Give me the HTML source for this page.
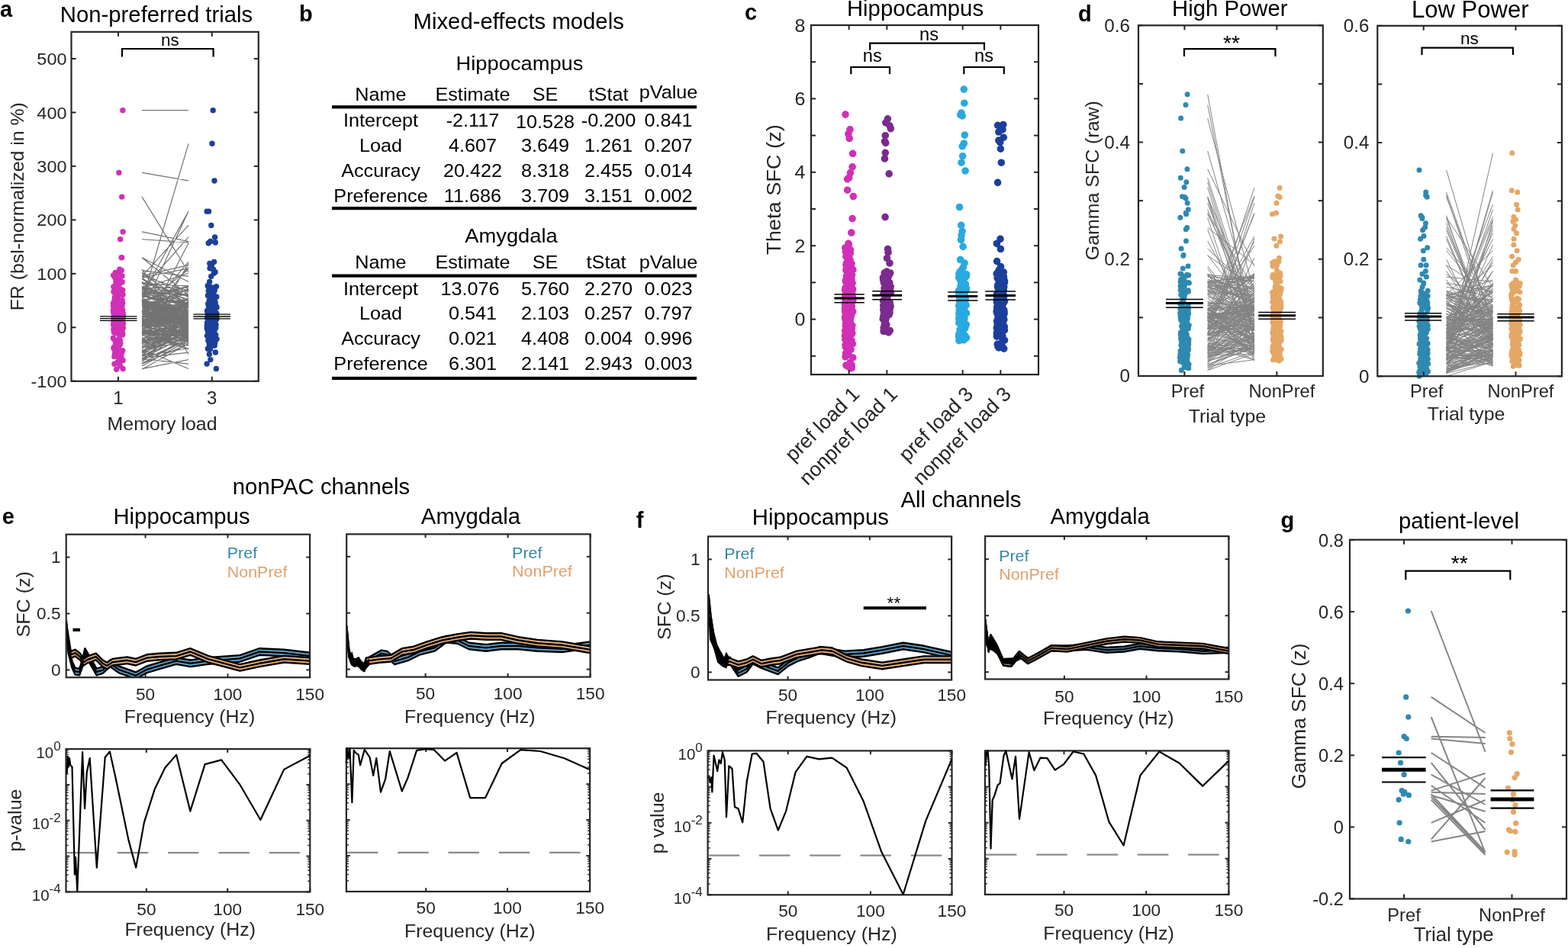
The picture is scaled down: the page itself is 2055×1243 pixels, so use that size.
<!DOCTYPE html>
<html><head><meta charset="utf-8"><title>Figure</title>
<style>html,body{margin:0;padding:0;background:#fff;width:2055px;height:1243px;overflow:hidden}svg{display:block}text{font-family:"Liberation Sans", Arial, Helvetica, sans-serif}</style>
</head><body>
<svg width="2055" height="1243" viewBox="0 0 2055 1243">
<rect width="2055" height="1243" fill="#fff"/>
<path d="M186,405.74L247,409.84M186,412.52L247,419.91M186,414.47L247,407.42M186,386.19L247,408.38M186,420.66L247,413.12M186,412.61L247,422.55M186,439.24L247,457.59M186,380.53L247,413.5M186,408.02L247,433.91M186,434.17L247,433.48M186,427.89L247,411.06M186,396.7L247,433.83M186,431.56L247,441.19M186,405.51L247,413.52M186,470.31L247,477.09M186,393.62L247,409.48M186,384.22L247,419.93M186,411.85L247,418.06M186,436.4L247,427.46M186,369.14L247,418.04M186,416.21L247,398.79M186,417.02L247,449.33M186,456.38L247,435.72M186,400.33L247,404.16M186,389.22L247,434.54M186,406.66L247,447M186,467.38L247,409.08M186,407.29L247,402.62M186,409.11L247,429.01M186,467.29L247,441.21M186,477.15L247,451.24M186,387.09L247,399.5M186,450.72L247,418.58M186,415.09L247,428.11M186,401.14L247,430.85M186,476.55L247,444.34M186,378.38L247,358.21M186,431.9L247,414.91M186,402.34L247,400.36M186,415.98L247,421.45M186,444.54L247,417.13M186,397L247,444.34M186,381.77L247,427.1M186,372.21L247,374.82M186,424.27L247,417.59M186,438.74L247,440.34M186,397.51L247,407.39M186,437.2L247,431M186,376.33L247,425.34M186,391.97L247,413.34M186,420.2L247,391.08M186,420.98L247,430.07M186,463.51L247,434.17M186,427.19L247,395.63M186,436.54L247,438.1M186,429.78L247,436.89M186,410.66L247,402.49M186,371.4L247,422.8M186,401.6L247,398.81M186,407.06L247,416.68M186,432.01L247,415.86M186,412.95L247,420.24M186,421.82L247,418.69M186,424.2L247,418.22M186,357.18L247,401.49M186,421.66L247,400.33M186,405.45L247,406.03M186,365.4L247,394.75M186,394.2L247,374.53M186,415.87L247,421.34M186,397.74L247,439.16M186,396.89L247,393.89M186,454.87L247,427.51M186,376.91L247,392.02M186,448.8L247,415.69M186,424.91L247,398.2M186,470.2L247,439.08M186,421.15L247,406.48M186,439.87L247,453.06M186,387.63L247,399.59M186,392.02L247,420.72M186,397.16L247,412.16M186,417.01L247,377.8M186,418.46L247,426.54M186,398.47L247,415.93M186,477.23L247,441.01M186,419.3L247,438.61M186,437.76L247,411.4M186,370.5L247,387.49M186,450.69L247,430.9M186,420.83L247,444.62M186,426.18L247,446.67M186,379.2L247,381.86M186,446.45L247,402.95M186,452.57L247,432.36M186,401.8L247,426.61M186,437.43L247,439.66M186,437.93L247,448.42M186,448.36L247,434.75M186,472.47L247,423M186,455.7L247,449.8M186,377.75L247,377.22M186,422.79L247,423.35M186,425.26L247,410.19M186,398.91L247,393.92M186,382.73L247,403.68M186,425.42L247,421.73M186,424.16L247,411.56M186,386.4L247,376.44M186,377.56L247,401.78M186,383.72L247,401.19M186,467.35L247,433.51M186,358.29L247,399.13M186,365.93L247,401.35M186,462.84L247,437.53M186,462.07L247,428.82M186,411.17L247,416.65M186,400.71L247,410.06M186,444.53L247,452.97M186,393.37L247,415M186,469.43L247,462.06M186,450.21L247,423.69M186,443.13L247,443.16M186,424.48L247,414.9M186,422.24L247,411.68M186,419.17L247,402.11M186,434.28L247,457.23M186,474.53L247,427.23M186,395.35L247,432.03M186,414.88L247,407.99M186,434.83L247,442.02M186,382.47L247,381.89M186,405.29L247,402.67M186,414.63L247,421.76M186,407.12L247,426.54M186,402.89L247,420.31M186,378.89L247,404.5M186,415.14L247,416.17M186,418.41L247,412.81M186,400.02L247,409.56M186,396.71L247,409.28M186,400.63L247,392.19M186,414.8L247,399.94M186,424.2L247,411.22M186,472.53L247,416.5M186,357.43L247,389.74M186,361.76L247,381.23M186,401.54L247,444.51M186,394.95L247,375.6M186,395.18L247,410.46M186,461.32L247,412.25M186,428.8L247,397.67M186,472.23L247,445.09M186,375.07L247,402.32M186,422.68L247,395.25M186,417.14L247,439.57M186,450.86L247,396.06M186,419.62L247,401.58M186,426.87L247,409.26M186,430.47L247,410.67M186,430.08L247,421.81M186,411.11L247,383.07M186,420.48L247,419.04M186,437.92L247,421.91M186,446.94L247,433.32M186,428.84L247,403.01M186,437.23L247,407.67M186,431.84L247,409.57M186,420.33L247,410.68M186,397.85L247,433M186,456.39L247,430.66M186,450.28L247,441.84M186,407.5L247,414.07M186,432.27L247,444.55M186,383.24L247,387.74M186,410.26L247,401.28M186,467.39L247,456.5M186,459.62L247,441.71M186,407.7L247,419.1M186,465.74L247,423.2M186,406.03L247,379.39M186,407.74L247,425.44M186,411.25L247,411.29M186,425.64L247,428.17M186,479.92L247,446.33M186,402.07L247,380.26M186,428.25L247,420.55M186,381.88L247,386.4M186,462.2L247,420.26M186,402.29L247,415.01M186,428.41L247,418.23M186,369.79L247,389.3M186,435.42L247,433.32M186,433.43L247,426.37M186,439L247,425.2M186,421.01L247,444.66M186,395.19L247,397.53M186,388.56L247,397.91M186,420.08L247,409.81M186,375.99L247,398.14M186,144.64L247,144.64M186,226.38L247,236.94M186,258.08L247,356.73M186,303.88L247,316.56M186,313.75L247,317.97M186,337.7L247,369.41M186,337.7L247,387.02M186,353.2L247,443.39M186,354.61L247,362.36M186,395.48L247,188.33M186,387.02L247,277.11M186,408.16L247,277.11M186,362.36L247,295.43M186,379.98L247,310.93M186,436.35L247,318.68M186,415.21L247,343.34M186,450.44L247,345.45M186,360.95L247,464.53M186,363.77L247,351.79M186,361.66L247,347.57M186,425.78L247,350.38M186,401.12L247,353.2M186,484.26L247,450.44M186,483.55L247,471.58M186,457.48L247,483.55" stroke="#737373" stroke-width="1.2" fill="none"/>
<path d="M147.26,405.74a3.7,3.7 0 1,0 7.4,0a3.7,3.7 0 1,0 -7.4,0M157.66,412.52a3.7,3.7 0 1,0 7.4,0a3.7,3.7 0 1,0 -7.4,0M151.19,414.47a3.7,3.7 0 1,0 7.4,0a3.7,3.7 0 1,0 -7.4,0M157.33,386.19a3.7,3.7 0 1,0 7.4,0a3.7,3.7 0 1,0 -7.4,0M156.79,420.66a3.7,3.7 0 1,0 7.4,0a3.7,3.7 0 1,0 -7.4,0M146.88,412.61a3.7,3.7 0 1,0 7.4,0a3.7,3.7 0 1,0 -7.4,0M155.11,439.24a3.7,3.7 0 1,0 7.4,0a3.7,3.7 0 1,0 -7.4,0M156.98,380.53a3.7,3.7 0 1,0 7.4,0a3.7,3.7 0 1,0 -7.4,0M145.56,408.02a3.7,3.7 0 1,0 7.4,0a3.7,3.7 0 1,0 -7.4,0M149.33,434.17a3.7,3.7 0 1,0 7.4,0a3.7,3.7 0 1,0 -7.4,0M154.68,427.89a3.7,3.7 0 1,0 7.4,0a3.7,3.7 0 1,0 -7.4,0M146.8,396.7a3.7,3.7 0 1,0 7.4,0a3.7,3.7 0 1,0 -7.4,0M156.53,431.56a3.7,3.7 0 1,0 7.4,0a3.7,3.7 0 1,0 -7.4,0M148.33,405.51a3.7,3.7 0 1,0 7.4,0a3.7,3.7 0 1,0 -7.4,0M155.47,470.31a3.7,3.7 0 1,0 7.4,0a3.7,3.7 0 1,0 -7.4,0M146.6,393.62a3.7,3.7 0 1,0 7.4,0a3.7,3.7 0 1,0 -7.4,0M151.33,384.22a3.7,3.7 0 1,0 7.4,0a3.7,3.7 0 1,0 -7.4,0M156.84,411.85a3.7,3.7 0 1,0 7.4,0a3.7,3.7 0 1,0 -7.4,0M147.45,436.4a3.7,3.7 0 1,0 7.4,0a3.7,3.7 0 1,0 -7.4,0M148.17,369.14a3.7,3.7 0 1,0 7.4,0a3.7,3.7 0 1,0 -7.4,0M151.38,416.21a3.7,3.7 0 1,0 7.4,0a3.7,3.7 0 1,0 -7.4,0M148.91,417.02a3.7,3.7 0 1,0 7.4,0a3.7,3.7 0 1,0 -7.4,0M145.19,456.38a3.7,3.7 0 1,0 7.4,0a3.7,3.7 0 1,0 -7.4,0M147.1,400.33a3.7,3.7 0 1,0 7.4,0a3.7,3.7 0 1,0 -7.4,0M146.83,389.22a3.7,3.7 0 1,0 7.4,0a3.7,3.7 0 1,0 -7.4,0M157.06,406.66a3.7,3.7 0 1,0 7.4,0a3.7,3.7 0 1,0 -7.4,0M153.67,467.38a3.7,3.7 0 1,0 7.4,0a3.7,3.7 0 1,0 -7.4,0M156.52,407.29a3.7,3.7 0 1,0 7.4,0a3.7,3.7 0 1,0 -7.4,0M146.93,409.11a3.7,3.7 0 1,0 7.4,0a3.7,3.7 0 1,0 -7.4,0M155.06,467.29a3.7,3.7 0 1,0 7.4,0a3.7,3.7 0 1,0 -7.4,0M146.22,477.15a3.7,3.7 0 1,0 7.4,0a3.7,3.7 0 1,0 -7.4,0M151.71,387.09a3.7,3.7 0 1,0 7.4,0a3.7,3.7 0 1,0 -7.4,0M153.1,450.72a3.7,3.7 0 1,0 7.4,0a3.7,3.7 0 1,0 -7.4,0M149.45,415.09a3.7,3.7 0 1,0 7.4,0a3.7,3.7 0 1,0 -7.4,0M156.22,401.14a3.7,3.7 0 1,0 7.4,0a3.7,3.7 0 1,0 -7.4,0M152.03,476.55a3.7,3.7 0 1,0 7.4,0a3.7,3.7 0 1,0 -7.4,0M152.36,378.38a3.7,3.7 0 1,0 7.4,0a3.7,3.7 0 1,0 -7.4,0M156.35,431.9a3.7,3.7 0 1,0 7.4,0a3.7,3.7 0 1,0 -7.4,0M146.08,402.34a3.7,3.7 0 1,0 7.4,0a3.7,3.7 0 1,0 -7.4,0M157.81,415.98a3.7,3.7 0 1,0 7.4,0a3.7,3.7 0 1,0 -7.4,0M153.01,444.54a3.7,3.7 0 1,0 7.4,0a3.7,3.7 0 1,0 -7.4,0M149.9,397a3.7,3.7 0 1,0 7.4,0a3.7,3.7 0 1,0 -7.4,0M155.23,381.77a3.7,3.7 0 1,0 7.4,0a3.7,3.7 0 1,0 -7.4,0M148.19,372.21a3.7,3.7 0 1,0 7.4,0a3.7,3.7 0 1,0 -7.4,0M157.77,424.27a3.7,3.7 0 1,0 7.4,0a3.7,3.7 0 1,0 -7.4,0M152.32,438.74a3.7,3.7 0 1,0 7.4,0a3.7,3.7 0 1,0 -7.4,0M149.46,397.51a3.7,3.7 0 1,0 7.4,0a3.7,3.7 0 1,0 -7.4,0M154.79,437.2a3.7,3.7 0 1,0 7.4,0a3.7,3.7 0 1,0 -7.4,0M150.54,376.33a3.7,3.7 0 1,0 7.4,0a3.7,3.7 0 1,0 -7.4,0M147.03,391.97a3.7,3.7 0 1,0 7.4,0a3.7,3.7 0 1,0 -7.4,0M154.52,420.2a3.7,3.7 0 1,0 7.4,0a3.7,3.7 0 1,0 -7.4,0M145.34,420.98a3.7,3.7 0 1,0 7.4,0a3.7,3.7 0 1,0 -7.4,0M155.52,463.51a3.7,3.7 0 1,0 7.4,0a3.7,3.7 0 1,0 -7.4,0M148.05,427.19a3.7,3.7 0 1,0 7.4,0a3.7,3.7 0 1,0 -7.4,0M153.14,436.54a3.7,3.7 0 1,0 7.4,0a3.7,3.7 0 1,0 -7.4,0M157.69,429.78a3.7,3.7 0 1,0 7.4,0a3.7,3.7 0 1,0 -7.4,0M152.43,410.66a3.7,3.7 0 1,0 7.4,0a3.7,3.7 0 1,0 -7.4,0M153.46,371.4a3.7,3.7 0 1,0 7.4,0a3.7,3.7 0 1,0 -7.4,0M148.83,401.6a3.7,3.7 0 1,0 7.4,0a3.7,3.7 0 1,0 -7.4,0M144.72,407.06a3.7,3.7 0 1,0 7.4,0a3.7,3.7 0 1,0 -7.4,0M145.15,432.01a3.7,3.7 0 1,0 7.4,0a3.7,3.7 0 1,0 -7.4,0M146.67,412.95a3.7,3.7 0 1,0 7.4,0a3.7,3.7 0 1,0 -7.4,0M152.83,421.82a3.7,3.7 0 1,0 7.4,0a3.7,3.7 0 1,0 -7.4,0M150.41,424.2a3.7,3.7 0 1,0 7.4,0a3.7,3.7 0 1,0 -7.4,0M151.47,357.18a3.7,3.7 0 1,0 7.4,0a3.7,3.7 0 1,0 -7.4,0M156.52,421.66a3.7,3.7 0 1,0 7.4,0a3.7,3.7 0 1,0 -7.4,0M146.44,405.45a3.7,3.7 0 1,0 7.4,0a3.7,3.7 0 1,0 -7.4,0M147.7,365.4a3.7,3.7 0 1,0 7.4,0a3.7,3.7 0 1,0 -7.4,0M153.32,394.2a3.7,3.7 0 1,0 7.4,0a3.7,3.7 0 1,0 -7.4,0M144.99,415.87a3.7,3.7 0 1,0 7.4,0a3.7,3.7 0 1,0 -7.4,0M144.73,397.74a3.7,3.7 0 1,0 7.4,0a3.7,3.7 0 1,0 -7.4,0M149.39,396.89a3.7,3.7 0 1,0 7.4,0a3.7,3.7 0 1,0 -7.4,0M146.1,454.87a3.7,3.7 0 1,0 7.4,0a3.7,3.7 0 1,0 -7.4,0M149.41,376.91a3.7,3.7 0 1,0 7.4,0a3.7,3.7 0 1,0 -7.4,0M147.66,448.8a3.7,3.7 0 1,0 7.4,0a3.7,3.7 0 1,0 -7.4,0M152.4,424.91a3.7,3.7 0 1,0 7.4,0a3.7,3.7 0 1,0 -7.4,0M152.48,470.2a3.7,3.7 0 1,0 7.4,0a3.7,3.7 0 1,0 -7.4,0M147.4,421.15a3.7,3.7 0 1,0 7.4,0a3.7,3.7 0 1,0 -7.4,0M152.94,439.87a3.7,3.7 0 1,0 7.4,0a3.7,3.7 0 1,0 -7.4,0M150.97,387.63a3.7,3.7 0 1,0 7.4,0a3.7,3.7 0 1,0 -7.4,0M146.48,392.02a3.7,3.7 0 1,0 7.4,0a3.7,3.7 0 1,0 -7.4,0M157.06,397.16a3.7,3.7 0 1,0 7.4,0a3.7,3.7 0 1,0 -7.4,0M147.92,417.01a3.7,3.7 0 1,0 7.4,0a3.7,3.7 0 1,0 -7.4,0M146.67,418.46a3.7,3.7 0 1,0 7.4,0a3.7,3.7 0 1,0 -7.4,0M145.96,398.47a3.7,3.7 0 1,0 7.4,0a3.7,3.7 0 1,0 -7.4,0M153.12,477.23a3.7,3.7 0 1,0 7.4,0a3.7,3.7 0 1,0 -7.4,0M156.2,419.3a3.7,3.7 0 1,0 7.4,0a3.7,3.7 0 1,0 -7.4,0M155.02,437.76a3.7,3.7 0 1,0 7.4,0a3.7,3.7 0 1,0 -7.4,0M150.01,370.5a3.7,3.7 0 1,0 7.4,0a3.7,3.7 0 1,0 -7.4,0M148.19,450.69a3.7,3.7 0 1,0 7.4,0a3.7,3.7 0 1,0 -7.4,0M144.85,420.83a3.7,3.7 0 1,0 7.4,0a3.7,3.7 0 1,0 -7.4,0M153.21,426.18a3.7,3.7 0 1,0 7.4,0a3.7,3.7 0 1,0 -7.4,0M152.12,379.2a3.7,3.7 0 1,0 7.4,0a3.7,3.7 0 1,0 -7.4,0M149.32,446.45a3.7,3.7 0 1,0 7.4,0a3.7,3.7 0 1,0 -7.4,0M153.22,452.57a3.7,3.7 0 1,0 7.4,0a3.7,3.7 0 1,0 -7.4,0M150.56,401.8a3.7,3.7 0 1,0 7.4,0a3.7,3.7 0 1,0 -7.4,0M157.07,437.43a3.7,3.7 0 1,0 7.4,0a3.7,3.7 0 1,0 -7.4,0M154.38,437.93a3.7,3.7 0 1,0 7.4,0a3.7,3.7 0 1,0 -7.4,0M147.98,448.36a3.7,3.7 0 1,0 7.4,0a3.7,3.7 0 1,0 -7.4,0M156.63,472.47a3.7,3.7 0 1,0 7.4,0a3.7,3.7 0 1,0 -7.4,0M145.28,455.7a3.7,3.7 0 1,0 7.4,0a3.7,3.7 0 1,0 -7.4,0M151.72,377.75a3.7,3.7 0 1,0 7.4,0a3.7,3.7 0 1,0 -7.4,0M150.06,422.79a3.7,3.7 0 1,0 7.4,0a3.7,3.7 0 1,0 -7.4,0M147.84,425.26a3.7,3.7 0 1,0 7.4,0a3.7,3.7 0 1,0 -7.4,0M145.47,398.91a3.7,3.7 0 1,0 7.4,0a3.7,3.7 0 1,0 -7.4,0M154.98,382.73a3.7,3.7 0 1,0 7.4,0a3.7,3.7 0 1,0 -7.4,0M144.86,425.42a3.7,3.7 0 1,0 7.4,0a3.7,3.7 0 1,0 -7.4,0M151.97,424.16a3.7,3.7 0 1,0 7.4,0a3.7,3.7 0 1,0 -7.4,0M157.12,386.4a3.7,3.7 0 1,0 7.4,0a3.7,3.7 0 1,0 -7.4,0M146.58,377.56a3.7,3.7 0 1,0 7.4,0a3.7,3.7 0 1,0 -7.4,0M147.33,383.72a3.7,3.7 0 1,0 7.4,0a3.7,3.7 0 1,0 -7.4,0M152.73,467.35a3.7,3.7 0 1,0 7.4,0a3.7,3.7 0 1,0 -7.4,0M151.39,358.29a3.7,3.7 0 1,0 7.4,0a3.7,3.7 0 1,0 -7.4,0M153.17,365.93a3.7,3.7 0 1,0 7.4,0a3.7,3.7 0 1,0 -7.4,0M155.44,462.84a3.7,3.7 0 1,0 7.4,0a3.7,3.7 0 1,0 -7.4,0M147.01,462.07a3.7,3.7 0 1,0 7.4,0a3.7,3.7 0 1,0 -7.4,0M148.78,411.17a3.7,3.7 0 1,0 7.4,0a3.7,3.7 0 1,0 -7.4,0M148.66,400.71a3.7,3.7 0 1,0 7.4,0a3.7,3.7 0 1,0 -7.4,0M145.34,444.53a3.7,3.7 0 1,0 7.4,0a3.7,3.7 0 1,0 -7.4,0M156.44,393.37a3.7,3.7 0 1,0 7.4,0a3.7,3.7 0 1,0 -7.4,0M155.04,469.43a3.7,3.7 0 1,0 7.4,0a3.7,3.7 0 1,0 -7.4,0M154.14,450.21a3.7,3.7 0 1,0 7.4,0a3.7,3.7 0 1,0 -7.4,0M144.78,443.13a3.7,3.7 0 1,0 7.4,0a3.7,3.7 0 1,0 -7.4,0M155.85,424.48a3.7,3.7 0 1,0 7.4,0a3.7,3.7 0 1,0 -7.4,0M154.54,422.24a3.7,3.7 0 1,0 7.4,0a3.7,3.7 0 1,0 -7.4,0M150.84,419.17a3.7,3.7 0 1,0 7.4,0a3.7,3.7 0 1,0 -7.4,0M154.49,434.28a3.7,3.7 0 1,0 7.4,0a3.7,3.7 0 1,0 -7.4,0M150.67,474.53a3.7,3.7 0 1,0 7.4,0a3.7,3.7 0 1,0 -7.4,0M147.68,395.35a3.7,3.7 0 1,0 7.4,0a3.7,3.7 0 1,0 -7.4,0M146.09,414.88a3.7,3.7 0 1,0 7.4,0a3.7,3.7 0 1,0 -7.4,0M147.77,434.83a3.7,3.7 0 1,0 7.4,0a3.7,3.7 0 1,0 -7.4,0M145.21,382.47a3.7,3.7 0 1,0 7.4,0a3.7,3.7 0 1,0 -7.4,0M149.13,405.29a3.7,3.7 0 1,0 7.4,0a3.7,3.7 0 1,0 -7.4,0M154.6,414.63a3.7,3.7 0 1,0 7.4,0a3.7,3.7 0 1,0 -7.4,0M153.88,407.12a3.7,3.7 0 1,0 7.4,0a3.7,3.7 0 1,0 -7.4,0M155.86,402.89a3.7,3.7 0 1,0 7.4,0a3.7,3.7 0 1,0 -7.4,0M154.09,378.89a3.7,3.7 0 1,0 7.4,0a3.7,3.7 0 1,0 -7.4,0M148.21,415.14a3.7,3.7 0 1,0 7.4,0a3.7,3.7 0 1,0 -7.4,0M152.01,418.41a3.7,3.7 0 1,0 7.4,0a3.7,3.7 0 1,0 -7.4,0M150.46,400.02a3.7,3.7 0 1,0 7.4,0a3.7,3.7 0 1,0 -7.4,0M155.11,396.71a3.7,3.7 0 1,0 7.4,0a3.7,3.7 0 1,0 -7.4,0M151.61,400.63a3.7,3.7 0 1,0 7.4,0a3.7,3.7 0 1,0 -7.4,0M148.2,414.8a3.7,3.7 0 1,0 7.4,0a3.7,3.7 0 1,0 -7.4,0M153.17,424.2a3.7,3.7 0 1,0 7.4,0a3.7,3.7 0 1,0 -7.4,0M157.44,472.53a3.7,3.7 0 1,0 7.4,0a3.7,3.7 0 1,0 -7.4,0M147.56,357.43a3.7,3.7 0 1,0 7.4,0a3.7,3.7 0 1,0 -7.4,0M156.32,361.76a3.7,3.7 0 1,0 7.4,0a3.7,3.7 0 1,0 -7.4,0M144.9,401.54a3.7,3.7 0 1,0 7.4,0a3.7,3.7 0 1,0 -7.4,0M148.14,394.95a3.7,3.7 0 1,0 7.4,0a3.7,3.7 0 1,0 -7.4,0M147.82,395.18a3.7,3.7 0 1,0 7.4,0a3.7,3.7 0 1,0 -7.4,0M154.52,461.32a3.7,3.7 0 1,0 7.4,0a3.7,3.7 0 1,0 -7.4,0M157.17,428.8a3.7,3.7 0 1,0 7.4,0a3.7,3.7 0 1,0 -7.4,0M154.55,472.23a3.7,3.7 0 1,0 7.4,0a3.7,3.7 0 1,0 -7.4,0M149.01,375.07a3.7,3.7 0 1,0 7.4,0a3.7,3.7 0 1,0 -7.4,0M156.32,422.68a3.7,3.7 0 1,0 7.4,0a3.7,3.7 0 1,0 -7.4,0M149.04,417.14a3.7,3.7 0 1,0 7.4,0a3.7,3.7 0 1,0 -7.4,0M147.86,450.86a3.7,3.7 0 1,0 7.4,0a3.7,3.7 0 1,0 -7.4,0M156.68,419.62a3.7,3.7 0 1,0 7.4,0a3.7,3.7 0 1,0 -7.4,0M153.03,426.87a3.7,3.7 0 1,0 7.4,0a3.7,3.7 0 1,0 -7.4,0M153.85,430.47a3.7,3.7 0 1,0 7.4,0a3.7,3.7 0 1,0 -7.4,0M153.48,430.08a3.7,3.7 0 1,0 7.4,0a3.7,3.7 0 1,0 -7.4,0M157.62,411.11a3.7,3.7 0 1,0 7.4,0a3.7,3.7 0 1,0 -7.4,0M150.9,420.48a3.7,3.7 0 1,0 7.4,0a3.7,3.7 0 1,0 -7.4,0M155.78,437.92a3.7,3.7 0 1,0 7.4,0a3.7,3.7 0 1,0 -7.4,0M153.91,446.94a3.7,3.7 0 1,0 7.4,0a3.7,3.7 0 1,0 -7.4,0M156.02,428.84a3.7,3.7 0 1,0 7.4,0a3.7,3.7 0 1,0 -7.4,0M150.47,437.23a3.7,3.7 0 1,0 7.4,0a3.7,3.7 0 1,0 -7.4,0M154.27,431.84a3.7,3.7 0 1,0 7.4,0a3.7,3.7 0 1,0 -7.4,0M152.23,420.33a3.7,3.7 0 1,0 7.4,0a3.7,3.7 0 1,0 -7.4,0M148.76,397.85a3.7,3.7 0 1,0 7.4,0a3.7,3.7 0 1,0 -7.4,0M147.5,456.39a3.7,3.7 0 1,0 7.4,0a3.7,3.7 0 1,0 -7.4,0M152.92,450.28a3.7,3.7 0 1,0 7.4,0a3.7,3.7 0 1,0 -7.4,0M145.73,407.5a3.7,3.7 0 1,0 7.4,0a3.7,3.7 0 1,0 -7.4,0M156.72,432.27a3.7,3.7 0 1,0 7.4,0a3.7,3.7 0 1,0 -7.4,0M146.61,383.24a3.7,3.7 0 1,0 7.4,0a3.7,3.7 0 1,0 -7.4,0M145.06,410.26a3.7,3.7 0 1,0 7.4,0a3.7,3.7 0 1,0 -7.4,0M146.11,467.39a3.7,3.7 0 1,0 7.4,0a3.7,3.7 0 1,0 -7.4,0M156.96,459.62a3.7,3.7 0 1,0 7.4,0a3.7,3.7 0 1,0 -7.4,0M149.25,407.7a3.7,3.7 0 1,0 7.4,0a3.7,3.7 0 1,0 -7.4,0M146.57,465.74a3.7,3.7 0 1,0 7.4,0a3.7,3.7 0 1,0 -7.4,0M145.08,406.03a3.7,3.7 0 1,0 7.4,0a3.7,3.7 0 1,0 -7.4,0M145.25,407.74a3.7,3.7 0 1,0 7.4,0a3.7,3.7 0 1,0 -7.4,0M153.84,411.25a3.7,3.7 0 1,0 7.4,0a3.7,3.7 0 1,0 -7.4,0M153.07,425.64a3.7,3.7 0 1,0 7.4,0a3.7,3.7 0 1,0 -7.4,0M153.9,479.92a3.7,3.7 0 1,0 7.4,0a3.7,3.7 0 1,0 -7.4,0M154.43,402.07a3.7,3.7 0 1,0 7.4,0a3.7,3.7 0 1,0 -7.4,0M145.57,428.25a3.7,3.7 0 1,0 7.4,0a3.7,3.7 0 1,0 -7.4,0M152.49,381.88a3.7,3.7 0 1,0 7.4,0a3.7,3.7 0 1,0 -7.4,0M149.5,462.2a3.7,3.7 0 1,0 7.4,0a3.7,3.7 0 1,0 -7.4,0M155.49,402.29a3.7,3.7 0 1,0 7.4,0a3.7,3.7 0 1,0 -7.4,0M155.52,428.41a3.7,3.7 0 1,0 7.4,0a3.7,3.7 0 1,0 -7.4,0M156.46,369.79a3.7,3.7 0 1,0 7.4,0a3.7,3.7 0 1,0 -7.4,0M145.57,435.42a3.7,3.7 0 1,0 7.4,0a3.7,3.7 0 1,0 -7.4,0M156.15,433.43a3.7,3.7 0 1,0 7.4,0a3.7,3.7 0 1,0 -7.4,0M156.77,439a3.7,3.7 0 1,0 7.4,0a3.7,3.7 0 1,0 -7.4,0M157.17,421.01a3.7,3.7 0 1,0 7.4,0a3.7,3.7 0 1,0 -7.4,0M146.11,395.19a3.7,3.7 0 1,0 7.4,0a3.7,3.7 0 1,0 -7.4,0M147.42,388.56a3.7,3.7 0 1,0 7.4,0a3.7,3.7 0 1,0 -7.4,0M146.18,420.08a3.7,3.7 0 1,0 7.4,0a3.7,3.7 0 1,0 -7.4,0M145.15,375.99a3.7,3.7 0 1,0 7.4,0a3.7,3.7 0 1,0 -7.4,0M157.2,144.64a3.7,3.7 0 1,0 7.4,0a3.7,3.7 0 1,0 -7.4,0M152.2,226.38a3.7,3.7 0 1,0 7.4,0a3.7,3.7 0 1,0 -7.4,0M156,258.08a3.7,3.7 0 1,0 7.4,0a3.7,3.7 0 1,0 -7.4,0M157.4,303.88a3.7,3.7 0 1,0 7.4,0a3.7,3.7 0 1,0 -7.4,0M154,313.75a3.7,3.7 0 1,0 7.4,0a3.7,3.7 0 1,0 -7.4,0M155.89,337.7a3.7,3.7 0 1,0 7.4,0a3.7,3.7 0 1,0 -7.4,0M155.42,337.7a3.7,3.7 0 1,0 7.4,0a3.7,3.7 0 1,0 -7.4,0M153.07,353.2a3.7,3.7 0 1,0 7.4,0a3.7,3.7 0 1,0 -7.4,0M155.59,354.61a3.7,3.7 0 1,0 7.4,0a3.7,3.7 0 1,0 -7.4,0M153.04,395.48a3.7,3.7 0 1,0 7.4,0a3.7,3.7 0 1,0 -7.4,0M148.49,387.02a3.7,3.7 0 1,0 7.4,0a3.7,3.7 0 1,0 -7.4,0M146.02,408.16a3.7,3.7 0 1,0 7.4,0a3.7,3.7 0 1,0 -7.4,0M145.99,362.36a3.7,3.7 0 1,0 7.4,0a3.7,3.7 0 1,0 -7.4,0M154.7,379.98a3.7,3.7 0 1,0 7.4,0a3.7,3.7 0 1,0 -7.4,0M147.41,436.35a3.7,3.7 0 1,0 7.4,0a3.7,3.7 0 1,0 -7.4,0M148.91,415.21a3.7,3.7 0 1,0 7.4,0a3.7,3.7 0 1,0 -7.4,0M150.29,450.44a3.7,3.7 0 1,0 7.4,0a3.7,3.7 0 1,0 -7.4,0M144.98,360.95a3.7,3.7 0 1,0 7.4,0a3.7,3.7 0 1,0 -7.4,0M148.09,363.77a3.7,3.7 0 1,0 7.4,0a3.7,3.7 0 1,0 -7.4,0M148.43,361.66a3.7,3.7 0 1,0 7.4,0a3.7,3.7 0 1,0 -7.4,0M154.15,425.78a3.7,3.7 0 1,0 7.4,0a3.7,3.7 0 1,0 -7.4,0M149.56,401.12a3.7,3.7 0 1,0 7.4,0a3.7,3.7 0 1,0 -7.4,0M148.93,484.26a3.7,3.7 0 1,0 7.4,0a3.7,3.7 0 1,0 -7.4,0M157.42,483.55a3.7,3.7 0 1,0 7.4,0a3.7,3.7 0 1,0 -7.4,0M151.35,457.48a3.7,3.7 0 1,0 7.4,0a3.7,3.7 0 1,0 -7.4,0" fill="#D12FB7"/>
<path d="M278.64,409.84a3.7,3.7 0 1,0 7.4,0a3.7,3.7 0 1,0 -7.4,0M275.56,419.91a3.7,3.7 0 1,0 7.4,0a3.7,3.7 0 1,0 -7.4,0M267.81,407.42a3.7,3.7 0 1,0 7.4,0a3.7,3.7 0 1,0 -7.4,0M272.85,408.38a3.7,3.7 0 1,0 7.4,0a3.7,3.7 0 1,0 -7.4,0M273.16,413.12a3.7,3.7 0 1,0 7.4,0a3.7,3.7 0 1,0 -7.4,0M277.6,422.55a3.7,3.7 0 1,0 7.4,0a3.7,3.7 0 1,0 -7.4,0M271.98,457.59a3.7,3.7 0 1,0 7.4,0a3.7,3.7 0 1,0 -7.4,0M276.7,413.5a3.7,3.7 0 1,0 7.4,0a3.7,3.7 0 1,0 -7.4,0M274.5,433.91a3.7,3.7 0 1,0 7.4,0a3.7,3.7 0 1,0 -7.4,0M270.26,433.48a3.7,3.7 0 1,0 7.4,0a3.7,3.7 0 1,0 -7.4,0M278.78,411.06a3.7,3.7 0 1,0 7.4,0a3.7,3.7 0 1,0 -7.4,0M268.6,433.83a3.7,3.7 0 1,0 7.4,0a3.7,3.7 0 1,0 -7.4,0M278.22,441.19a3.7,3.7 0 1,0 7.4,0a3.7,3.7 0 1,0 -7.4,0M269.65,413.52a3.7,3.7 0 1,0 7.4,0a3.7,3.7 0 1,0 -7.4,0M267.42,477.09a3.7,3.7 0 1,0 7.4,0a3.7,3.7 0 1,0 -7.4,0M270.07,409.48a3.7,3.7 0 1,0 7.4,0a3.7,3.7 0 1,0 -7.4,0M277.46,419.93a3.7,3.7 0 1,0 7.4,0a3.7,3.7 0 1,0 -7.4,0M280.31,418.06a3.7,3.7 0 1,0 7.4,0a3.7,3.7 0 1,0 -7.4,0M267.46,427.46a3.7,3.7 0 1,0 7.4,0a3.7,3.7 0 1,0 -7.4,0M273.88,418.04a3.7,3.7 0 1,0 7.4,0a3.7,3.7 0 1,0 -7.4,0M273.89,398.79a3.7,3.7 0 1,0 7.4,0a3.7,3.7 0 1,0 -7.4,0M277.92,449.33a3.7,3.7 0 1,0 7.4,0a3.7,3.7 0 1,0 -7.4,0M269.84,435.72a3.7,3.7 0 1,0 7.4,0a3.7,3.7 0 1,0 -7.4,0M273.93,404.16a3.7,3.7 0 1,0 7.4,0a3.7,3.7 0 1,0 -7.4,0M271.98,434.54a3.7,3.7 0 1,0 7.4,0a3.7,3.7 0 1,0 -7.4,0M278.38,447a3.7,3.7 0 1,0 7.4,0a3.7,3.7 0 1,0 -7.4,0M270.84,409.08a3.7,3.7 0 1,0 7.4,0a3.7,3.7 0 1,0 -7.4,0M279.86,402.62a3.7,3.7 0 1,0 7.4,0a3.7,3.7 0 1,0 -7.4,0M271.15,429.01a3.7,3.7 0 1,0 7.4,0a3.7,3.7 0 1,0 -7.4,0M270.23,441.21a3.7,3.7 0 1,0 7.4,0a3.7,3.7 0 1,0 -7.4,0M276.63,451.24a3.7,3.7 0 1,0 7.4,0a3.7,3.7 0 1,0 -7.4,0M273.98,399.5a3.7,3.7 0 1,0 7.4,0a3.7,3.7 0 1,0 -7.4,0M268.85,418.58a3.7,3.7 0 1,0 7.4,0a3.7,3.7 0 1,0 -7.4,0M275.8,428.11a3.7,3.7 0 1,0 7.4,0a3.7,3.7 0 1,0 -7.4,0M268.47,430.85a3.7,3.7 0 1,0 7.4,0a3.7,3.7 0 1,0 -7.4,0M277.8,444.34a3.7,3.7 0 1,0 7.4,0a3.7,3.7 0 1,0 -7.4,0M276.6,358.21a3.7,3.7 0 1,0 7.4,0a3.7,3.7 0 1,0 -7.4,0M277.79,414.91a3.7,3.7 0 1,0 7.4,0a3.7,3.7 0 1,0 -7.4,0M275.69,400.36a3.7,3.7 0 1,0 7.4,0a3.7,3.7 0 1,0 -7.4,0M272.09,421.45a3.7,3.7 0 1,0 7.4,0a3.7,3.7 0 1,0 -7.4,0M272.7,417.13a3.7,3.7 0 1,0 7.4,0a3.7,3.7 0 1,0 -7.4,0M272.61,444.34a3.7,3.7 0 1,0 7.4,0a3.7,3.7 0 1,0 -7.4,0M279.15,427.1a3.7,3.7 0 1,0 7.4,0a3.7,3.7 0 1,0 -7.4,0M268.54,374.82a3.7,3.7 0 1,0 7.4,0a3.7,3.7 0 1,0 -7.4,0M279.13,417.59a3.7,3.7 0 1,0 7.4,0a3.7,3.7 0 1,0 -7.4,0M267.73,440.34a3.7,3.7 0 1,0 7.4,0a3.7,3.7 0 1,0 -7.4,0M270.12,407.39a3.7,3.7 0 1,0 7.4,0a3.7,3.7 0 1,0 -7.4,0M270.87,431a3.7,3.7 0 1,0 7.4,0a3.7,3.7 0 1,0 -7.4,0M279.3,425.34a3.7,3.7 0 1,0 7.4,0a3.7,3.7 0 1,0 -7.4,0M274.02,413.34a3.7,3.7 0 1,0 7.4,0a3.7,3.7 0 1,0 -7.4,0M272.41,391.08a3.7,3.7 0 1,0 7.4,0a3.7,3.7 0 1,0 -7.4,0M279.07,430.07a3.7,3.7 0 1,0 7.4,0a3.7,3.7 0 1,0 -7.4,0M270.48,434.17a3.7,3.7 0 1,0 7.4,0a3.7,3.7 0 1,0 -7.4,0M273.48,395.63a3.7,3.7 0 1,0 7.4,0a3.7,3.7 0 1,0 -7.4,0M274.42,438.1a3.7,3.7 0 1,0 7.4,0a3.7,3.7 0 1,0 -7.4,0M277.36,436.89a3.7,3.7 0 1,0 7.4,0a3.7,3.7 0 1,0 -7.4,0M277.34,402.49a3.7,3.7 0 1,0 7.4,0a3.7,3.7 0 1,0 -7.4,0M275.93,422.8a3.7,3.7 0 1,0 7.4,0a3.7,3.7 0 1,0 -7.4,0M272,398.81a3.7,3.7 0 1,0 7.4,0a3.7,3.7 0 1,0 -7.4,0M271.71,416.68a3.7,3.7 0 1,0 7.4,0a3.7,3.7 0 1,0 -7.4,0M269.45,415.86a3.7,3.7 0 1,0 7.4,0a3.7,3.7 0 1,0 -7.4,0M278.53,420.24a3.7,3.7 0 1,0 7.4,0a3.7,3.7 0 1,0 -7.4,0M276.14,418.69a3.7,3.7 0 1,0 7.4,0a3.7,3.7 0 1,0 -7.4,0M277.19,418.22a3.7,3.7 0 1,0 7.4,0a3.7,3.7 0 1,0 -7.4,0M269.64,401.49a3.7,3.7 0 1,0 7.4,0a3.7,3.7 0 1,0 -7.4,0M273.19,400.33a3.7,3.7 0 1,0 7.4,0a3.7,3.7 0 1,0 -7.4,0M277.61,406.03a3.7,3.7 0 1,0 7.4,0a3.7,3.7 0 1,0 -7.4,0M275.05,394.75a3.7,3.7 0 1,0 7.4,0a3.7,3.7 0 1,0 -7.4,0M269.06,374.53a3.7,3.7 0 1,0 7.4,0a3.7,3.7 0 1,0 -7.4,0M273.5,421.34a3.7,3.7 0 1,0 7.4,0a3.7,3.7 0 1,0 -7.4,0M279.08,439.16a3.7,3.7 0 1,0 7.4,0a3.7,3.7 0 1,0 -7.4,0M270.54,393.89a3.7,3.7 0 1,0 7.4,0a3.7,3.7 0 1,0 -7.4,0M269.93,427.51a3.7,3.7 0 1,0 7.4,0a3.7,3.7 0 1,0 -7.4,0M271.38,392.02a3.7,3.7 0 1,0 7.4,0a3.7,3.7 0 1,0 -7.4,0M276.68,415.69a3.7,3.7 0 1,0 7.4,0a3.7,3.7 0 1,0 -7.4,0M278.54,398.2a3.7,3.7 0 1,0 7.4,0a3.7,3.7 0 1,0 -7.4,0M269.44,439.08a3.7,3.7 0 1,0 7.4,0a3.7,3.7 0 1,0 -7.4,0M269.46,406.48a3.7,3.7 0 1,0 7.4,0a3.7,3.7 0 1,0 -7.4,0M270.67,453.06a3.7,3.7 0 1,0 7.4,0a3.7,3.7 0 1,0 -7.4,0M271.71,399.59a3.7,3.7 0 1,0 7.4,0a3.7,3.7 0 1,0 -7.4,0M274.29,420.72a3.7,3.7 0 1,0 7.4,0a3.7,3.7 0 1,0 -7.4,0M269.52,412.16a3.7,3.7 0 1,0 7.4,0a3.7,3.7 0 1,0 -7.4,0M271.73,377.8a3.7,3.7 0 1,0 7.4,0a3.7,3.7 0 1,0 -7.4,0M269.9,426.54a3.7,3.7 0 1,0 7.4,0a3.7,3.7 0 1,0 -7.4,0M280.27,415.93a3.7,3.7 0 1,0 7.4,0a3.7,3.7 0 1,0 -7.4,0M277.02,441.01a3.7,3.7 0 1,0 7.4,0a3.7,3.7 0 1,0 -7.4,0M268.74,438.61a3.7,3.7 0 1,0 7.4,0a3.7,3.7 0 1,0 -7.4,0M280.1,411.4a3.7,3.7 0 1,0 7.4,0a3.7,3.7 0 1,0 -7.4,0M268.74,387.49a3.7,3.7 0 1,0 7.4,0a3.7,3.7 0 1,0 -7.4,0M272.47,430.9a3.7,3.7 0 1,0 7.4,0a3.7,3.7 0 1,0 -7.4,0M280.39,444.62a3.7,3.7 0 1,0 7.4,0a3.7,3.7 0 1,0 -7.4,0M277.89,446.67a3.7,3.7 0 1,0 7.4,0a3.7,3.7 0 1,0 -7.4,0M277.08,381.86a3.7,3.7 0 1,0 7.4,0a3.7,3.7 0 1,0 -7.4,0M273.14,402.95a3.7,3.7 0 1,0 7.4,0a3.7,3.7 0 1,0 -7.4,0M269.99,432.36a3.7,3.7 0 1,0 7.4,0a3.7,3.7 0 1,0 -7.4,0M275.82,426.61a3.7,3.7 0 1,0 7.4,0a3.7,3.7 0 1,0 -7.4,0M268.81,439.66a3.7,3.7 0 1,0 7.4,0a3.7,3.7 0 1,0 -7.4,0M270.13,448.42a3.7,3.7 0 1,0 7.4,0a3.7,3.7 0 1,0 -7.4,0M272.53,434.75a3.7,3.7 0 1,0 7.4,0a3.7,3.7 0 1,0 -7.4,0M267.85,423a3.7,3.7 0 1,0 7.4,0a3.7,3.7 0 1,0 -7.4,0M272.67,449.8a3.7,3.7 0 1,0 7.4,0a3.7,3.7 0 1,0 -7.4,0M277.84,377.22a3.7,3.7 0 1,0 7.4,0a3.7,3.7 0 1,0 -7.4,0M276.55,423.35a3.7,3.7 0 1,0 7.4,0a3.7,3.7 0 1,0 -7.4,0M274.01,410.19a3.7,3.7 0 1,0 7.4,0a3.7,3.7 0 1,0 -7.4,0M275.75,393.92a3.7,3.7 0 1,0 7.4,0a3.7,3.7 0 1,0 -7.4,0M273.52,403.68a3.7,3.7 0 1,0 7.4,0a3.7,3.7 0 1,0 -7.4,0M269.27,421.73a3.7,3.7 0 1,0 7.4,0a3.7,3.7 0 1,0 -7.4,0M275.37,411.56a3.7,3.7 0 1,0 7.4,0a3.7,3.7 0 1,0 -7.4,0M272.74,376.44a3.7,3.7 0 1,0 7.4,0a3.7,3.7 0 1,0 -7.4,0M277.18,401.78a3.7,3.7 0 1,0 7.4,0a3.7,3.7 0 1,0 -7.4,0M279.39,401.19a3.7,3.7 0 1,0 7.4,0a3.7,3.7 0 1,0 -7.4,0M273.08,433.51a3.7,3.7 0 1,0 7.4,0a3.7,3.7 0 1,0 -7.4,0M274.98,399.13a3.7,3.7 0 1,0 7.4,0a3.7,3.7 0 1,0 -7.4,0M277.29,401.35a3.7,3.7 0 1,0 7.4,0a3.7,3.7 0 1,0 -7.4,0M272.96,437.53a3.7,3.7 0 1,0 7.4,0a3.7,3.7 0 1,0 -7.4,0M270.42,428.82a3.7,3.7 0 1,0 7.4,0a3.7,3.7 0 1,0 -7.4,0M276.93,416.65a3.7,3.7 0 1,0 7.4,0a3.7,3.7 0 1,0 -7.4,0M279.02,410.06a3.7,3.7 0 1,0 7.4,0a3.7,3.7 0 1,0 -7.4,0M277.62,452.97a3.7,3.7 0 1,0 7.4,0a3.7,3.7 0 1,0 -7.4,0M276.64,415a3.7,3.7 0 1,0 7.4,0a3.7,3.7 0 1,0 -7.4,0M278.65,462.06a3.7,3.7 0 1,0 7.4,0a3.7,3.7 0 1,0 -7.4,0M276.37,423.69a3.7,3.7 0 1,0 7.4,0a3.7,3.7 0 1,0 -7.4,0M275.87,443.16a3.7,3.7 0 1,0 7.4,0a3.7,3.7 0 1,0 -7.4,0M273.39,414.9a3.7,3.7 0 1,0 7.4,0a3.7,3.7 0 1,0 -7.4,0M271.53,411.68a3.7,3.7 0 1,0 7.4,0a3.7,3.7 0 1,0 -7.4,0M275.69,402.11a3.7,3.7 0 1,0 7.4,0a3.7,3.7 0 1,0 -7.4,0M268.69,457.23a3.7,3.7 0 1,0 7.4,0a3.7,3.7 0 1,0 -7.4,0M272.94,427.23a3.7,3.7 0 1,0 7.4,0a3.7,3.7 0 1,0 -7.4,0M277.73,432.03a3.7,3.7 0 1,0 7.4,0a3.7,3.7 0 1,0 -7.4,0M276.81,407.99a3.7,3.7 0 1,0 7.4,0a3.7,3.7 0 1,0 -7.4,0M275.71,442.02a3.7,3.7 0 1,0 7.4,0a3.7,3.7 0 1,0 -7.4,0M270.7,381.89a3.7,3.7 0 1,0 7.4,0a3.7,3.7 0 1,0 -7.4,0M272.99,402.67a3.7,3.7 0 1,0 7.4,0a3.7,3.7 0 1,0 -7.4,0M273.41,421.76a3.7,3.7 0 1,0 7.4,0a3.7,3.7 0 1,0 -7.4,0M275.6,426.54a3.7,3.7 0 1,0 7.4,0a3.7,3.7 0 1,0 -7.4,0M272.8,420.31a3.7,3.7 0 1,0 7.4,0a3.7,3.7 0 1,0 -7.4,0M276.31,404.5a3.7,3.7 0 1,0 7.4,0a3.7,3.7 0 1,0 -7.4,0M279.68,416.17a3.7,3.7 0 1,0 7.4,0a3.7,3.7 0 1,0 -7.4,0M269.82,412.81a3.7,3.7 0 1,0 7.4,0a3.7,3.7 0 1,0 -7.4,0M276.04,409.56a3.7,3.7 0 1,0 7.4,0a3.7,3.7 0 1,0 -7.4,0M277.67,409.28a3.7,3.7 0 1,0 7.4,0a3.7,3.7 0 1,0 -7.4,0M272.53,392.19a3.7,3.7 0 1,0 7.4,0a3.7,3.7 0 1,0 -7.4,0M273.87,399.94a3.7,3.7 0 1,0 7.4,0a3.7,3.7 0 1,0 -7.4,0M280.26,411.22a3.7,3.7 0 1,0 7.4,0a3.7,3.7 0 1,0 -7.4,0M267.9,416.5a3.7,3.7 0 1,0 7.4,0a3.7,3.7 0 1,0 -7.4,0M274.57,389.74a3.7,3.7 0 1,0 7.4,0a3.7,3.7 0 1,0 -7.4,0M269.52,381.23a3.7,3.7 0 1,0 7.4,0a3.7,3.7 0 1,0 -7.4,0M277.72,444.51a3.7,3.7 0 1,0 7.4,0a3.7,3.7 0 1,0 -7.4,0M279.82,375.6a3.7,3.7 0 1,0 7.4,0a3.7,3.7 0 1,0 -7.4,0M274.25,410.46a3.7,3.7 0 1,0 7.4,0a3.7,3.7 0 1,0 -7.4,0M268.73,412.25a3.7,3.7 0 1,0 7.4,0a3.7,3.7 0 1,0 -7.4,0M274.98,397.67a3.7,3.7 0 1,0 7.4,0a3.7,3.7 0 1,0 -7.4,0M274.54,445.09a3.7,3.7 0 1,0 7.4,0a3.7,3.7 0 1,0 -7.4,0M276.87,402.32a3.7,3.7 0 1,0 7.4,0a3.7,3.7 0 1,0 -7.4,0M274.16,395.25a3.7,3.7 0 1,0 7.4,0a3.7,3.7 0 1,0 -7.4,0M275.84,439.57a3.7,3.7 0 1,0 7.4,0a3.7,3.7 0 1,0 -7.4,0M278.34,396.06a3.7,3.7 0 1,0 7.4,0a3.7,3.7 0 1,0 -7.4,0M274.29,401.58a3.7,3.7 0 1,0 7.4,0a3.7,3.7 0 1,0 -7.4,0M272.82,409.26a3.7,3.7 0 1,0 7.4,0a3.7,3.7 0 1,0 -7.4,0M279.91,410.67a3.7,3.7 0 1,0 7.4,0a3.7,3.7 0 1,0 -7.4,0M270.17,421.81a3.7,3.7 0 1,0 7.4,0a3.7,3.7 0 1,0 -7.4,0M276.43,383.07a3.7,3.7 0 1,0 7.4,0a3.7,3.7 0 1,0 -7.4,0M272.58,419.04a3.7,3.7 0 1,0 7.4,0a3.7,3.7 0 1,0 -7.4,0M277.47,421.91a3.7,3.7 0 1,0 7.4,0a3.7,3.7 0 1,0 -7.4,0M269.02,433.32a3.7,3.7 0 1,0 7.4,0a3.7,3.7 0 1,0 -7.4,0M280.39,403.01a3.7,3.7 0 1,0 7.4,0a3.7,3.7 0 1,0 -7.4,0M272.09,407.67a3.7,3.7 0 1,0 7.4,0a3.7,3.7 0 1,0 -7.4,0M268.15,409.57a3.7,3.7 0 1,0 7.4,0a3.7,3.7 0 1,0 -7.4,0M271.02,410.68a3.7,3.7 0 1,0 7.4,0a3.7,3.7 0 1,0 -7.4,0M272.68,433a3.7,3.7 0 1,0 7.4,0a3.7,3.7 0 1,0 -7.4,0M267.58,430.66a3.7,3.7 0 1,0 7.4,0a3.7,3.7 0 1,0 -7.4,0M272.93,441.84a3.7,3.7 0 1,0 7.4,0a3.7,3.7 0 1,0 -7.4,0M272.95,414.07a3.7,3.7 0 1,0 7.4,0a3.7,3.7 0 1,0 -7.4,0M276.62,444.55a3.7,3.7 0 1,0 7.4,0a3.7,3.7 0 1,0 -7.4,0M272.05,387.74a3.7,3.7 0 1,0 7.4,0a3.7,3.7 0 1,0 -7.4,0M270.9,401.28a3.7,3.7 0 1,0 7.4,0a3.7,3.7 0 1,0 -7.4,0M270.36,456.5a3.7,3.7 0 1,0 7.4,0a3.7,3.7 0 1,0 -7.4,0M277.19,441.71a3.7,3.7 0 1,0 7.4,0a3.7,3.7 0 1,0 -7.4,0M279.81,419.1a3.7,3.7 0 1,0 7.4,0a3.7,3.7 0 1,0 -7.4,0M274.36,423.2a3.7,3.7 0 1,0 7.4,0a3.7,3.7 0 1,0 -7.4,0M270.29,379.39a3.7,3.7 0 1,0 7.4,0a3.7,3.7 0 1,0 -7.4,0M277.98,425.44a3.7,3.7 0 1,0 7.4,0a3.7,3.7 0 1,0 -7.4,0M272.57,411.29a3.7,3.7 0 1,0 7.4,0a3.7,3.7 0 1,0 -7.4,0M270.2,428.17a3.7,3.7 0 1,0 7.4,0a3.7,3.7 0 1,0 -7.4,0M269.11,446.33a3.7,3.7 0 1,0 7.4,0a3.7,3.7 0 1,0 -7.4,0M277.65,380.26a3.7,3.7 0 1,0 7.4,0a3.7,3.7 0 1,0 -7.4,0M278.09,420.55a3.7,3.7 0 1,0 7.4,0a3.7,3.7 0 1,0 -7.4,0M275.77,386.4a3.7,3.7 0 1,0 7.4,0a3.7,3.7 0 1,0 -7.4,0M273.59,420.26a3.7,3.7 0 1,0 7.4,0a3.7,3.7 0 1,0 -7.4,0M274.82,415.01a3.7,3.7 0 1,0 7.4,0a3.7,3.7 0 1,0 -7.4,0M270.38,418.23a3.7,3.7 0 1,0 7.4,0a3.7,3.7 0 1,0 -7.4,0M280.12,389.3a3.7,3.7 0 1,0 7.4,0a3.7,3.7 0 1,0 -7.4,0M272.06,433.32a3.7,3.7 0 1,0 7.4,0a3.7,3.7 0 1,0 -7.4,0M275.83,426.37a3.7,3.7 0 1,0 7.4,0a3.7,3.7 0 1,0 -7.4,0M278.21,425.2a3.7,3.7 0 1,0 7.4,0a3.7,3.7 0 1,0 -7.4,0M278.17,444.66a3.7,3.7 0 1,0 7.4,0a3.7,3.7 0 1,0 -7.4,0M273.58,397.53a3.7,3.7 0 1,0 7.4,0a3.7,3.7 0 1,0 -7.4,0M271.29,397.91a3.7,3.7 0 1,0 7.4,0a3.7,3.7 0 1,0 -7.4,0M274.64,409.81a3.7,3.7 0 1,0 7.4,0a3.7,3.7 0 1,0 -7.4,0M269.05,398.14a3.7,3.7 0 1,0 7.4,0a3.7,3.7 0 1,0 -7.4,0M275.5,144.64a3.7,3.7 0 1,0 7.4,0a3.7,3.7 0 1,0 -7.4,0M277.3,236.94a3.7,3.7 0 1,0 7.4,0a3.7,3.7 0 1,0 -7.4,0M278.41,356.73a3.7,3.7 0 1,0 7.4,0a3.7,3.7 0 1,0 -7.4,0M272.08,316.56a3.7,3.7 0 1,0 7.4,0a3.7,3.7 0 1,0 -7.4,0M278.63,317.97a3.7,3.7 0 1,0 7.4,0a3.7,3.7 0 1,0 -7.4,0M270.93,369.41a3.7,3.7 0 1,0 7.4,0a3.7,3.7 0 1,0 -7.4,0M272.37,387.02a3.7,3.7 0 1,0 7.4,0a3.7,3.7 0 1,0 -7.4,0M270.75,443.39a3.7,3.7 0 1,0 7.4,0a3.7,3.7 0 1,0 -7.4,0M273.02,362.36a3.7,3.7 0 1,0 7.4,0a3.7,3.7 0 1,0 -7.4,0M274.3,188.33a3.7,3.7 0 1,0 7.4,0a3.7,3.7 0 1,0 -7.4,0M269.85,277.11a3.7,3.7 0 1,0 7.4,0a3.7,3.7 0 1,0 -7.4,0M267.44,277.11a3.7,3.7 0 1,0 7.4,0a3.7,3.7 0 1,0 -7.4,0M273.1,295.43a3.7,3.7 0 1,0 7.4,0a3.7,3.7 0 1,0 -7.4,0M277.9,310.93a3.7,3.7 0 1,0 7.4,0a3.7,3.7 0 1,0 -7.4,0M269.5,318.68a3.7,3.7 0 1,0 7.4,0a3.7,3.7 0 1,0 -7.4,0M276.93,343.34a3.7,3.7 0 1,0 7.4,0a3.7,3.7 0 1,0 -7.4,0M271.11,345.45a3.7,3.7 0 1,0 7.4,0a3.7,3.7 0 1,0 -7.4,0M270.63,464.53a3.7,3.7 0 1,0 7.4,0a3.7,3.7 0 1,0 -7.4,0M271.38,351.79a3.7,3.7 0 1,0 7.4,0a3.7,3.7 0 1,0 -7.4,0M273.73,347.57a3.7,3.7 0 1,0 7.4,0a3.7,3.7 0 1,0 -7.4,0M273.06,350.38a3.7,3.7 0 1,0 7.4,0a3.7,3.7 0 1,0 -7.4,0M275.81,353.2a3.7,3.7 0 1,0 7.4,0a3.7,3.7 0 1,0 -7.4,0M276.1,450.44a3.7,3.7 0 1,0 7.4,0a3.7,3.7 0 1,0 -7.4,0M272.18,471.58a3.7,3.7 0 1,0 7.4,0a3.7,3.7 0 1,0 -7.4,0M279.66,483.55a3.7,3.7 0 1,0 7.4,0a3.7,3.7 0 1,0 -7.4,0" fill="#1B3F9B"/>
<line x1="131" y1="414.8" x2="179.4" y2="414.8" stroke="#000" stroke-width="1.3"/>
<line x1="131" y1="417.6" x2="179.4" y2="417.6" stroke="#000" stroke-width="1.3"/>
<line x1="131" y1="420.4" x2="179.4" y2="420.4" stroke="#000" stroke-width="1.3"/>
<line x1="253.4" y1="412.2" x2="301.9" y2="412.2" stroke="#000" stroke-width="1.3"/>
<line x1="253.4" y1="415" x2="301.9" y2="415" stroke="#000" stroke-width="1.3"/>
<line x1="253.4" y1="417.8" x2="301.9" y2="417.8" stroke="#000" stroke-width="1.3"/>
<rect x="93.5" y="41.8" width="245.3" height="458" fill="none" stroke="#262626" stroke-width="2.2"/>
<line x1="93.5" y1="499.76" x2="99.5" y2="499.76" stroke="#262626" stroke-width="2"/>
<line x1="332.8" y1="499.76" x2="338.8" y2="499.76" stroke="#262626" stroke-width="2"/>
<line x1="93.5" y1="429.3" x2="99.5" y2="429.3" stroke="#262626" stroke-width="2"/>
<line x1="332.8" y1="429.3" x2="338.8" y2="429.3" stroke="#262626" stroke-width="2"/>
<line x1="93.5" y1="358.84" x2="99.5" y2="358.84" stroke="#262626" stroke-width="2"/>
<line x1="332.8" y1="358.84" x2="338.8" y2="358.84" stroke="#262626" stroke-width="2"/>
<line x1="93.5" y1="288.38" x2="99.5" y2="288.38" stroke="#262626" stroke-width="2"/>
<line x1="332.8" y1="288.38" x2="338.8" y2="288.38" stroke="#262626" stroke-width="2"/>
<line x1="93.5" y1="217.92" x2="99.5" y2="217.92" stroke="#262626" stroke-width="2"/>
<line x1="332.8" y1="217.92" x2="338.8" y2="217.92" stroke="#262626" stroke-width="2"/>
<line x1="93.5" y1="147.46" x2="99.5" y2="147.46" stroke="#262626" stroke-width="2"/>
<line x1="332.8" y1="147.46" x2="338.8" y2="147.46" stroke="#262626" stroke-width="2"/>
<line x1="93.5" y1="77" x2="99.5" y2="77" stroke="#262626" stroke-width="2"/>
<line x1="332.8" y1="77" x2="338.8" y2="77" stroke="#262626" stroke-width="2"/>
<line x1="155" y1="499.8" x2="155" y2="493.8" stroke="#262626" stroke-width="2"/>
<line x1="155" y1="41.8" x2="155" y2="47.8" stroke="#262626" stroke-width="2"/>
<line x1="277.7" y1="499.8" x2="277.7" y2="493.8" stroke="#262626" stroke-width="2"/>
<line x1="277.7" y1="41.8" x2="277.7" y2="47.8" stroke="#262626" stroke-width="2"/>
<text transform="translate(87.5,507.86) scale(1.03,1)" font-size="22.8" text-anchor="end" fill="#262626">-100</text>
<text transform="translate(87.5,437.4) scale(1.03,1)" font-size="22.8" text-anchor="end" fill="#262626">0</text>
<text transform="translate(87.5,366.94) scale(1.03,1)" font-size="22.8" text-anchor="end" fill="#262626">100</text>
<text transform="translate(87.5,296.48) scale(1.03,1)" font-size="22.8" text-anchor="end" fill="#262626">200</text>
<text transform="translate(87.5,226.02) scale(1.03,1)" font-size="22.8" text-anchor="end" fill="#262626">300</text>
<text transform="translate(87.5,155.56) scale(1.03,1)" font-size="22.8" text-anchor="end" fill="#262626">400</text>
<text transform="translate(87.5,85.1) scale(1.03,1)" font-size="22.8" text-anchor="end" fill="#262626">500</text>
<text transform="translate(155,529.8) scale(1.03,1)" font-size="23.3" text-anchor="middle" fill="#262626">1</text>
<text transform="translate(277.7,529.8) scale(1.03,1)" font-size="23.3" text-anchor="middle" fill="#262626">3</text>
<text transform="translate(212.6,563.5) scale(1.03,1)" font-size="24.2" text-anchor="middle" fill="#262626">Memory load</text>
<text transform="translate(31,270.8) rotate(-90) scale(1.03,1)" font-size="24.1" text-anchor="middle" fill="#262626">FR (bsl-normalized in %)</text>
<text x="205" y="29.2" font-size="29.3" text-anchor="middle" fill="#000">Non-preferred trials</text>
<text x="0" y="21.5" font-size="29" text-anchor="start" fill="#000" font-weight="bold">a</text>
<path d="M160,74.4V64H279.6V74.4" fill="none" stroke="#000" stroke-width="2.2"/>
<text transform="translate(222.9,60.2) scale(1.03,1)" font-size="21.8" text-anchor="middle" fill="#000">ns</text>
<text x="392" y="28" font-size="29" text-anchor="start" fill="#000" font-weight="bold">b</text>
<text x="679.7" y="38" font-size="29.3" text-anchor="middle" fill="#000">Mixed-effects models</text>
<text transform="translate(681,91.5) scale(1.03,1)" font-size="26.5" text-anchor="middle" fill="#000">Hippocampus</text>
<text transform="translate(499,132.2) scale(1.03,1)" font-size="24.5" text-anchor="middle" fill="#000">Name</text>
<text transform="translate(619.5,132.2) scale(1.03,1)" font-size="24.5" text-anchor="middle" fill="#000">Estimate</text>
<text transform="translate(714.5,132.2) scale(1.03,1)" font-size="24.5" text-anchor="middle" fill="#000">SE</text>
<text transform="translate(797.5,132.2) scale(1.03,1)" font-size="24.5" text-anchor="middle" fill="#000">tStat</text>
<text transform="translate(876,129.2) scale(1.03,1)" font-size="24.5" text-anchor="middle" fill="#000">pValue</text>
<rect x="435" y="138.2" width="478" height="4.2" fill="#000"/>
<text transform="translate(499,165.6) scale(1.03,1)" font-size="24.5" text-anchor="middle" fill="#000">Intercept</text>
<text transform="translate(619.5,165.6) scale(1.03,1)" font-size="24.5" text-anchor="middle" fill="#000">-2.117</text>
<text transform="translate(714.5,168.3) scale(1.03,1)" font-size="24.5" text-anchor="middle" fill="#000">10.528</text>
<text transform="translate(797.5,165.6) scale(1.03,1)" font-size="24.5" text-anchor="middle" fill="#000">-0.200</text>
<text transform="translate(876,165.6) scale(1.03,1)" font-size="24.5" text-anchor="middle" fill="#000">0.841</text>
<text transform="translate(499,199) scale(1.03,1)" font-size="24.5" text-anchor="middle" fill="#000">Load</text>
<text transform="translate(619.5,199) scale(1.03,1)" font-size="24.5" text-anchor="middle" fill="#000">4.607</text>
<text transform="translate(714.5,199) scale(1.03,1)" font-size="24.5" text-anchor="middle" fill="#000">3.649</text>
<text transform="translate(797.5,199) scale(1.03,1)" font-size="24.5" text-anchor="middle" fill="#000">1.261</text>
<text transform="translate(876,199) scale(1.03,1)" font-size="24.5" text-anchor="middle" fill="#000">0.207</text>
<text transform="translate(499,231.7) scale(1.03,1)" font-size="24.5" text-anchor="middle" fill="#000">Accuracy</text>
<text transform="translate(619.5,231.7) scale(1.03,1)" font-size="24.5" text-anchor="middle" fill="#000">20.422</text>
<text transform="translate(714.5,231.7) scale(1.03,1)" font-size="24.5" text-anchor="middle" fill="#000">8.318</text>
<text transform="translate(797.5,231.7) scale(1.03,1)" font-size="24.5" text-anchor="middle" fill="#000">2.455</text>
<text transform="translate(876,231.7) scale(1.03,1)" font-size="24.5" text-anchor="middle" fill="#000">0.014</text>
<text transform="translate(499,264.6) scale(1.03,1)" font-size="24.5" text-anchor="middle" fill="#000">Preference</text>
<text transform="translate(619.5,264.6) scale(1.03,1)" font-size="24.5" text-anchor="middle" fill="#000">11.686</text>
<text transform="translate(714.5,264.6) scale(1.03,1)" font-size="24.5" text-anchor="middle" fill="#000">3.709</text>
<text transform="translate(797.5,264.6) scale(1.03,1)" font-size="24.5" text-anchor="middle" fill="#000">3.151</text>
<text transform="translate(876,264.6) scale(1.03,1)" font-size="24.5" text-anchor="middle" fill="#000">0.002</text>
<rect x="435" y="271" width="478" height="4.2" fill="#000"/>
<text transform="translate(670,318.2) scale(1.03,1)" font-size="26.5" text-anchor="middle" fill="#000">Amygdala</text>
<text transform="translate(499,352.1) scale(1.03,1)" font-size="24.5" text-anchor="middle" fill="#000">Name</text>
<text transform="translate(619.5,352.1) scale(1.03,1)" font-size="24.5" text-anchor="middle" fill="#000">Estimate</text>
<text transform="translate(714.5,352.1) scale(1.03,1)" font-size="24.5" text-anchor="middle" fill="#000">SE</text>
<text transform="translate(794.5,352.1) scale(1.03,1)" font-size="24.5" text-anchor="middle" fill="#000">tStat</text>
<text transform="translate(876,352.1) scale(1.03,1)" font-size="24.5" text-anchor="middle" fill="#000">pValue</text>
<rect x="435" y="359.5" width="478" height="4.2" fill="#000"/>
<text transform="translate(499,386.6) scale(1.03,1)" font-size="24.5" text-anchor="middle" fill="#000">Intercept</text>
<text transform="translate(616,386.6) scale(1.03,1)" font-size="24.5" text-anchor="middle" fill="#000">13.076</text>
<text transform="translate(714.5,386.6) scale(1.03,1)" font-size="24.5" text-anchor="middle" fill="#000">5.760</text>
<text transform="translate(797.5,386.6) scale(1.03,1)" font-size="24.5" text-anchor="middle" fill="#000">2.270</text>
<text transform="translate(876,386.6) scale(1.03,1)" font-size="24.5" text-anchor="middle" fill="#000">0.023</text>
<text transform="translate(499,419) scale(1.03,1)" font-size="24.5" text-anchor="middle" fill="#000">Load</text>
<text transform="translate(619.5,419) scale(1.03,1)" font-size="24.5" text-anchor="middle" fill="#000">0.541</text>
<text transform="translate(714.5,419) scale(1.03,1)" font-size="24.5" text-anchor="middle" fill="#000">2.103</text>
<text transform="translate(797.5,419) scale(1.03,1)" font-size="24.5" text-anchor="middle" fill="#000">0.257</text>
<text transform="translate(876,419) scale(1.03,1)" font-size="24.5" text-anchor="middle" fill="#000">0.797</text>
<text transform="translate(499,451.7) scale(1.03,1)" font-size="24.5" text-anchor="middle" fill="#000">Accuracy</text>
<text transform="translate(619.5,451.7) scale(1.03,1)" font-size="24.5" text-anchor="middle" fill="#000">0.021</text>
<text transform="translate(714.5,451.7) scale(1.03,1)" font-size="24.5" text-anchor="middle" fill="#000">4.408</text>
<text transform="translate(797.5,451.7) scale(1.03,1)" font-size="24.5" text-anchor="middle" fill="#000">0.004</text>
<text transform="translate(876,451.7) scale(1.03,1)" font-size="24.5" text-anchor="middle" fill="#000">0.996</text>
<text transform="translate(499,485) scale(1.03,1)" font-size="24.5" text-anchor="middle" fill="#000">Preference</text>
<text transform="translate(619.5,485) scale(1.03,1)" font-size="24.5" text-anchor="middle" fill="#000">6.301</text>
<text transform="translate(714.5,485) scale(1.03,1)" font-size="24.5" text-anchor="middle" fill="#000">2.141</text>
<text transform="translate(797.5,485) scale(1.03,1)" font-size="24.5" text-anchor="middle" fill="#000">2.943</text>
<text transform="translate(876,485) scale(1.03,1)" font-size="24.5" text-anchor="middle" fill="#000">0.003</text>
<rect x="435" y="493.9" width="478" height="4.2" fill="#000"/>
<path d="M1103.2,150.1a4.8,4.8 0 1,0 9.6,0a4.8,4.8 0 1,0 -9.6,0M1109.2,169.9a4.8,4.8 0 1,0 9.6,0a4.8,4.8 0 1,0 -9.6,0M1107.1,175.6a4.8,4.8 0 1,0 9.6,0a4.8,4.8 0 1,0 -9.6,0M1108.4,181.5a4.8,4.8 0 1,0 9.6,0a4.8,4.8 0 1,0 -9.6,0M1112.8,201.3a4.8,4.8 0 1,0 9.6,0a4.8,4.8 0 1,0 -9.6,0M1112.3,218.8a4.8,4.8 0 1,0 9.6,0a4.8,4.8 0 1,0 -9.6,0M1109.7,226.6a4.8,4.8 0 1,0 9.6,0a4.8,4.8 0 1,0 -9.6,0M1107.9,233a4.8,4.8 0 1,0 9.6,0a4.8,4.8 0 1,0 -9.6,0M1105.8,234.8a4.8,4.8 0 1,0 9.6,0a4.8,4.8 0 1,0 -9.6,0M1105.8,249.2a4.8,4.8 0 1,0 9.6,0a4.8,4.8 0 1,0 -9.6,0M1113.5,257.5a4.8,4.8 0 1,0 9.6,0a4.8,4.8 0 1,0 -9.6,0M1112.3,286.6a4.8,4.8 0 1,0 9.6,0a4.8,4.8 0 1,0 -9.6,0M1111,305.1a4.8,4.8 0 1,0 9.6,0a4.8,4.8 0 1,0 -9.6,0M1107.1,319.3a4.8,4.8 0 1,0 9.6,0a4.8,4.8 0 1,0 -9.6,0M1111.35,478.73a4.8,4.8 0 1,0 9.6,0a4.8,4.8 0 1,0 -9.6,0M1104.06,354.33a4.8,4.8 0 1,0 9.6,0a4.8,4.8 0 1,0 -9.6,0M1102.73,380.15a4.8,4.8 0 1,0 9.6,0a4.8,4.8 0 1,0 -9.6,0M1105.22,353.74a4.8,4.8 0 1,0 9.6,0a4.8,4.8 0 1,0 -9.6,0M1104.08,419.9a4.8,4.8 0 1,0 9.6,0a4.8,4.8 0 1,0 -9.6,0M1104.19,398.65a4.8,4.8 0 1,0 9.6,0a4.8,4.8 0 1,0 -9.6,0M1104.35,353.03a4.8,4.8 0 1,0 9.6,0a4.8,4.8 0 1,0 -9.6,0M1110.85,384.39a4.8,4.8 0 1,0 9.6,0a4.8,4.8 0 1,0 -9.6,0M1112.05,437.03a4.8,4.8 0 1,0 9.6,0a4.8,4.8 0 1,0 -9.6,0M1104.66,344.96a4.8,4.8 0 1,0 9.6,0a4.8,4.8 0 1,0 -9.6,0M1107.22,462.53a4.8,4.8 0 1,0 9.6,0a4.8,4.8 0 1,0 -9.6,0M1105.37,393.51a4.8,4.8 0 1,0 9.6,0a4.8,4.8 0 1,0 -9.6,0M1104.05,415.58a4.8,4.8 0 1,0 9.6,0a4.8,4.8 0 1,0 -9.6,0M1104.1,366.29a4.8,4.8 0 1,0 9.6,0a4.8,4.8 0 1,0 -9.6,0M1107.85,389.58a4.8,4.8 0 1,0 9.6,0a4.8,4.8 0 1,0 -9.6,0M1111.48,401.43a4.8,4.8 0 1,0 9.6,0a4.8,4.8 0 1,0 -9.6,0M1108.53,407.3a4.8,4.8 0 1,0 9.6,0a4.8,4.8 0 1,0 -9.6,0M1107.01,385.26a4.8,4.8 0 1,0 9.6,0a4.8,4.8 0 1,0 -9.6,0M1109.32,475.59a4.8,4.8 0 1,0 9.6,0a4.8,4.8 0 1,0 -9.6,0M1102.87,433.66a4.8,4.8 0 1,0 9.6,0a4.8,4.8 0 1,0 -9.6,0M1106.07,438.54a4.8,4.8 0 1,0 9.6,0a4.8,4.8 0 1,0 -9.6,0M1107.71,401.12a4.8,4.8 0 1,0 9.6,0a4.8,4.8 0 1,0 -9.6,0M1110.18,482.69a4.8,4.8 0 1,0 9.6,0a4.8,4.8 0 1,0 -9.6,0M1106.16,480.45a4.8,4.8 0 1,0 9.6,0a4.8,4.8 0 1,0 -9.6,0M1107.6,425.84a4.8,4.8 0 1,0 9.6,0a4.8,4.8 0 1,0 -9.6,0M1107.18,400.93a4.8,4.8 0 1,0 9.6,0a4.8,4.8 0 1,0 -9.6,0M1108.44,428.8a4.8,4.8 0 1,0 9.6,0a4.8,4.8 0 1,0 -9.6,0M1111.34,438.37a4.8,4.8 0 1,0 9.6,0a4.8,4.8 0 1,0 -9.6,0M1107.94,432.92a4.8,4.8 0 1,0 9.6,0a4.8,4.8 0 1,0 -9.6,0M1110.96,376.49a4.8,4.8 0 1,0 9.6,0a4.8,4.8 0 1,0 -9.6,0M1105.93,404.82a4.8,4.8 0 1,0 9.6,0a4.8,4.8 0 1,0 -9.6,0M1110.88,448.07a4.8,4.8 0 1,0 9.6,0a4.8,4.8 0 1,0 -9.6,0M1110.23,430.66a4.8,4.8 0 1,0 9.6,0a4.8,4.8 0 1,0 -9.6,0M1103.1,395.17a4.8,4.8 0 1,0 9.6,0a4.8,4.8 0 1,0 -9.6,0M1112.34,380.69a4.8,4.8 0 1,0 9.6,0a4.8,4.8 0 1,0 -9.6,0M1109.54,403.22a4.8,4.8 0 1,0 9.6,0a4.8,4.8 0 1,0 -9.6,0M1109.05,332.81a4.8,4.8 0 1,0 9.6,0a4.8,4.8 0 1,0 -9.6,0M1108.89,443.16a4.8,4.8 0 1,0 9.6,0a4.8,4.8 0 1,0 -9.6,0M1104.82,444.06a4.8,4.8 0 1,0 9.6,0a4.8,4.8 0 1,0 -9.6,0M1103.64,463.32a4.8,4.8 0 1,0 9.6,0a4.8,4.8 0 1,0 -9.6,0M1102.96,388.1a4.8,4.8 0 1,0 9.6,0a4.8,4.8 0 1,0 -9.6,0M1109.52,332.08a4.8,4.8 0 1,0 9.6,0a4.8,4.8 0 1,0 -9.6,0M1108.53,376.15a4.8,4.8 0 1,0 9.6,0a4.8,4.8 0 1,0 -9.6,0M1105.77,461.17a4.8,4.8 0 1,0 9.6,0a4.8,4.8 0 1,0 -9.6,0M1109.37,420.14a4.8,4.8 0 1,0 9.6,0a4.8,4.8 0 1,0 -9.6,0M1108.59,479.14a4.8,4.8 0 1,0 9.6,0a4.8,4.8 0 1,0 -9.6,0M1103.83,369.27a4.8,4.8 0 1,0 9.6,0a4.8,4.8 0 1,0 -9.6,0M1112.31,390.05a4.8,4.8 0 1,0 9.6,0a4.8,4.8 0 1,0 -9.6,0M1108.84,368.51a4.8,4.8 0 1,0 9.6,0a4.8,4.8 0 1,0 -9.6,0M1107.61,320.67a4.8,4.8 0 1,0 9.6,0a4.8,4.8 0 1,0 -9.6,0M1103.65,400.97a4.8,4.8 0 1,0 9.6,0a4.8,4.8 0 1,0 -9.6,0M1102.73,399.27a4.8,4.8 0 1,0 9.6,0a4.8,4.8 0 1,0 -9.6,0M1109.82,383.98a4.8,4.8 0 1,0 9.6,0a4.8,4.8 0 1,0 -9.6,0M1111.79,388.96a4.8,4.8 0 1,0 9.6,0a4.8,4.8 0 1,0 -9.6,0M1102.76,407.4a4.8,4.8 0 1,0 9.6,0a4.8,4.8 0 1,0 -9.6,0M1104.56,401.29a4.8,4.8 0 1,0 9.6,0a4.8,4.8 0 1,0 -9.6,0M1110.77,345.41a4.8,4.8 0 1,0 9.6,0a4.8,4.8 0 1,0 -9.6,0M1103.46,368.16a4.8,4.8 0 1,0 9.6,0a4.8,4.8 0 1,0 -9.6,0M1110.09,450.23a4.8,4.8 0 1,0 9.6,0a4.8,4.8 0 1,0 -9.6,0M1112.79,378.93a4.8,4.8 0 1,0 9.6,0a4.8,4.8 0 1,0 -9.6,0M1102.69,415.55a4.8,4.8 0 1,0 9.6,0a4.8,4.8 0 1,0 -9.6,0M1103.41,443.09a4.8,4.8 0 1,0 9.6,0a4.8,4.8 0 1,0 -9.6,0M1110.3,458.24a4.8,4.8 0 1,0 9.6,0a4.8,4.8 0 1,0 -9.6,0M1103.2,377.35a4.8,4.8 0 1,0 9.6,0a4.8,4.8 0 1,0 -9.6,0M1108.66,436.13a4.8,4.8 0 1,0 9.6,0a4.8,4.8 0 1,0 -9.6,0M1111.02,413.11a4.8,4.8 0 1,0 9.6,0a4.8,4.8 0 1,0 -9.6,0M1109.41,422.27a4.8,4.8 0 1,0 9.6,0a4.8,4.8 0 1,0 -9.6,0M1110.9,435.19a4.8,4.8 0 1,0 9.6,0a4.8,4.8 0 1,0 -9.6,0M1108.58,354.23a4.8,4.8 0 1,0 9.6,0a4.8,4.8 0 1,0 -9.6,0M1103.21,386.55a4.8,4.8 0 1,0 9.6,0a4.8,4.8 0 1,0 -9.6,0M1111.34,368.15a4.8,4.8 0 1,0 9.6,0a4.8,4.8 0 1,0 -9.6,0M1111.38,482.49a4.8,4.8 0 1,0 9.6,0a4.8,4.8 0 1,0 -9.6,0M1105.84,465.56a4.8,4.8 0 1,0 9.6,0a4.8,4.8 0 1,0 -9.6,0M1109.83,377.32a4.8,4.8 0 1,0 9.6,0a4.8,4.8 0 1,0 -9.6,0M1112.07,426.86a4.8,4.8 0 1,0 9.6,0a4.8,4.8 0 1,0 -9.6,0M1102.59,440.01a4.8,4.8 0 1,0 9.6,0a4.8,4.8 0 1,0 -9.6,0M1111.22,446.61a4.8,4.8 0 1,0 9.6,0a4.8,4.8 0 1,0 -9.6,0M1111.4,481.25a4.8,4.8 0 1,0 9.6,0a4.8,4.8 0 1,0 -9.6,0M1108.63,340.1a4.8,4.8 0 1,0 9.6,0a4.8,4.8 0 1,0 -9.6,0M1111.59,381.65a4.8,4.8 0 1,0 9.6,0a4.8,4.8 0 1,0 -9.6,0M1112.26,371.34a4.8,4.8 0 1,0 9.6,0a4.8,4.8 0 1,0 -9.6,0M1111.02,364.63a4.8,4.8 0 1,0 9.6,0a4.8,4.8 0 1,0 -9.6,0M1110.52,380.75a4.8,4.8 0 1,0 9.6,0a4.8,4.8 0 1,0 -9.6,0M1109,448.44a4.8,4.8 0 1,0 9.6,0a4.8,4.8 0 1,0 -9.6,0M1105.27,428.15a4.8,4.8 0 1,0 9.6,0a4.8,4.8 0 1,0 -9.6,0M1107.44,353.03a4.8,4.8 0 1,0 9.6,0a4.8,4.8 0 1,0 -9.6,0M1111.12,398.82a4.8,4.8 0 1,0 9.6,0a4.8,4.8 0 1,0 -9.6,0M1108.71,448.64a4.8,4.8 0 1,0 9.6,0a4.8,4.8 0 1,0 -9.6,0M1108.1,337.04a4.8,4.8 0 1,0 9.6,0a4.8,4.8 0 1,0 -9.6,0M1104.61,423.96a4.8,4.8 0 1,0 9.6,0a4.8,4.8 0 1,0 -9.6,0M1110,416.6a4.8,4.8 0 1,0 9.6,0a4.8,4.8 0 1,0 -9.6,0M1108.05,437.86a4.8,4.8 0 1,0 9.6,0a4.8,4.8 0 1,0 -9.6,0M1103.04,418.59a4.8,4.8 0 1,0 9.6,0a4.8,4.8 0 1,0 -9.6,0M1103.69,424.49a4.8,4.8 0 1,0 9.6,0a4.8,4.8 0 1,0 -9.6,0M1108.9,399.24a4.8,4.8 0 1,0 9.6,0a4.8,4.8 0 1,0 -9.6,0M1108.08,424.63a4.8,4.8 0 1,0 9.6,0a4.8,4.8 0 1,0 -9.6,0M1108.58,405.28a4.8,4.8 0 1,0 9.6,0a4.8,4.8 0 1,0 -9.6,0M1110.83,381.06a4.8,4.8 0 1,0 9.6,0a4.8,4.8 0 1,0 -9.6,0M1111.25,345.87a4.8,4.8 0 1,0 9.6,0a4.8,4.8 0 1,0 -9.6,0M1102.97,445.03a4.8,4.8 0 1,0 9.6,0a4.8,4.8 0 1,0 -9.6,0M1104.49,424.5a4.8,4.8 0 1,0 9.6,0a4.8,4.8 0 1,0 -9.6,0M1111.8,360.33a4.8,4.8 0 1,0 9.6,0a4.8,4.8 0 1,0 -9.6,0M1112.61,389.6a4.8,4.8 0 1,0 9.6,0a4.8,4.8 0 1,0 -9.6,0M1108.91,477.51a4.8,4.8 0 1,0 9.6,0a4.8,4.8 0 1,0 -9.6,0M1105.3,337.43a4.8,4.8 0 1,0 9.6,0a4.8,4.8 0 1,0 -9.6,0M1109.36,341.56a4.8,4.8 0 1,0 9.6,0a4.8,4.8 0 1,0 -9.6,0M1106.74,373.89a4.8,4.8 0 1,0 9.6,0a4.8,4.8 0 1,0 -9.6,0M1113.08,353.68a4.8,4.8 0 1,0 9.6,0a4.8,4.8 0 1,0 -9.6,0M1102.98,324.93a4.8,4.8 0 1,0 9.6,0a4.8,4.8 0 1,0 -9.6,0M1112.16,450.81a4.8,4.8 0 1,0 9.6,0a4.8,4.8 0 1,0 -9.6,0M1110.91,480.44a4.8,4.8 0 1,0 9.6,0a4.8,4.8 0 1,0 -9.6,0M1109.42,341.58a4.8,4.8 0 1,0 9.6,0a4.8,4.8 0 1,0 -9.6,0M1104.1,478.95a4.8,4.8 0 1,0 9.6,0a4.8,4.8 0 1,0 -9.6,0M1109.75,327.75a4.8,4.8 0 1,0 9.6,0a4.8,4.8 0 1,0 -9.6,0M1103.69,455.25a4.8,4.8 0 1,0 9.6,0a4.8,4.8 0 1,0 -9.6,0M1105.29,437.24a4.8,4.8 0 1,0 9.6,0a4.8,4.8 0 1,0 -9.6,0M1105.1,425.96a4.8,4.8 0 1,0 9.6,0a4.8,4.8 0 1,0 -9.6,0M1109.75,401.57a4.8,4.8 0 1,0 9.6,0a4.8,4.8 0 1,0 -9.6,0M1102.95,409.01a4.8,4.8 0 1,0 9.6,0a4.8,4.8 0 1,0 -9.6,0M1112.47,450.75a4.8,4.8 0 1,0 9.6,0a4.8,4.8 0 1,0 -9.6,0M1104.05,336.42a4.8,4.8 0 1,0 9.6,0a4.8,4.8 0 1,0 -9.6,0M1103.6,427.45a4.8,4.8 0 1,0 9.6,0a4.8,4.8 0 1,0 -9.6,0M1109.23,344.37a4.8,4.8 0 1,0 9.6,0a4.8,4.8 0 1,0 -9.6,0M1107.63,440.11a4.8,4.8 0 1,0 9.6,0a4.8,4.8 0 1,0 -9.6,0M1104.08,347.28a4.8,4.8 0 1,0 9.6,0a4.8,4.8 0 1,0 -9.6,0M1108.44,350.56a4.8,4.8 0 1,0 9.6,0a4.8,4.8 0 1,0 -9.6,0M1111.8,384.19a4.8,4.8 0 1,0 9.6,0a4.8,4.8 0 1,0 -9.6,0M1105.44,422.02a4.8,4.8 0 1,0 9.6,0a4.8,4.8 0 1,0 -9.6,0M1104.35,431.25a4.8,4.8 0 1,0 9.6,0a4.8,4.8 0 1,0 -9.6,0M1105.94,393.07a4.8,4.8 0 1,0 9.6,0a4.8,4.8 0 1,0 -9.6,0M1112.94,468.95a4.8,4.8 0 1,0 9.6,0a4.8,4.8 0 1,0 -9.6,0M1104.81,361.7a4.8,4.8 0 1,0 9.6,0a4.8,4.8 0 1,0 -9.6,0M1105.6,437.05a4.8,4.8 0 1,0 9.6,0a4.8,4.8 0 1,0 -9.6,0M1113.07,393.84a4.8,4.8 0 1,0 9.6,0a4.8,4.8 0 1,0 -9.6,0M1103.6,330.2a4.8,4.8 0 1,0 9.6,0a4.8,4.8 0 1,0 -9.6,0M1112.07,371.31a4.8,4.8 0 1,0 9.6,0a4.8,4.8 0 1,0 -9.6,0M1112.94,408.58a4.8,4.8 0 1,0 9.6,0a4.8,4.8 0 1,0 -9.6,0M1111.12,433.95a4.8,4.8 0 1,0 9.6,0a4.8,4.8 0 1,0 -9.6,0M1111.39,402.71a4.8,4.8 0 1,0 9.6,0a4.8,4.8 0 1,0 -9.6,0M1104.54,402.41a4.8,4.8 0 1,0 9.6,0a4.8,4.8 0 1,0 -9.6,0M1108.63,382.55a4.8,4.8 0 1,0 9.6,0a4.8,4.8 0 1,0 -9.6,0M1104.48,417.47a4.8,4.8 0 1,0 9.6,0a4.8,4.8 0 1,0 -9.6,0M1104.66,366.72a4.8,4.8 0 1,0 9.6,0a4.8,4.8 0 1,0 -9.6,0M1107.82,361.91a4.8,4.8 0 1,0 9.6,0a4.8,4.8 0 1,0 -9.6,0M1104.75,378.29a4.8,4.8 0 1,0 9.6,0a4.8,4.8 0 1,0 -9.6,0M1108.75,421.47a4.8,4.8 0 1,0 9.6,0a4.8,4.8 0 1,0 -9.6,0M1103.27,467.88a4.8,4.8 0 1,0 9.6,0a4.8,4.8 0 1,0 -9.6,0M1103.16,452.59a4.8,4.8 0 1,0 9.6,0a4.8,4.8 0 1,0 -9.6,0M1111.49,431.13a4.8,4.8 0 1,0 9.6,0a4.8,4.8 0 1,0 -9.6,0M1102.73,404.13a4.8,4.8 0 1,0 9.6,0a4.8,4.8 0 1,0 -9.6,0" fill="#D12FB7"/>
<path d="M1158.6,155.8a4.8,4.8 0 1,0 9.6,0a4.8,4.8 0 1,0 -9.6,0M1156,160.9a4.8,4.8 0 1,0 9.6,0a4.8,4.8 0 1,0 -9.6,0M1161.2,164.8a4.8,4.8 0 1,0 9.6,0a4.8,4.8 0 1,0 -9.6,0M1162.5,168.6a4.8,4.8 0 1,0 9.6,0a4.8,4.8 0 1,0 -9.6,0M1155.5,177.7a4.8,4.8 0 1,0 9.6,0a4.8,4.8 0 1,0 -9.6,0M1154.7,185.4a4.8,4.8 0 1,0 9.6,0a4.8,4.8 0 1,0 -9.6,0M1156,187.4a4.8,4.8 0 1,0 9.6,0a4.8,4.8 0 1,0 -9.6,0M1155.5,200.3a4.8,4.8 0 1,0 9.6,0a4.8,4.8 0 1,0 -9.6,0M1154.7,208a4.8,4.8 0 1,0 9.6,0a4.8,4.8 0 1,0 -9.6,0M1160.4,227.9a4.8,4.8 0 1,0 9.6,0a4.8,4.8 0 1,0 -9.6,0M1155.3,284.6a4.8,4.8 0 1,0 9.6,0a4.8,4.8 0 1,0 -9.6,0M1158.7,326.5a4.8,4.8 0 1,0 9.6,0a4.8,4.8 0 1,0 -9.6,0M1159.2,331a4.8,4.8 0 1,0 9.6,0a4.8,4.8 0 1,0 -9.6,0M1157.7,338.5a4.8,4.8 0 1,0 9.6,0a4.8,4.8 0 1,0 -9.6,0M1161.2,345a4.8,4.8 0 1,0 9.6,0a4.8,4.8 0 1,0 -9.6,0M1161.48,397.63a4.8,4.8 0 1,0 9.6,0a4.8,4.8 0 1,0 -9.6,0M1154.21,377.98a4.8,4.8 0 1,0 9.6,0a4.8,4.8 0 1,0 -9.6,0M1153.97,406.66a4.8,4.8 0 1,0 9.6,0a4.8,4.8 0 1,0 -9.6,0M1157.75,398.64a4.8,4.8 0 1,0 9.6,0a4.8,4.8 0 1,0 -9.6,0M1157.71,398.08a4.8,4.8 0 1,0 9.6,0a4.8,4.8 0 1,0 -9.6,0M1161.41,405.72a4.8,4.8 0 1,0 9.6,0a4.8,4.8 0 1,0 -9.6,0M1159.78,435.87a4.8,4.8 0 1,0 9.6,0a4.8,4.8 0 1,0 -9.6,0M1161.49,396.85a4.8,4.8 0 1,0 9.6,0a4.8,4.8 0 1,0 -9.6,0M1157.68,396.13a4.8,4.8 0 1,0 9.6,0a4.8,4.8 0 1,0 -9.6,0M1157.94,404.62a4.8,4.8 0 1,0 9.6,0a4.8,4.8 0 1,0 -9.6,0M1154.17,381.8a4.8,4.8 0 1,0 9.6,0a4.8,4.8 0 1,0 -9.6,0M1154.89,400.05a4.8,4.8 0 1,0 9.6,0a4.8,4.8 0 1,0 -9.6,0M1153.26,434.44a4.8,4.8 0 1,0 9.6,0a4.8,4.8 0 1,0 -9.6,0M1158.59,395.52a4.8,4.8 0 1,0 9.6,0a4.8,4.8 0 1,0 -9.6,0M1157.78,393.05a4.8,4.8 0 1,0 9.6,0a4.8,4.8 0 1,0 -9.6,0M1159.84,361.96a4.8,4.8 0 1,0 9.6,0a4.8,4.8 0 1,0 -9.6,0M1153.54,370.55a4.8,4.8 0 1,0 9.6,0a4.8,4.8 0 1,0 -9.6,0M1153.53,414.48a4.8,4.8 0 1,0 9.6,0a4.8,4.8 0 1,0 -9.6,0M1153.69,396.99a4.8,4.8 0 1,0 9.6,0a4.8,4.8 0 1,0 -9.6,0M1158.31,389.04a4.8,4.8 0 1,0 9.6,0a4.8,4.8 0 1,0 -9.6,0M1153.98,406.29a4.8,4.8 0 1,0 9.6,0a4.8,4.8 0 1,0 -9.6,0M1156.36,359.64a4.8,4.8 0 1,0 9.6,0a4.8,4.8 0 1,0 -9.6,0M1156.43,382.76a4.8,4.8 0 1,0 9.6,0a4.8,4.8 0 1,0 -9.6,0M1155.83,372.88a4.8,4.8 0 1,0 9.6,0a4.8,4.8 0 1,0 -9.6,0M1155.79,419.3a4.8,4.8 0 1,0 9.6,0a4.8,4.8 0 1,0 -9.6,0M1161.92,358a4.8,4.8 0 1,0 9.6,0a4.8,4.8 0 1,0 -9.6,0M1152.81,367.05a4.8,4.8 0 1,0 9.6,0a4.8,4.8 0 1,0 -9.6,0M1162.39,401.52a4.8,4.8 0 1,0 9.6,0a4.8,4.8 0 1,0 -9.6,0M1156.71,416.37a4.8,4.8 0 1,0 9.6,0a4.8,4.8 0 1,0 -9.6,0M1152.97,414.48a4.8,4.8 0 1,0 9.6,0a4.8,4.8 0 1,0 -9.6,0M1157.59,376.83a4.8,4.8 0 1,0 9.6,0a4.8,4.8 0 1,0 -9.6,0M1160.47,360.18a4.8,4.8 0 1,0 9.6,0a4.8,4.8 0 1,0 -9.6,0M1160.82,384.73a4.8,4.8 0 1,0 9.6,0a4.8,4.8 0 1,0 -9.6,0M1152.6,364a4.8,4.8 0 1,0 9.6,0a4.8,4.8 0 1,0 -9.6,0M1157.99,404.44a4.8,4.8 0 1,0 9.6,0a4.8,4.8 0 1,0 -9.6,0M1154.9,385.71a4.8,4.8 0 1,0 9.6,0a4.8,4.8 0 1,0 -9.6,0M1156.84,412.52a4.8,4.8 0 1,0 9.6,0a4.8,4.8 0 1,0 -9.6,0M1155.48,413.22a4.8,4.8 0 1,0 9.6,0a4.8,4.8 0 1,0 -9.6,0M1162.37,375.72a4.8,4.8 0 1,0 9.6,0a4.8,4.8 0 1,0 -9.6,0M1155.09,376.92a4.8,4.8 0 1,0 9.6,0a4.8,4.8 0 1,0 -9.6,0M1153.55,408.93a4.8,4.8 0 1,0 9.6,0a4.8,4.8 0 1,0 -9.6,0M1155.35,399.5a4.8,4.8 0 1,0 9.6,0a4.8,4.8 0 1,0 -9.6,0M1153.17,400.77a4.8,4.8 0 1,0 9.6,0a4.8,4.8 0 1,0 -9.6,0M1161.14,381.18a4.8,4.8 0 1,0 9.6,0a4.8,4.8 0 1,0 -9.6,0M1154.37,425.35a4.8,4.8 0 1,0 9.6,0a4.8,4.8 0 1,0 -9.6,0M1157.13,410.33a4.8,4.8 0 1,0 9.6,0a4.8,4.8 0 1,0 -9.6,0M1155.53,415.44a4.8,4.8 0 1,0 9.6,0a4.8,4.8 0 1,0 -9.6,0M1154.59,412.79a4.8,4.8 0 1,0 9.6,0a4.8,4.8 0 1,0 -9.6,0M1152.37,418.29a4.8,4.8 0 1,0 9.6,0a4.8,4.8 0 1,0 -9.6,0M1161.38,377.62a4.8,4.8 0 1,0 9.6,0a4.8,4.8 0 1,0 -9.6,0M1155.26,420.55a4.8,4.8 0 1,0 9.6,0a4.8,4.8 0 1,0 -9.6,0M1160.42,412.56a4.8,4.8 0 1,0 9.6,0a4.8,4.8 0 1,0 -9.6,0M1152.95,405.7a4.8,4.8 0 1,0 9.6,0a4.8,4.8 0 1,0 -9.6,0M1152.9,400.65a4.8,4.8 0 1,0 9.6,0a4.8,4.8 0 1,0 -9.6,0M1153.4,429.79a4.8,4.8 0 1,0 9.6,0a4.8,4.8 0 1,0 -9.6,0M1162.41,383.87a4.8,4.8 0 1,0 9.6,0a4.8,4.8 0 1,0 -9.6,0M1155.98,385.81a4.8,4.8 0 1,0 9.6,0a4.8,4.8 0 1,0 -9.6,0M1158.77,380.68a4.8,4.8 0 1,0 9.6,0a4.8,4.8 0 1,0 -9.6,0M1157.73,369.23a4.8,4.8 0 1,0 9.6,0a4.8,4.8 0 1,0 -9.6,0M1157.28,398.46a4.8,4.8 0 1,0 9.6,0a4.8,4.8 0 1,0 -9.6,0M1161.94,378.52a4.8,4.8 0 1,0 9.6,0a4.8,4.8 0 1,0 -9.6,0M1161.47,433.51a4.8,4.8 0 1,0 9.6,0a4.8,4.8 0 1,0 -9.6,0M1157.52,394.08a4.8,4.8 0 1,0 9.6,0a4.8,4.8 0 1,0 -9.6,0M1156.67,389.77a4.8,4.8 0 1,0 9.6,0a4.8,4.8 0 1,0 -9.6,0M1158.68,364.98a4.8,4.8 0 1,0 9.6,0a4.8,4.8 0 1,0 -9.6,0M1157.03,425.57a4.8,4.8 0 1,0 9.6,0a4.8,4.8 0 1,0 -9.6,0M1156.38,399.95a4.8,4.8 0 1,0 9.6,0a4.8,4.8 0 1,0 -9.6,0M1156.32,414.71a4.8,4.8 0 1,0 9.6,0a4.8,4.8 0 1,0 -9.6,0M1157.54,387.16a4.8,4.8 0 1,0 9.6,0a4.8,4.8 0 1,0 -9.6,0M1158.34,400.95a4.8,4.8 0 1,0 9.6,0a4.8,4.8 0 1,0 -9.6,0M1153.17,385.46a4.8,4.8 0 1,0 9.6,0a4.8,4.8 0 1,0 -9.6,0M1161.18,410.22a4.8,4.8 0 1,0 9.6,0a4.8,4.8 0 1,0 -9.6,0M1154.41,357.89a4.8,4.8 0 1,0 9.6,0a4.8,4.8 0 1,0 -9.6,0M1152.74,394.22a4.8,4.8 0 1,0 9.6,0a4.8,4.8 0 1,0 -9.6,0M1157.51,398.6a4.8,4.8 0 1,0 9.6,0a4.8,4.8 0 1,0 -9.6,0M1157.95,373.16a4.8,4.8 0 1,0 9.6,0a4.8,4.8 0 1,0 -9.6,0M1157.72,394.27a4.8,4.8 0 1,0 9.6,0a4.8,4.8 0 1,0 -9.6,0M1158.54,412.6a4.8,4.8 0 1,0 9.6,0a4.8,4.8 0 1,0 -9.6,0M1162.29,383.85a4.8,4.8 0 1,0 9.6,0a4.8,4.8 0 1,0 -9.6,0M1156.21,406.69a4.8,4.8 0 1,0 9.6,0a4.8,4.8 0 1,0 -9.6,0M1158.19,398.47a4.8,4.8 0 1,0 9.6,0a4.8,4.8 0 1,0 -9.6,0M1157.4,356.1a4.8,4.8 0 1,0 9.6,0a4.8,4.8 0 1,0 -9.6,0M1158.86,435.31a4.8,4.8 0 1,0 9.6,0a4.8,4.8 0 1,0 -9.6,0M1157.86,408.62a4.8,4.8 0 1,0 9.6,0a4.8,4.8 0 1,0 -9.6,0M1155.61,422.84a4.8,4.8 0 1,0 9.6,0a4.8,4.8 0 1,0 -9.6,0M1157.67,368.83a4.8,4.8 0 1,0 9.6,0a4.8,4.8 0 1,0 -9.6,0M1160.94,370.75a4.8,4.8 0 1,0 9.6,0a4.8,4.8 0 1,0 -9.6,0M1156.7,363.71a4.8,4.8 0 1,0 9.6,0a4.8,4.8 0 1,0 -9.6,0M1155.31,417.33a4.8,4.8 0 1,0 9.6,0a4.8,4.8 0 1,0 -9.6,0M1154.17,410.91a4.8,4.8 0 1,0 9.6,0a4.8,4.8 0 1,0 -9.6,0" fill="#7B2A8E"/>
<path d="M1258.5,117.1a4.8,4.8 0 1,0 9.6,0a4.8,4.8 0 1,0 -9.6,0M1259,135.2a4.8,4.8 0 1,0 9.6,0a4.8,4.8 0 1,0 -9.6,0M1255.2,148a4.8,4.8 0 1,0 9.6,0a4.8,4.8 0 1,0 -9.6,0M1256.4,151.9a4.8,4.8 0 1,0 9.6,0a4.8,4.8 0 1,0 -9.6,0M1253.9,150.6a4.8,4.8 0 1,0 9.6,0a4.8,4.8 0 1,0 -9.6,0M1259.5,177.1a4.8,4.8 0 1,0 9.6,0a4.8,4.8 0 1,0 -9.6,0M1258.5,188a4.8,4.8 0 1,0 9.6,0a4.8,4.8 0 1,0 -9.6,0M1256.4,191.8a4.8,4.8 0 1,0 9.6,0a4.8,4.8 0 1,0 -9.6,0M1256.9,204.7a4.8,4.8 0 1,0 9.6,0a4.8,4.8 0 1,0 -9.6,0M1255.2,213.2a4.8,4.8 0 1,0 9.6,0a4.8,4.8 0 1,0 -9.6,0M1260.3,224a4.8,4.8 0 1,0 9.6,0a4.8,4.8 0 1,0 -9.6,0M1252.7,271.5a4.8,4.8 0 1,0 9.6,0a4.8,4.8 0 1,0 -9.6,0M1254.9,295.3a4.8,4.8 0 1,0 9.6,0a4.8,4.8 0 1,0 -9.6,0M1256.3,303.3a4.8,4.8 0 1,0 9.6,0a4.8,4.8 0 1,0 -9.6,0M1255.3,308.4a4.8,4.8 0 1,0 9.6,0a4.8,4.8 0 1,0 -9.6,0M1254.7,314.4a4.8,4.8 0 1,0 9.6,0a4.8,4.8 0 1,0 -9.6,0M1257.3,323.4a4.8,4.8 0 1,0 9.6,0a4.8,4.8 0 1,0 -9.6,0M1253.9,340.5a4.8,4.8 0 1,0 9.6,0a4.8,4.8 0 1,0 -9.6,0M1259.2,345a4.8,4.8 0 1,0 9.6,0a4.8,4.8 0 1,0 -9.6,0M1257.97,397.44a4.8,4.8 0 1,0 9.6,0a4.8,4.8 0 1,0 -9.6,0M1252.03,359.22a4.8,4.8 0 1,0 9.6,0a4.8,4.8 0 1,0 -9.6,0M1259.93,398.39a4.8,4.8 0 1,0 9.6,0a4.8,4.8 0 1,0 -9.6,0M1254.81,397.76a4.8,4.8 0 1,0 9.6,0a4.8,4.8 0 1,0 -9.6,0M1258.66,388.18a4.8,4.8 0 1,0 9.6,0a4.8,4.8 0 1,0 -9.6,0M1256.86,399.1a4.8,4.8 0 1,0 9.6,0a4.8,4.8 0 1,0 -9.6,0M1257.21,400.75a4.8,4.8 0 1,0 9.6,0a4.8,4.8 0 1,0 -9.6,0M1255.94,389.37a4.8,4.8 0 1,0 9.6,0a4.8,4.8 0 1,0 -9.6,0M1253.24,358.86a4.8,4.8 0 1,0 9.6,0a4.8,4.8 0 1,0 -9.6,0M1252.64,436.73a4.8,4.8 0 1,0 9.6,0a4.8,4.8 0 1,0 -9.6,0M1258.08,445.76a4.8,4.8 0 1,0 9.6,0a4.8,4.8 0 1,0 -9.6,0M1251.71,441.23a4.8,4.8 0 1,0 9.6,0a4.8,4.8 0 1,0 -9.6,0M1259.16,414.84a4.8,4.8 0 1,0 9.6,0a4.8,4.8 0 1,0 -9.6,0M1253.38,403.86a4.8,4.8 0 1,0 9.6,0a4.8,4.8 0 1,0 -9.6,0M1257.75,350.38a4.8,4.8 0 1,0 9.6,0a4.8,4.8 0 1,0 -9.6,0M1256.35,363.35a4.8,4.8 0 1,0 9.6,0a4.8,4.8 0 1,0 -9.6,0M1261.75,378.13a4.8,4.8 0 1,0 9.6,0a4.8,4.8 0 1,0 -9.6,0M1252.05,411.53a4.8,4.8 0 1,0 9.6,0a4.8,4.8 0 1,0 -9.6,0M1254.92,361.01a4.8,4.8 0 1,0 9.6,0a4.8,4.8 0 1,0 -9.6,0M1254.8,364.93a4.8,4.8 0 1,0 9.6,0a4.8,4.8 0 1,0 -9.6,0M1261.76,410.67a4.8,4.8 0 1,0 9.6,0a4.8,4.8 0 1,0 -9.6,0M1255.71,378.11a4.8,4.8 0 1,0 9.6,0a4.8,4.8 0 1,0 -9.6,0M1253.93,403.06a4.8,4.8 0 1,0 9.6,0a4.8,4.8 0 1,0 -9.6,0M1259.98,375.29a4.8,4.8 0 1,0 9.6,0a4.8,4.8 0 1,0 -9.6,0M1253.42,418.44a4.8,4.8 0 1,0 9.6,0a4.8,4.8 0 1,0 -9.6,0M1254.66,369.45a4.8,4.8 0 1,0 9.6,0a4.8,4.8 0 1,0 -9.6,0M1255.85,422.49a4.8,4.8 0 1,0 9.6,0a4.8,4.8 0 1,0 -9.6,0M1252.89,402.42a4.8,4.8 0 1,0 9.6,0a4.8,4.8 0 1,0 -9.6,0M1254.18,411.97a4.8,4.8 0 1,0 9.6,0a4.8,4.8 0 1,0 -9.6,0M1251.95,401a4.8,4.8 0 1,0 9.6,0a4.8,4.8 0 1,0 -9.6,0M1255.2,377.84a4.8,4.8 0 1,0 9.6,0a4.8,4.8 0 1,0 -9.6,0M1254.44,400.11a4.8,4.8 0 1,0 9.6,0a4.8,4.8 0 1,0 -9.6,0M1256.28,434.58a4.8,4.8 0 1,0 9.6,0a4.8,4.8 0 1,0 -9.6,0M1253.27,366.04a4.8,4.8 0 1,0 9.6,0a4.8,4.8 0 1,0 -9.6,0M1259.24,408.15a4.8,4.8 0 1,0 9.6,0a4.8,4.8 0 1,0 -9.6,0M1261.66,379.42a4.8,4.8 0 1,0 9.6,0a4.8,4.8 0 1,0 -9.6,0M1253.99,401.59a4.8,4.8 0 1,0 9.6,0a4.8,4.8 0 1,0 -9.6,0M1254.34,368.68a4.8,4.8 0 1,0 9.6,0a4.8,4.8 0 1,0 -9.6,0M1255.48,388.05a4.8,4.8 0 1,0 9.6,0a4.8,4.8 0 1,0 -9.6,0M1258.03,366.48a4.8,4.8 0 1,0 9.6,0a4.8,4.8 0 1,0 -9.6,0M1257.02,387.47a4.8,4.8 0 1,0 9.6,0a4.8,4.8 0 1,0 -9.6,0M1254.45,406.66a4.8,4.8 0 1,0 9.6,0a4.8,4.8 0 1,0 -9.6,0M1258.55,408.57a4.8,4.8 0 1,0 9.6,0a4.8,4.8 0 1,0 -9.6,0M1252.49,406.73a4.8,4.8 0 1,0 9.6,0a4.8,4.8 0 1,0 -9.6,0M1260.6,372.45a4.8,4.8 0 1,0 9.6,0a4.8,4.8 0 1,0 -9.6,0M1257.54,403.55a4.8,4.8 0 1,0 9.6,0a4.8,4.8 0 1,0 -9.6,0M1256.88,407.78a4.8,4.8 0 1,0 9.6,0a4.8,4.8 0 1,0 -9.6,0M1253.98,375.95a4.8,4.8 0 1,0 9.6,0a4.8,4.8 0 1,0 -9.6,0M1259.18,387.7a4.8,4.8 0 1,0 9.6,0a4.8,4.8 0 1,0 -9.6,0M1259.79,444.57a4.8,4.8 0 1,0 9.6,0a4.8,4.8 0 1,0 -9.6,0M1252.98,360.34a4.8,4.8 0 1,0 9.6,0a4.8,4.8 0 1,0 -9.6,0M1251.89,363.8a4.8,4.8 0 1,0 9.6,0a4.8,4.8 0 1,0 -9.6,0M1255.95,409.65a4.8,4.8 0 1,0 9.6,0a4.8,4.8 0 1,0 -9.6,0M1258.99,418.03a4.8,4.8 0 1,0 9.6,0a4.8,4.8 0 1,0 -9.6,0M1258.25,382.81a4.8,4.8 0 1,0 9.6,0a4.8,4.8 0 1,0 -9.6,0M1252.8,417.19a4.8,4.8 0 1,0 9.6,0a4.8,4.8 0 1,0 -9.6,0M1259.13,373.22a4.8,4.8 0 1,0 9.6,0a4.8,4.8 0 1,0 -9.6,0M1253.68,381.64a4.8,4.8 0 1,0 9.6,0a4.8,4.8 0 1,0 -9.6,0M1255.62,392.99a4.8,4.8 0 1,0 9.6,0a4.8,4.8 0 1,0 -9.6,0M1253.48,411.03a4.8,4.8 0 1,0 9.6,0a4.8,4.8 0 1,0 -9.6,0M1259.18,389.81a4.8,4.8 0 1,0 9.6,0a4.8,4.8 0 1,0 -9.6,0M1256.19,361.84a4.8,4.8 0 1,0 9.6,0a4.8,4.8 0 1,0 -9.6,0M1260.42,397.59a4.8,4.8 0 1,0 9.6,0a4.8,4.8 0 1,0 -9.6,0M1252.04,418.54a4.8,4.8 0 1,0 9.6,0a4.8,4.8 0 1,0 -9.6,0M1252.08,386.04a4.8,4.8 0 1,0 9.6,0a4.8,4.8 0 1,0 -9.6,0M1252.76,395.96a4.8,4.8 0 1,0 9.6,0a4.8,4.8 0 1,0 -9.6,0M1261.27,426.25a4.8,4.8 0 1,0 9.6,0a4.8,4.8 0 1,0 -9.6,0M1255.75,361.91a4.8,4.8 0 1,0 9.6,0a4.8,4.8 0 1,0 -9.6,0M1260.36,375.87a4.8,4.8 0 1,0 9.6,0a4.8,4.8 0 1,0 -9.6,0M1261.44,362.57a4.8,4.8 0 1,0 9.6,0a4.8,4.8 0 1,0 -9.6,0M1258.24,400.48a4.8,4.8 0 1,0 9.6,0a4.8,4.8 0 1,0 -9.6,0M1252.16,446.69a4.8,4.8 0 1,0 9.6,0a4.8,4.8 0 1,0 -9.6,0M1261.42,425.5a4.8,4.8 0 1,0 9.6,0a4.8,4.8 0 1,0 -9.6,0M1259.66,383.09a4.8,4.8 0 1,0 9.6,0a4.8,4.8 0 1,0 -9.6,0M1254.35,410.95a4.8,4.8 0 1,0 9.6,0a4.8,4.8 0 1,0 -9.6,0M1261.86,442.8a4.8,4.8 0 1,0 9.6,0a4.8,4.8 0 1,0 -9.6,0M1252.21,416.24a4.8,4.8 0 1,0 9.6,0a4.8,4.8 0 1,0 -9.6,0M1255.94,402.39a4.8,4.8 0 1,0 9.6,0a4.8,4.8 0 1,0 -9.6,0M1259.07,402.24a4.8,4.8 0 1,0 9.6,0a4.8,4.8 0 1,0 -9.6,0M1254.1,383.57a4.8,4.8 0 1,0 9.6,0a4.8,4.8 0 1,0 -9.6,0M1261.5,425.54a4.8,4.8 0 1,0 9.6,0a4.8,4.8 0 1,0 -9.6,0M1254.75,399.69a4.8,4.8 0 1,0 9.6,0a4.8,4.8 0 1,0 -9.6,0M1257.55,433.16a4.8,4.8 0 1,0 9.6,0a4.8,4.8 0 1,0 -9.6,0M1259.64,383.56a4.8,4.8 0 1,0 9.6,0a4.8,4.8 0 1,0 -9.6,0M1258.65,427.55a4.8,4.8 0 1,0 9.6,0a4.8,4.8 0 1,0 -9.6,0M1260.39,440.77a4.8,4.8 0 1,0 9.6,0a4.8,4.8 0 1,0 -9.6,0M1254.65,386a4.8,4.8 0 1,0 9.6,0a4.8,4.8 0 1,0 -9.6,0M1254.56,394.38a4.8,4.8 0 1,0 9.6,0a4.8,4.8 0 1,0 -9.6,0M1259.02,387.91a4.8,4.8 0 1,0 9.6,0a4.8,4.8 0 1,0 -9.6,0M1256.55,379.1a4.8,4.8 0 1,0 9.6,0a4.8,4.8 0 1,0 -9.6,0M1253.36,381.61a4.8,4.8 0 1,0 9.6,0a4.8,4.8 0 1,0 -9.6,0M1259.18,439.02a4.8,4.8 0 1,0 9.6,0a4.8,4.8 0 1,0 -9.6,0M1252.73,390.47a4.8,4.8 0 1,0 9.6,0a4.8,4.8 0 1,0 -9.6,0M1256.18,391.31a4.8,4.8 0 1,0 9.6,0a4.8,4.8 0 1,0 -9.6,0M1261.33,400.21a4.8,4.8 0 1,0 9.6,0a4.8,4.8 0 1,0 -9.6,0M1258.23,397.83a4.8,4.8 0 1,0 9.6,0a4.8,4.8 0 1,0 -9.6,0M1254.24,381.46a4.8,4.8 0 1,0 9.6,0a4.8,4.8 0 1,0 -9.6,0M1259.79,392.87a4.8,4.8 0 1,0 9.6,0a4.8,4.8 0 1,0 -9.6,0M1253.55,417.53a4.8,4.8 0 1,0 9.6,0a4.8,4.8 0 1,0 -9.6,0M1260.54,392.11a4.8,4.8 0 1,0 9.6,0a4.8,4.8 0 1,0 -9.6,0M1259.9,430.47a4.8,4.8 0 1,0 9.6,0a4.8,4.8 0 1,0 -9.6,0M1255.04,372.38a4.8,4.8 0 1,0 9.6,0a4.8,4.8 0 1,0 -9.6,0M1255.49,386.29a4.8,4.8 0 1,0 9.6,0a4.8,4.8 0 1,0 -9.6,0M1255.49,417.64a4.8,4.8 0 1,0 9.6,0a4.8,4.8 0 1,0 -9.6,0M1252.02,423.29a4.8,4.8 0 1,0 9.6,0a4.8,4.8 0 1,0 -9.6,0M1259.06,430.9a4.8,4.8 0 1,0 9.6,0a4.8,4.8 0 1,0 -9.6,0M1256.82,351.87a4.8,4.8 0 1,0 9.6,0a4.8,4.8 0 1,0 -9.6,0M1253.25,432.3a4.8,4.8 0 1,0 9.6,0a4.8,4.8 0 1,0 -9.6,0M1258.87,406.37a4.8,4.8 0 1,0 9.6,0a4.8,4.8 0 1,0 -9.6,0M1256.28,402.2a4.8,4.8 0 1,0 9.6,0a4.8,4.8 0 1,0 -9.6,0M1252,438.44a4.8,4.8 0 1,0 9.6,0a4.8,4.8 0 1,0 -9.6,0M1251.61,381.48a4.8,4.8 0 1,0 9.6,0a4.8,4.8 0 1,0 -9.6,0M1259.92,360.94a4.8,4.8 0 1,0 9.6,0a4.8,4.8 0 1,0 -9.6,0M1254.58,357.34a4.8,4.8 0 1,0 9.6,0a4.8,4.8 0 1,0 -9.6,0M1255.17,424.52a4.8,4.8 0 1,0 9.6,0a4.8,4.8 0 1,0 -9.6,0M1258.64,399.45a4.8,4.8 0 1,0 9.6,0a4.8,4.8 0 1,0 -9.6,0M1253.32,356.02a4.8,4.8 0 1,0 9.6,0a4.8,4.8 0 1,0 -9.6,0M1255.27,428.88a4.8,4.8 0 1,0 9.6,0a4.8,4.8 0 1,0 -9.6,0M1252.48,384.98a4.8,4.8 0 1,0 9.6,0a4.8,4.8 0 1,0 -9.6,0M1261.91,359.92a4.8,4.8 0 1,0 9.6,0a4.8,4.8 0 1,0 -9.6,0" fill="#29A9E1"/>
<path d="M1302.8,164.3a4.8,4.8 0 1,0 9.6,0a4.8,4.8 0 1,0 -9.6,0M1310,163.5a4.8,4.8 0 1,0 9.6,0a4.8,4.8 0 1,0 -9.6,0M1306.6,167.4a4.8,4.8 0 1,0 9.6,0a4.8,4.8 0 1,0 -9.6,0M1309.2,169.9a4.8,4.8 0 1,0 9.6,0a4.8,4.8 0 1,0 -9.6,0M1304.1,173a4.8,4.8 0 1,0 9.6,0a4.8,4.8 0 1,0 -9.6,0M1310.5,180.2a4.8,4.8 0 1,0 9.6,0a4.8,4.8 0 1,0 -9.6,0M1304.1,184.1a4.8,4.8 0 1,0 9.6,0a4.8,4.8 0 1,0 -9.6,0M1305.9,186.7a4.8,4.8 0 1,0 9.6,0a4.8,4.8 0 1,0 -9.6,0M1306.6,195.2a4.8,4.8 0 1,0 9.6,0a4.8,4.8 0 1,0 -9.6,0M1307.5,213.2a4.8,4.8 0 1,0 9.6,0a4.8,4.8 0 1,0 -9.6,0M1302.8,239.4a4.8,4.8 0 1,0 9.6,0a4.8,4.8 0 1,0 -9.6,0M1306.2,313.4a4.8,4.8 0 1,0 9.6,0a4.8,4.8 0 1,0 -9.6,0M1301.6,319.4a4.8,4.8 0 1,0 9.6,0a4.8,4.8 0 1,0 -9.6,0M1306.6,326.5a4.8,4.8 0 1,0 9.6,0a4.8,4.8 0 1,0 -9.6,0M1301.8,342.6a4.8,4.8 0 1,0 9.6,0a4.8,4.8 0 1,0 -9.6,0M1306.8,349.6a4.8,4.8 0 1,0 9.6,0a4.8,4.8 0 1,0 -9.6,0M1309.85,393.29a4.8,4.8 0 1,0 9.6,0a4.8,4.8 0 1,0 -9.6,0M1308.42,381.96a4.8,4.8 0 1,0 9.6,0a4.8,4.8 0 1,0 -9.6,0M1311.35,409.37a4.8,4.8 0 1,0 9.6,0a4.8,4.8 0 1,0 -9.6,0M1308.11,366.32a4.8,4.8 0 1,0 9.6,0a4.8,4.8 0 1,0 -9.6,0M1301.55,429.86a4.8,4.8 0 1,0 9.6,0a4.8,4.8 0 1,0 -9.6,0M1308.25,409.9a4.8,4.8 0 1,0 9.6,0a4.8,4.8 0 1,0 -9.6,0M1307.41,395.69a4.8,4.8 0 1,0 9.6,0a4.8,4.8 0 1,0 -9.6,0M1305.45,432.91a4.8,4.8 0 1,0 9.6,0a4.8,4.8 0 1,0 -9.6,0M1303.16,405.72a4.8,4.8 0 1,0 9.6,0a4.8,4.8 0 1,0 -9.6,0M1302.44,400.79a4.8,4.8 0 1,0 9.6,0a4.8,4.8 0 1,0 -9.6,0M1302.26,431.61a4.8,4.8 0 1,0 9.6,0a4.8,4.8 0 1,0 -9.6,0M1307.12,399.62a4.8,4.8 0 1,0 9.6,0a4.8,4.8 0 1,0 -9.6,0M1307.32,368.59a4.8,4.8 0 1,0 9.6,0a4.8,4.8 0 1,0 -9.6,0M1302.1,434.52a4.8,4.8 0 1,0 9.6,0a4.8,4.8 0 1,0 -9.6,0M1302.03,402.24a4.8,4.8 0 1,0 9.6,0a4.8,4.8 0 1,0 -9.6,0M1308.82,377.39a4.8,4.8 0 1,0 9.6,0a4.8,4.8 0 1,0 -9.6,0M1311.75,446.14a4.8,4.8 0 1,0 9.6,0a4.8,4.8 0 1,0 -9.6,0M1302.33,424.68a4.8,4.8 0 1,0 9.6,0a4.8,4.8 0 1,0 -9.6,0M1303.07,417.13a4.8,4.8 0 1,0 9.6,0a4.8,4.8 0 1,0 -9.6,0M1309.46,399.23a4.8,4.8 0 1,0 9.6,0a4.8,4.8 0 1,0 -9.6,0M1303.76,397.83a4.8,4.8 0 1,0 9.6,0a4.8,4.8 0 1,0 -9.6,0M1301.41,408.32a4.8,4.8 0 1,0 9.6,0a4.8,4.8 0 1,0 -9.6,0M1308.75,394.18a4.8,4.8 0 1,0 9.6,0a4.8,4.8 0 1,0 -9.6,0M1310.67,377.53a4.8,4.8 0 1,0 9.6,0a4.8,4.8 0 1,0 -9.6,0M1310.98,375.64a4.8,4.8 0 1,0 9.6,0a4.8,4.8 0 1,0 -9.6,0M1309.15,440.55a4.8,4.8 0 1,0 9.6,0a4.8,4.8 0 1,0 -9.6,0M1309.34,423.87a4.8,4.8 0 1,0 9.6,0a4.8,4.8 0 1,0 -9.6,0M1305.2,393.11a4.8,4.8 0 1,0 9.6,0a4.8,4.8 0 1,0 -9.6,0M1311.3,411.38a4.8,4.8 0 1,0 9.6,0a4.8,4.8 0 1,0 -9.6,0M1302.31,364.59a4.8,4.8 0 1,0 9.6,0a4.8,4.8 0 1,0 -9.6,0M1309.76,389.58a4.8,4.8 0 1,0 9.6,0a4.8,4.8 0 1,0 -9.6,0M1303.95,363.86a4.8,4.8 0 1,0 9.6,0a4.8,4.8 0 1,0 -9.6,0M1305.99,417.29a4.8,4.8 0 1,0 9.6,0a4.8,4.8 0 1,0 -9.6,0M1302.45,397.32a4.8,4.8 0 1,0 9.6,0a4.8,4.8 0 1,0 -9.6,0M1303.21,362.71a4.8,4.8 0 1,0 9.6,0a4.8,4.8 0 1,0 -9.6,0M1304.32,368.87a4.8,4.8 0 1,0 9.6,0a4.8,4.8 0 1,0 -9.6,0M1310.53,410.16a4.8,4.8 0 1,0 9.6,0a4.8,4.8 0 1,0 -9.6,0M1308.56,389.25a4.8,4.8 0 1,0 9.6,0a4.8,4.8 0 1,0 -9.6,0M1301.4,358.89a4.8,4.8 0 1,0 9.6,0a4.8,4.8 0 1,0 -9.6,0M1310.5,381.08a4.8,4.8 0 1,0 9.6,0a4.8,4.8 0 1,0 -9.6,0M1303.18,454.42a4.8,4.8 0 1,0 9.6,0a4.8,4.8 0 1,0 -9.6,0M1305.41,387.05a4.8,4.8 0 1,0 9.6,0a4.8,4.8 0 1,0 -9.6,0M1302.93,373.9a4.8,4.8 0 1,0 9.6,0a4.8,4.8 0 1,0 -9.6,0M1310.5,416.98a4.8,4.8 0 1,0 9.6,0a4.8,4.8 0 1,0 -9.6,0M1303.54,378.27a4.8,4.8 0 1,0 9.6,0a4.8,4.8 0 1,0 -9.6,0M1301.71,396.49a4.8,4.8 0 1,0 9.6,0a4.8,4.8 0 1,0 -9.6,0M1305.08,388.45a4.8,4.8 0 1,0 9.6,0a4.8,4.8 0 1,0 -9.6,0M1305,422.57a4.8,4.8 0 1,0 9.6,0a4.8,4.8 0 1,0 -9.6,0M1307.39,411.54a4.8,4.8 0 1,0 9.6,0a4.8,4.8 0 1,0 -9.6,0M1311.71,370.16a4.8,4.8 0 1,0 9.6,0a4.8,4.8 0 1,0 -9.6,0M1302.8,395.54a4.8,4.8 0 1,0 9.6,0a4.8,4.8 0 1,0 -9.6,0M1306.55,402.33a4.8,4.8 0 1,0 9.6,0a4.8,4.8 0 1,0 -9.6,0M1307.28,378.35a4.8,4.8 0 1,0 9.6,0a4.8,4.8 0 1,0 -9.6,0M1307.19,421.38a4.8,4.8 0 1,0 9.6,0a4.8,4.8 0 1,0 -9.6,0M1309.46,366.88a4.8,4.8 0 1,0 9.6,0a4.8,4.8 0 1,0 -9.6,0M1304.23,416.01a4.8,4.8 0 1,0 9.6,0a4.8,4.8 0 1,0 -9.6,0M1311.2,366.83a4.8,4.8 0 1,0 9.6,0a4.8,4.8 0 1,0 -9.6,0M1304.47,418.16a4.8,4.8 0 1,0 9.6,0a4.8,4.8 0 1,0 -9.6,0M1306.64,380.77a4.8,4.8 0 1,0 9.6,0a4.8,4.8 0 1,0 -9.6,0M1305.55,419.11a4.8,4.8 0 1,0 9.6,0a4.8,4.8 0 1,0 -9.6,0M1304.82,372.24a4.8,4.8 0 1,0 9.6,0a4.8,4.8 0 1,0 -9.6,0M1305.14,369.02a4.8,4.8 0 1,0 9.6,0a4.8,4.8 0 1,0 -9.6,0M1303.74,401.53a4.8,4.8 0 1,0 9.6,0a4.8,4.8 0 1,0 -9.6,0M1310.48,397.22a4.8,4.8 0 1,0 9.6,0a4.8,4.8 0 1,0 -9.6,0M1305.97,396.92a4.8,4.8 0 1,0 9.6,0a4.8,4.8 0 1,0 -9.6,0M1301.95,404.54a4.8,4.8 0 1,0 9.6,0a4.8,4.8 0 1,0 -9.6,0M1304.52,384.06a4.8,4.8 0 1,0 9.6,0a4.8,4.8 0 1,0 -9.6,0M1311.01,419.08a4.8,4.8 0 1,0 9.6,0a4.8,4.8 0 1,0 -9.6,0M1307.4,384.74a4.8,4.8 0 1,0 9.6,0a4.8,4.8 0 1,0 -9.6,0M1309.46,420.79a4.8,4.8 0 1,0 9.6,0a4.8,4.8 0 1,0 -9.6,0M1310.45,391.3a4.8,4.8 0 1,0 9.6,0a4.8,4.8 0 1,0 -9.6,0M1304.17,455.83a4.8,4.8 0 1,0 9.6,0a4.8,4.8 0 1,0 -9.6,0M1301.49,393.8a4.8,4.8 0 1,0 9.6,0a4.8,4.8 0 1,0 -9.6,0M1303.56,404a4.8,4.8 0 1,0 9.6,0a4.8,4.8 0 1,0 -9.6,0M1303.37,358.2a4.8,4.8 0 1,0 9.6,0a4.8,4.8 0 1,0 -9.6,0M1303.34,374.15a4.8,4.8 0 1,0 9.6,0a4.8,4.8 0 1,0 -9.6,0M1311.46,428.21a4.8,4.8 0 1,0 9.6,0a4.8,4.8 0 1,0 -9.6,0M1310.53,356.92a4.8,4.8 0 1,0 9.6,0a4.8,4.8 0 1,0 -9.6,0M1302.7,376.25a4.8,4.8 0 1,0 9.6,0a4.8,4.8 0 1,0 -9.6,0M1308.03,451.98a4.8,4.8 0 1,0 9.6,0a4.8,4.8 0 1,0 -9.6,0M1304.71,435.93a4.8,4.8 0 1,0 9.6,0a4.8,4.8 0 1,0 -9.6,0M1308.13,411.77a4.8,4.8 0 1,0 9.6,0a4.8,4.8 0 1,0 -9.6,0M1301.86,409.71a4.8,4.8 0 1,0 9.6,0a4.8,4.8 0 1,0 -9.6,0M1301.73,421.03a4.8,4.8 0 1,0 9.6,0a4.8,4.8 0 1,0 -9.6,0M1307.59,415a4.8,4.8 0 1,0 9.6,0a4.8,4.8 0 1,0 -9.6,0M1306.16,372.62a4.8,4.8 0 1,0 9.6,0a4.8,4.8 0 1,0 -9.6,0M1311.72,368.85a4.8,4.8 0 1,0 9.6,0a4.8,4.8 0 1,0 -9.6,0M1307.76,414.78a4.8,4.8 0 1,0 9.6,0a4.8,4.8 0 1,0 -9.6,0M1302.91,404.92a4.8,4.8 0 1,0 9.6,0a4.8,4.8 0 1,0 -9.6,0M1309.38,389a4.8,4.8 0 1,0 9.6,0a4.8,4.8 0 1,0 -9.6,0M1306.96,388.43a4.8,4.8 0 1,0 9.6,0a4.8,4.8 0 1,0 -9.6,0M1307.13,424.91a4.8,4.8 0 1,0 9.6,0a4.8,4.8 0 1,0 -9.6,0M1309.11,418.41a4.8,4.8 0 1,0 9.6,0a4.8,4.8 0 1,0 -9.6,0M1308.79,413.48a4.8,4.8 0 1,0 9.6,0a4.8,4.8 0 1,0 -9.6,0M1304.53,376.96a4.8,4.8 0 1,0 9.6,0a4.8,4.8 0 1,0 -9.6,0M1306.05,355.9a4.8,4.8 0 1,0 9.6,0a4.8,4.8 0 1,0 -9.6,0M1301.35,408.53a4.8,4.8 0 1,0 9.6,0a4.8,4.8 0 1,0 -9.6,0M1305.09,424.94a4.8,4.8 0 1,0 9.6,0a4.8,4.8 0 1,0 -9.6,0M1309.27,434.26a4.8,4.8 0 1,0 9.6,0a4.8,4.8 0 1,0 -9.6,0M1301.55,437.2a4.8,4.8 0 1,0 9.6,0a4.8,4.8 0 1,0 -9.6,0M1307.14,370.23a4.8,4.8 0 1,0 9.6,0a4.8,4.8 0 1,0 -9.6,0M1311.21,387.77a4.8,4.8 0 1,0 9.6,0a4.8,4.8 0 1,0 -9.6,0M1309.07,389.52a4.8,4.8 0 1,0 9.6,0a4.8,4.8 0 1,0 -9.6,0M1301.56,441.17a4.8,4.8 0 1,0 9.6,0a4.8,4.8 0 1,0 -9.6,0M1311.66,432.75a4.8,4.8 0 1,0 9.6,0a4.8,4.8 0 1,0 -9.6,0M1307.99,385.96a4.8,4.8 0 1,0 9.6,0a4.8,4.8 0 1,0 -9.6,0M1304.68,390.13a4.8,4.8 0 1,0 9.6,0a4.8,4.8 0 1,0 -9.6,0M1309.02,446.85a4.8,4.8 0 1,0 9.6,0a4.8,4.8 0 1,0 -9.6,0M1308.09,427.28a4.8,4.8 0 1,0 9.6,0a4.8,4.8 0 1,0 -9.6,0M1307.23,393.19a4.8,4.8 0 1,0 9.6,0a4.8,4.8 0 1,0 -9.6,0M1310.99,406.35a4.8,4.8 0 1,0 9.6,0a4.8,4.8 0 1,0 -9.6,0M1303.63,392.53a4.8,4.8 0 1,0 9.6,0a4.8,4.8 0 1,0 -9.6,0M1303.7,401.51a4.8,4.8 0 1,0 9.6,0a4.8,4.8 0 1,0 -9.6,0M1309.3,371.13a4.8,4.8 0 1,0 9.6,0a4.8,4.8 0 1,0 -9.6,0M1303.55,424.88a4.8,4.8 0 1,0 9.6,0a4.8,4.8 0 1,0 -9.6,0M1304.08,364.44a4.8,4.8 0 1,0 9.6,0a4.8,4.8 0 1,0 -9.6,0M1304.25,372.06a4.8,4.8 0 1,0 9.6,0a4.8,4.8 0 1,0 -9.6,0M1306.4,439.86a4.8,4.8 0 1,0 9.6,0a4.8,4.8 0 1,0 -9.6,0M1308.49,441.22a4.8,4.8 0 1,0 9.6,0a4.8,4.8 0 1,0 -9.6,0M1310.61,432.69a4.8,4.8 0 1,0 9.6,0a4.8,4.8 0 1,0 -9.6,0M1310.62,389.18a4.8,4.8 0 1,0 9.6,0a4.8,4.8 0 1,0 -9.6,0M1303.18,389.47a4.8,4.8 0 1,0 9.6,0a4.8,4.8 0 1,0 -9.6,0M1304.4,354.07a4.8,4.8 0 1,0 9.6,0a4.8,4.8 0 1,0 -9.6,0M1302.43,451.29a4.8,4.8 0 1,0 9.6,0a4.8,4.8 0 1,0 -9.6,0M1310.91,457.14a4.8,4.8 0 1,0 9.6,0a4.8,4.8 0 1,0 -9.6,0M1303.04,400.37a4.8,4.8 0 1,0 9.6,0a4.8,4.8 0 1,0 -9.6,0M1302.21,411.28a4.8,4.8 0 1,0 9.6,0a4.8,4.8 0 1,0 -9.6,0M1310.6,362.63a4.8,4.8 0 1,0 9.6,0a4.8,4.8 0 1,0 -9.6,0M1303.74,454.68a4.8,4.8 0 1,0 9.6,0a4.8,4.8 0 1,0 -9.6,0M1301.65,386.01a4.8,4.8 0 1,0 9.6,0a4.8,4.8 0 1,0 -9.6,0M1303.71,419.94a4.8,4.8 0 1,0 9.6,0a4.8,4.8 0 1,0 -9.6,0M1311.75,395.11a4.8,4.8 0 1,0 9.6,0a4.8,4.8 0 1,0 -9.6,0M1310.56,396.06a4.8,4.8 0 1,0 9.6,0a4.8,4.8 0 1,0 -9.6,0M1305.79,413.6a4.8,4.8 0 1,0 9.6,0a4.8,4.8 0 1,0 -9.6,0M1308.52,398.18a4.8,4.8 0 1,0 9.6,0a4.8,4.8 0 1,0 -9.6,0M1302.44,401.63a4.8,4.8 0 1,0 9.6,0a4.8,4.8 0 1,0 -9.6,0M1306.51,430.48a4.8,4.8 0 1,0 9.6,0a4.8,4.8 0 1,0 -9.6,0M1303.53,421.57a4.8,4.8 0 1,0 9.6,0a4.8,4.8 0 1,0 -9.6,0M1309,365.75a4.8,4.8 0 1,0 9.6,0a4.8,4.8 0 1,0 -9.6,0M1301.98,390.14a4.8,4.8 0 1,0 9.6,0a4.8,4.8 0 1,0 -9.6,0" fill="#1B3F9B"/>
<line x1="1093.4" y1="386.1" x2="1132.8" y2="386.1" stroke="#000" stroke-width="1.5"/>
<line x1="1093.4" y1="391" x2="1132.8" y2="391" stroke="#000" stroke-width="3"/>
<line x1="1093.4" y1="396.8" x2="1132.8" y2="396.8" stroke="#000" stroke-width="1.5"/>
<line x1="1143.2" y1="381.7" x2="1182" y2="381.7" stroke="#000" stroke-width="1.5"/>
<line x1="1143.2" y1="387.2" x2="1182" y2="387.2" stroke="#000" stroke-width="3"/>
<line x1="1143.2" y1="392.7" x2="1182" y2="392.7" stroke="#000" stroke-width="1.5"/>
<line x1="1242.2" y1="383" x2="1281.3" y2="383" stroke="#000" stroke-width="1.5"/>
<line x1="1242.2" y1="388.6" x2="1281.3" y2="388.6" stroke="#000" stroke-width="3"/>
<line x1="1242.2" y1="394" x2="1281.3" y2="394" stroke="#000" stroke-width="1.5"/>
<line x1="1291.4" y1="382" x2="1331" y2="382" stroke="#000" stroke-width="1.5"/>
<line x1="1291.4" y1="387.5" x2="1331" y2="387.5" stroke="#000" stroke-width="3"/>
<line x1="1291.4" y1="393" x2="1331" y2="393" stroke="#000" stroke-width="1.5"/>
<rect x="1063" y="33" width="298" height="458.1" fill="none" stroke="#262626" stroke-width="2.2"/>
<line x1="1063" y1="466.8" x2="1069" y2="466.8" stroke="#262626" stroke-width="2"/>
<line x1="1355" y1="466.8" x2="1361" y2="466.8" stroke="#262626" stroke-width="2"/>
<line x1="1063" y1="418.6" x2="1069" y2="418.6" stroke="#262626" stroke-width="2"/>
<line x1="1355" y1="418.6" x2="1361" y2="418.6" stroke="#262626" stroke-width="2"/>
<line x1="1063" y1="370.4" x2="1069" y2="370.4" stroke="#262626" stroke-width="2"/>
<line x1="1355" y1="370.4" x2="1361" y2="370.4" stroke="#262626" stroke-width="2"/>
<line x1="1063" y1="322.2" x2="1069" y2="322.2" stroke="#262626" stroke-width="2"/>
<line x1="1355" y1="322.2" x2="1361" y2="322.2" stroke="#262626" stroke-width="2"/>
<line x1="1063" y1="274" x2="1069" y2="274" stroke="#262626" stroke-width="2"/>
<line x1="1355" y1="274" x2="1361" y2="274" stroke="#262626" stroke-width="2"/>
<line x1="1063" y1="225.8" x2="1069" y2="225.8" stroke="#262626" stroke-width="2"/>
<line x1="1355" y1="225.8" x2="1361" y2="225.8" stroke="#262626" stroke-width="2"/>
<line x1="1063" y1="177.6" x2="1069" y2="177.6" stroke="#262626" stroke-width="2"/>
<line x1="1355" y1="177.6" x2="1361" y2="177.6" stroke="#262626" stroke-width="2"/>
<line x1="1063" y1="129.4" x2="1069" y2="129.4" stroke="#262626" stroke-width="2"/>
<line x1="1355" y1="129.4" x2="1361" y2="129.4" stroke="#262626" stroke-width="2"/>
<line x1="1063" y1="81.2" x2="1069" y2="81.2" stroke="#262626" stroke-width="2"/>
<line x1="1355" y1="81.2" x2="1361" y2="81.2" stroke="#262626" stroke-width="2"/>
<line x1="1063" y1="33" x2="1069" y2="33" stroke="#262626" stroke-width="2"/>
<line x1="1355" y1="33" x2="1361" y2="33" stroke="#262626" stroke-width="2"/>
<line x1="1112.67" y1="491.1" x2="1112.67" y2="485.1" stroke="#262626" stroke-width="2"/>
<line x1="1112.67" y1="33" x2="1112.67" y2="39" stroke="#262626" stroke-width="2"/>
<line x1="1162.34" y1="491.1" x2="1162.34" y2="485.1" stroke="#262626" stroke-width="2"/>
<line x1="1162.34" y1="33" x2="1162.34" y2="39" stroke="#262626" stroke-width="2"/>
<line x1="1261.68" y1="491.1" x2="1261.68" y2="485.1" stroke="#262626" stroke-width="2"/>
<line x1="1261.68" y1="33" x2="1261.68" y2="39" stroke="#262626" stroke-width="2"/>
<line x1="1311.35" y1="491.1" x2="1311.35" y2="485.1" stroke="#262626" stroke-width="2"/>
<line x1="1311.35" y1="33" x2="1311.35" y2="39" stroke="#262626" stroke-width="2"/>
<text transform="translate(1055.5,427.2) scale(1.03,1)" font-size="24.3" text-anchor="end" fill="#262626">0</text>
<text transform="translate(1055.5,330.8) scale(1.03,1)" font-size="24.3" text-anchor="end" fill="#262626">2</text>
<text transform="translate(1055.5,234.4) scale(1.03,1)" font-size="24.3" text-anchor="end" fill="#262626">4</text>
<text transform="translate(1055.5,138) scale(1.03,1)" font-size="24.3" text-anchor="end" fill="#262626">6</text>
<text transform="translate(1055.5,41.6) scale(1.03,1)" font-size="24.3" text-anchor="end" fill="#262626">8</text>
<text transform="translate(1022.5,248.6) rotate(-90) scale(1.03,1)" font-size="26.4" text-anchor="middle" fill="#262626">Theta SFC (z)</text>
<text x="1199.5" y="20.6" font-size="29.3" text-anchor="middle" fill="#000">Hippocampus</text>
<text x="976" y="25.7" font-size="29" text-anchor="start" fill="#000" font-weight="bold">c</text>
<path d="M1115.3,97.3V88H1166V97.3" fill="none" stroke="#000" stroke-width="2.2"/>
<path d="M1263.3,97.3V88H1315.8V97.3" fill="none" stroke="#000" stroke-width="2.2"/>
<path d="M1140.2,65.7V56.6H1290V65.7" fill="none" stroke="#000" stroke-width="2.2"/>
<text transform="translate(1143.3,81) scale(1.03,1)" font-size="23" text-anchor="middle" fill="#000">ns</text>
<text transform="translate(1289.6,81) scale(1.03,1)" font-size="23" text-anchor="middle" fill="#000">ns</text>
<text transform="translate(1217.5,52.8) scale(1.03,1)" font-size="23" text-anchor="middle" fill="#000">ns</text>
<text transform="translate(1127.97,518.3) rotate(-45)" font-size="26.4" text-anchor="end" fill="#262626">pref load 1</text>
<text transform="translate(1177.64,518.3) rotate(-45)" font-size="26.4" text-anchor="end" fill="#262626">nonpref load 1</text>
<text transform="translate(1276.98,518.3) rotate(-45)" font-size="26.4" text-anchor="end" fill="#262626">pref load 3</text>
<text transform="translate(1326.65,518.3) rotate(-45)" font-size="26.4" text-anchor="end" fill="#262626">nonpref load 3</text>
<text x="1413" y="28.2" font-size="29" text-anchor="start" fill="#000" font-weight="bold">d</text>
<path d="M1582.7,485.52L1643.9,463.5M1582.7,485.26L1643.9,445.35M1582.7,482.71L1643.9,460.77M1582.7,481.68L1643.9,445.78M1582.7,480.2L1643.9,441.85M1582.7,479.62L1643.9,471.66M1582.7,477.99L1643.9,456.14M1582.7,477.81L1643.9,454.7M1582.7,475.58L1643.9,427.06M1582.7,473.97L1643.9,453.03M1582.7,473.73L1643.9,450.81M1582.7,473.72L1643.9,436.33M1582.7,472.01L1643.9,422.92M1582.7,471.84L1643.9,436.27M1582.7,470.33L1643.9,419.59M1582.7,469L1643.9,442.6M1582.7,468.69L1643.9,445.5M1582.7,468.57L1643.9,429.75M1582.7,467.52L1643.9,441.69M1582.7,467.19L1643.9,454.87M1582.7,465.89L1643.9,436.02M1582.7,465.79L1643.9,464.16M1582.7,465.16L1643.9,429.78M1582.7,464.82L1643.9,415.42M1582.7,463.05L1643.9,449.07M1582.7,462.9L1643.9,457.65M1582.7,462.5L1643.9,413.24M1582.7,461.3L1643.9,443.2M1582.7,461.17L1643.9,423.59M1582.7,460.92L1643.9,427.57M1582.7,459.96L1643.9,403.84M1582.7,459.53L1643.9,403.92M1582.7,459.19L1643.9,455.12M1582.7,458.63L1643.9,406.55M1582.7,457.75L1643.9,442.56M1582.7,457.1L1643.9,460.65M1582.7,456.56L1643.9,406.37M1582.7,456.07L1643.9,427.49M1582.7,455.69L1643.9,420.33M1582.7,455.22L1643.9,457.94M1582.7,454.24L1643.9,442.81M1582.7,454.23L1643.9,399.61M1582.7,453.86L1643.9,471.97M1582.7,453.3L1643.9,463.42M1582.7,452.49L1643.9,394.11M1582.7,451.87L1643.9,453.71M1582.7,451.32L1643.9,392.15M1582.7,451.21L1643.9,440.52M1582.7,448.84L1643.9,391.41M1582.7,447.91L1643.9,384.11M1582.7,446.15L1643.9,411.33M1582.7,445.72L1643.9,406.25M1582.7,445.41L1643.9,393.98M1582.7,444.88L1643.9,400.71M1582.7,444.25L1643.9,364.8M1582.7,443.66L1643.9,471.86M1582.7,442.35L1643.9,454.06M1582.7,440.57L1643.9,408.13M1582.7,439.89L1643.9,381.2M1582.7,439.7L1643.9,437.3M1582.7,439.43L1643.9,412.65M1582.7,438.93L1643.9,424.56M1582.7,438.2L1643.9,448.78M1582.7,438.1L1643.9,402.44M1582.7,438.05L1643.9,360.37M1582.7,437.98L1643.9,370.07M1582.7,437.56L1643.9,432.86M1582.7,437.47L1643.9,420.09M1582.7,435.91L1643.9,384.68M1582.7,434.68L1643.9,361.05M1582.7,431.62L1643.9,396.66M1582.7,431.38L1643.9,399.06M1582.7,431.19L1643.9,431.63M1582.7,430.97L1643.9,424.87M1582.7,430.65L1643.9,374.45M1582.7,430.55L1643.9,389.45M1582.7,430.37L1643.9,459.88M1582.7,430.02L1643.9,378.21M1582.7,429.46L1643.9,390.37M1582.7,427.47L1643.9,407.02M1582.7,427.44L1643.9,428.44M1582.7,426.53L1643.9,459.31M1582.7,425.67L1643.9,443.87M1582.7,425.43L1643.9,417.54M1582.7,422.96L1643.9,384.7M1582.7,421.78L1643.9,442.6M1582.7,421.19L1643.9,452M1582.7,420.56L1643.9,429.26M1582.7,420.25L1643.9,447.69M1582.7,419.72L1643.9,403.1M1582.7,419.59L1643.9,454.16M1582.7,419.54L1643.9,466.08M1582.7,418.42L1643.9,411.71M1582.7,417.13L1643.9,404.04M1582.7,417.05L1643.9,406.08M1582.7,416.92L1643.9,446.11M1582.7,416.59L1643.9,446.07M1582.7,416.37L1643.9,396.27M1582.7,416.3L1643.9,446.6M1582.7,416.11L1643.9,413.57M1582.7,415.65L1643.9,445.13M1582.7,415.15L1643.9,403.5M1582.7,414.82L1643.9,470.68M1582.7,414.59L1643.9,420.19M1582.7,414.58L1643.9,401.34M1582.7,413.23L1643.9,359.02M1582.7,412.92L1643.9,406.53M1582.7,412.83L1643.9,412.63M1582.7,412.16L1643.9,426.06M1582.7,412.06L1643.9,405.86M1582.7,411.87L1643.9,433.26M1582.7,411.36L1643.9,465.06M1582.7,411.03L1643.9,411.58M1582.7,410.64L1643.9,439.86M1582.7,410.58L1643.9,445.28M1582.7,410.27L1643.9,424.86M1582.7,410.26L1643.9,468.04M1582.7,409.25L1643.9,431.88M1582.7,409.1L1643.9,463.96M1582.7,407.54L1643.9,358.23M1582.7,407.04L1643.9,405.5M1582.7,406.39L1643.9,446.34M1582.7,406.32L1643.9,400.17M1582.7,406.22L1643.9,430.96M1582.7,405.48L1643.9,446.4M1582.7,405L1643.9,372.9M1582.7,404.88L1643.9,401.91M1582.7,404.19L1643.9,447.13M1582.7,404.11L1643.9,440.05M1582.7,403.84L1643.9,403.1M1582.7,401.38L1643.9,424.23M1582.7,401.25L1643.9,362.74M1582.7,400L1643.9,405.42M1582.7,399.79L1643.9,418.35M1582.7,398.22L1643.9,395.42M1582.7,397.81L1643.9,401.76M1582.7,395.75L1643.9,424.06M1582.7,395.63L1643.9,403.86M1582.7,391.39L1643.9,432.35M1582.7,389.53L1643.9,402.88M1582.7,387.37L1643.9,418.91M1582.7,386.53L1643.9,363.87M1582.7,385.49L1643.9,442.58M1582.7,384.91L1643.9,386.11M1582.7,384.59L1643.9,360.34M1582.7,384.1L1643.9,426.47M1582.7,382.27L1643.9,388.1M1582.7,380.86L1643.9,361.41M1582.7,380.4L1643.9,432.59M1582.7,380.14L1643.9,425.65M1582.7,379.23L1643.9,414.96M1582.7,377.24L1643.9,361.66M1582.7,376.84L1643.9,395.18M1582.7,376.69L1643.9,411.76M1582.7,376.5L1643.9,425.62M1582.7,375.01L1643.9,395.81M1582.7,374.52L1643.9,378.99M1582.7,374.3L1643.9,407.91M1582.7,372.6L1643.9,395.63M1582.7,371.59L1643.9,392.89M1582.7,370.96L1643.9,382.2M1582.7,370.6L1643.9,400.43M1582.7,370.19L1643.9,368.63M1582.7,369.43L1643.9,376.95M1582.7,369.31L1643.9,361.16M1582.7,369.24L1643.9,363.24M1582.7,368.85L1643.9,364.05M1582.7,368.73L1643.9,390.25M1582.7,368.57L1643.9,397.97M1582.7,366.31L1643.9,384.85M1582.7,362.58L1643.9,387.87M1582.7,362.38L1643.9,368.42M1582.7,360.72L1643.9,393.41M1582.7,360.37L1643.9,365.31M1582.7,359.31L1643.9,379.37M1582.7,123.71L1643.9,454.64M1582.7,137.5L1643.9,447.52M1582.7,155.12L1643.9,384.53M1582.7,198.03L1643.9,412.9M1582.7,221.78L1643.9,349.02M1582.7,233.27L1643.9,422.71M1582.7,238.63L1643.9,434.15M1582.7,245.53L1643.9,440.92M1582.7,257.79L1643.9,404.61M1582.7,258.55L1643.9,433.87M1582.7,260.09L1643.9,456.76M1582.7,266.21L1643.9,428.65M1582.7,274.64L1643.9,432.84M1582.7,279.24L1643.9,378.08M1582.7,280.77L1643.9,404.82M1582.7,285.37L1643.9,473.07M1582.7,300.69L1643.9,462.86M1582.7,298.39L1643.9,347.03M1582.7,316.02L1643.9,427.74M1582.7,325.98L1643.9,383.39M1582.7,335.17L1643.9,376.15M1582.7,334.4L1643.9,413.33M1582.7,348.96L1643.9,427.39M1582.7,352.03L1643.9,437.5M1582.7,358.92L1643.9,444.25M1582.7,360.45L1643.9,422.92M1582.7,361.99L1643.9,391.14M1582.7,371.18L1643.9,459.16M1582.7,430.55L1643.9,246.29M1582.7,410.64L1643.9,257.02M1582.7,437.98L1643.9,258.55M1582.7,457.75L1643.9,266.21M1582.7,438.05L1643.9,279.24M1582.7,430.37L1643.9,280.77M1582.7,419.72L1643.9,309.89M1582.7,477.81L1643.9,312.95M1582.7,425.43L1643.9,316.78M1582.7,416.37L1643.9,322.14M1582.7,463.05L1643.9,338.23" stroke="#838383" stroke-width="1.0" fill="none"/>
<path d="M1544.9,485.52a3.5,3.5 0 1,0 7,0a3.5,3.5 0 1,0 -7,0M1544.91,485.26a3.5,3.5 0 1,0 7,0a3.5,3.5 0 1,0 -7,0M1554.31,482.71a3.5,3.5 0 1,0 7,0a3.5,3.5 0 1,0 -7,0M1550.82,481.68a3.5,3.5 0 1,0 7,0a3.5,3.5 0 1,0 -7,0M1548.63,480.2a3.5,3.5 0 1,0 7,0a3.5,3.5 0 1,0 -7,0M1550.43,479.62a3.5,3.5 0 1,0 7,0a3.5,3.5 0 1,0 -7,0M1551.99,477.99a3.5,3.5 0 1,0 7,0a3.5,3.5 0 1,0 -7,0M1551.96,477.81a3.5,3.5 0 1,0 7,0a3.5,3.5 0 1,0 -7,0M1546.86,475.58a3.5,3.5 0 1,0 7,0a3.5,3.5 0 1,0 -7,0M1552.59,473.97a3.5,3.5 0 1,0 7,0a3.5,3.5 0 1,0 -7,0M1543.11,473.73a3.5,3.5 0 1,0 7,0a3.5,3.5 0 1,0 -7,0M1549.4,473.72a3.5,3.5 0 1,0 7,0a3.5,3.5 0 1,0 -7,0M1547.04,472.01a3.5,3.5 0 1,0 7,0a3.5,3.5 0 1,0 -7,0M1549.48,471.84a3.5,3.5 0 1,0 7,0a3.5,3.5 0 1,0 -7,0M1547.23,470.33a3.5,3.5 0 1,0 7,0a3.5,3.5 0 1,0 -7,0M1552.74,469a3.5,3.5 0 1,0 7,0a3.5,3.5 0 1,0 -7,0M1542.97,468.69a3.5,3.5 0 1,0 7,0a3.5,3.5 0 1,0 -7,0M1552.2,468.57a3.5,3.5 0 1,0 7,0a3.5,3.5 0 1,0 -7,0M1545.82,467.52a3.5,3.5 0 1,0 7,0a3.5,3.5 0 1,0 -7,0M1547.06,467.19a3.5,3.5 0 1,0 7,0a3.5,3.5 0 1,0 -7,0M1543.9,465.89a3.5,3.5 0 1,0 7,0a3.5,3.5 0 1,0 -7,0M1544.89,465.79a3.5,3.5 0 1,0 7,0a3.5,3.5 0 1,0 -7,0M1543.37,465.16a3.5,3.5 0 1,0 7,0a3.5,3.5 0 1,0 -7,0M1553.17,464.82a3.5,3.5 0 1,0 7,0a3.5,3.5 0 1,0 -7,0M1548.05,463.05a3.5,3.5 0 1,0 7,0a3.5,3.5 0 1,0 -7,0M1546.99,462.9a3.5,3.5 0 1,0 7,0a3.5,3.5 0 1,0 -7,0M1543.72,462.5a3.5,3.5 0 1,0 7,0a3.5,3.5 0 1,0 -7,0M1544.41,461.3a3.5,3.5 0 1,0 7,0a3.5,3.5 0 1,0 -7,0M1548.45,461.17a3.5,3.5 0 1,0 7,0a3.5,3.5 0 1,0 -7,0M1545.49,460.92a3.5,3.5 0 1,0 7,0a3.5,3.5 0 1,0 -7,0M1543.59,459.96a3.5,3.5 0 1,0 7,0a3.5,3.5 0 1,0 -7,0M1550.91,459.53a3.5,3.5 0 1,0 7,0a3.5,3.5 0 1,0 -7,0M1545.89,459.19a3.5,3.5 0 1,0 7,0a3.5,3.5 0 1,0 -7,0M1553.96,458.63a3.5,3.5 0 1,0 7,0a3.5,3.5 0 1,0 -7,0M1554.13,457.75a3.5,3.5 0 1,0 7,0a3.5,3.5 0 1,0 -7,0M1549.18,457.1a3.5,3.5 0 1,0 7,0a3.5,3.5 0 1,0 -7,0M1552.27,456.56a3.5,3.5 0 1,0 7,0a3.5,3.5 0 1,0 -7,0M1550.53,456.07a3.5,3.5 0 1,0 7,0a3.5,3.5 0 1,0 -7,0M1550.72,455.69a3.5,3.5 0 1,0 7,0a3.5,3.5 0 1,0 -7,0M1545.57,455.22a3.5,3.5 0 1,0 7,0a3.5,3.5 0 1,0 -7,0M1552.01,454.24a3.5,3.5 0 1,0 7,0a3.5,3.5 0 1,0 -7,0M1553.58,454.23a3.5,3.5 0 1,0 7,0a3.5,3.5 0 1,0 -7,0M1551.52,453.86a3.5,3.5 0 1,0 7,0a3.5,3.5 0 1,0 -7,0M1548.13,453.3a3.5,3.5 0 1,0 7,0a3.5,3.5 0 1,0 -7,0M1544.37,452.49a3.5,3.5 0 1,0 7,0a3.5,3.5 0 1,0 -7,0M1554.32,451.87a3.5,3.5 0 1,0 7,0a3.5,3.5 0 1,0 -7,0M1550.28,451.32a3.5,3.5 0 1,0 7,0a3.5,3.5 0 1,0 -7,0M1550.32,451.21a3.5,3.5 0 1,0 7,0a3.5,3.5 0 1,0 -7,0M1544.95,448.84a3.5,3.5 0 1,0 7,0a3.5,3.5 0 1,0 -7,0M1554.33,447.91a3.5,3.5 0 1,0 7,0a3.5,3.5 0 1,0 -7,0M1546.36,446.15a3.5,3.5 0 1,0 7,0a3.5,3.5 0 1,0 -7,0M1547.64,445.72a3.5,3.5 0 1,0 7,0a3.5,3.5 0 1,0 -7,0M1547.05,445.41a3.5,3.5 0 1,0 7,0a3.5,3.5 0 1,0 -7,0M1554.48,444.88a3.5,3.5 0 1,0 7,0a3.5,3.5 0 1,0 -7,0M1544.05,444.25a3.5,3.5 0 1,0 7,0a3.5,3.5 0 1,0 -7,0M1553.34,443.66a3.5,3.5 0 1,0 7,0a3.5,3.5 0 1,0 -7,0M1550.64,442.35a3.5,3.5 0 1,0 7,0a3.5,3.5 0 1,0 -7,0M1550.37,440.57a3.5,3.5 0 1,0 7,0a3.5,3.5 0 1,0 -7,0M1550.82,439.89a3.5,3.5 0 1,0 7,0a3.5,3.5 0 1,0 -7,0M1551.84,439.7a3.5,3.5 0 1,0 7,0a3.5,3.5 0 1,0 -7,0M1544.65,439.43a3.5,3.5 0 1,0 7,0a3.5,3.5 0 1,0 -7,0M1543.78,438.93a3.5,3.5 0 1,0 7,0a3.5,3.5 0 1,0 -7,0M1543.77,438.2a3.5,3.5 0 1,0 7,0a3.5,3.5 0 1,0 -7,0M1547.64,438.1a3.5,3.5 0 1,0 7,0a3.5,3.5 0 1,0 -7,0M1543.89,438.05a3.5,3.5 0 1,0 7,0a3.5,3.5 0 1,0 -7,0M1551.71,437.98a3.5,3.5 0 1,0 7,0a3.5,3.5 0 1,0 -7,0M1549.38,437.56a3.5,3.5 0 1,0 7,0a3.5,3.5 0 1,0 -7,0M1543.83,437.47a3.5,3.5 0 1,0 7,0a3.5,3.5 0 1,0 -7,0M1543.84,435.91a3.5,3.5 0 1,0 7,0a3.5,3.5 0 1,0 -7,0M1549.64,434.68a3.5,3.5 0 1,0 7,0a3.5,3.5 0 1,0 -7,0M1551.62,431.62a3.5,3.5 0 1,0 7,0a3.5,3.5 0 1,0 -7,0M1550.73,431.38a3.5,3.5 0 1,0 7,0a3.5,3.5 0 1,0 -7,0M1549.07,431.19a3.5,3.5 0 1,0 7,0a3.5,3.5 0 1,0 -7,0M1553.48,430.97a3.5,3.5 0 1,0 7,0a3.5,3.5 0 1,0 -7,0M1554,430.65a3.5,3.5 0 1,0 7,0a3.5,3.5 0 1,0 -7,0M1548.35,430.55a3.5,3.5 0 1,0 7,0a3.5,3.5 0 1,0 -7,0M1553.75,430.37a3.5,3.5 0 1,0 7,0a3.5,3.5 0 1,0 -7,0M1546.01,430.02a3.5,3.5 0 1,0 7,0a3.5,3.5 0 1,0 -7,0M1547.69,429.46a3.5,3.5 0 1,0 7,0a3.5,3.5 0 1,0 -7,0M1551.31,427.47a3.5,3.5 0 1,0 7,0a3.5,3.5 0 1,0 -7,0M1545.03,427.44a3.5,3.5 0 1,0 7,0a3.5,3.5 0 1,0 -7,0M1554.82,426.53a3.5,3.5 0 1,0 7,0a3.5,3.5 0 1,0 -7,0M1553.49,425.67a3.5,3.5 0 1,0 7,0a3.5,3.5 0 1,0 -7,0M1553.29,425.43a3.5,3.5 0 1,0 7,0a3.5,3.5 0 1,0 -7,0M1548.48,422.96a3.5,3.5 0 1,0 7,0a3.5,3.5 0 1,0 -7,0M1546.82,421.78a3.5,3.5 0 1,0 7,0a3.5,3.5 0 1,0 -7,0M1545.42,421.19a3.5,3.5 0 1,0 7,0a3.5,3.5 0 1,0 -7,0M1547.61,420.56a3.5,3.5 0 1,0 7,0a3.5,3.5 0 1,0 -7,0M1552.36,420.25a3.5,3.5 0 1,0 7,0a3.5,3.5 0 1,0 -7,0M1544.23,419.72a3.5,3.5 0 1,0 7,0a3.5,3.5 0 1,0 -7,0M1545.46,419.59a3.5,3.5 0 1,0 7,0a3.5,3.5 0 1,0 -7,0M1547.16,419.54a3.5,3.5 0 1,0 7,0a3.5,3.5 0 1,0 -7,0M1546.98,418.42a3.5,3.5 0 1,0 7,0a3.5,3.5 0 1,0 -7,0M1550.45,417.13a3.5,3.5 0 1,0 7,0a3.5,3.5 0 1,0 -7,0M1553.1,417.05a3.5,3.5 0 1,0 7,0a3.5,3.5 0 1,0 -7,0M1543.82,416.92a3.5,3.5 0 1,0 7,0a3.5,3.5 0 1,0 -7,0M1544.02,416.59a3.5,3.5 0 1,0 7,0a3.5,3.5 0 1,0 -7,0M1552.34,416.37a3.5,3.5 0 1,0 7,0a3.5,3.5 0 1,0 -7,0M1550.89,416.3a3.5,3.5 0 1,0 7,0a3.5,3.5 0 1,0 -7,0M1546.69,416.11a3.5,3.5 0 1,0 7,0a3.5,3.5 0 1,0 -7,0M1546.11,415.65a3.5,3.5 0 1,0 7,0a3.5,3.5 0 1,0 -7,0M1543.5,415.15a3.5,3.5 0 1,0 7,0a3.5,3.5 0 1,0 -7,0M1548.73,414.82a3.5,3.5 0 1,0 7,0a3.5,3.5 0 1,0 -7,0M1552.99,414.59a3.5,3.5 0 1,0 7,0a3.5,3.5 0 1,0 -7,0M1543.64,414.58a3.5,3.5 0 1,0 7,0a3.5,3.5 0 1,0 -7,0M1546,413.23a3.5,3.5 0 1,0 7,0a3.5,3.5 0 1,0 -7,0M1544.02,412.92a3.5,3.5 0 1,0 7,0a3.5,3.5 0 1,0 -7,0M1549.95,412.83a3.5,3.5 0 1,0 7,0a3.5,3.5 0 1,0 -7,0M1543.69,412.16a3.5,3.5 0 1,0 7,0a3.5,3.5 0 1,0 -7,0M1546.5,412.06a3.5,3.5 0 1,0 7,0a3.5,3.5 0 1,0 -7,0M1546.17,411.87a3.5,3.5 0 1,0 7,0a3.5,3.5 0 1,0 -7,0M1554.12,411.36a3.5,3.5 0 1,0 7,0a3.5,3.5 0 1,0 -7,0M1554.18,411.03a3.5,3.5 0 1,0 7,0a3.5,3.5 0 1,0 -7,0M1547.21,410.64a3.5,3.5 0 1,0 7,0a3.5,3.5 0 1,0 -7,0M1549.46,410.58a3.5,3.5 0 1,0 7,0a3.5,3.5 0 1,0 -7,0M1545.07,410.27a3.5,3.5 0 1,0 7,0a3.5,3.5 0 1,0 -7,0M1547.38,410.26a3.5,3.5 0 1,0 7,0a3.5,3.5 0 1,0 -7,0M1551.8,409.25a3.5,3.5 0 1,0 7,0a3.5,3.5 0 1,0 -7,0M1547.4,409.1a3.5,3.5 0 1,0 7,0a3.5,3.5 0 1,0 -7,0M1544.94,407.54a3.5,3.5 0 1,0 7,0a3.5,3.5 0 1,0 -7,0M1550.91,407.04a3.5,3.5 0 1,0 7,0a3.5,3.5 0 1,0 -7,0M1553.42,406.39a3.5,3.5 0 1,0 7,0a3.5,3.5 0 1,0 -7,0M1553.86,406.32a3.5,3.5 0 1,0 7,0a3.5,3.5 0 1,0 -7,0M1544.94,406.22a3.5,3.5 0 1,0 7,0a3.5,3.5 0 1,0 -7,0M1552.08,405.48a3.5,3.5 0 1,0 7,0a3.5,3.5 0 1,0 -7,0M1554.14,405a3.5,3.5 0 1,0 7,0a3.5,3.5 0 1,0 -7,0M1543.31,404.88a3.5,3.5 0 1,0 7,0a3.5,3.5 0 1,0 -7,0M1550.73,404.19a3.5,3.5 0 1,0 7,0a3.5,3.5 0 1,0 -7,0M1553.59,404.11a3.5,3.5 0 1,0 7,0a3.5,3.5 0 1,0 -7,0M1552.1,403.84a3.5,3.5 0 1,0 7,0a3.5,3.5 0 1,0 -7,0M1553.19,401.38a3.5,3.5 0 1,0 7,0a3.5,3.5 0 1,0 -7,0M1545.84,401.25a3.5,3.5 0 1,0 7,0a3.5,3.5 0 1,0 -7,0M1553.66,400a3.5,3.5 0 1,0 7,0a3.5,3.5 0 1,0 -7,0M1546.11,399.79a3.5,3.5 0 1,0 7,0a3.5,3.5 0 1,0 -7,0M1543.04,398.22a3.5,3.5 0 1,0 7,0a3.5,3.5 0 1,0 -7,0M1544.15,397.81a3.5,3.5 0 1,0 7,0a3.5,3.5 0 1,0 -7,0M1547.48,395.75a3.5,3.5 0 1,0 7,0a3.5,3.5 0 1,0 -7,0M1547.38,395.63a3.5,3.5 0 1,0 7,0a3.5,3.5 0 1,0 -7,0M1546.33,391.39a3.5,3.5 0 1,0 7,0a3.5,3.5 0 1,0 -7,0M1548.62,389.53a3.5,3.5 0 1,0 7,0a3.5,3.5 0 1,0 -7,0M1548.8,387.37a3.5,3.5 0 1,0 7,0a3.5,3.5 0 1,0 -7,0M1544.27,386.53a3.5,3.5 0 1,0 7,0a3.5,3.5 0 1,0 -7,0M1549.61,385.49a3.5,3.5 0 1,0 7,0a3.5,3.5 0 1,0 -7,0M1548.86,384.91a3.5,3.5 0 1,0 7,0a3.5,3.5 0 1,0 -7,0M1547.81,384.59a3.5,3.5 0 1,0 7,0a3.5,3.5 0 1,0 -7,0M1548.77,384.1a3.5,3.5 0 1,0 7,0a3.5,3.5 0 1,0 -7,0M1554.03,382.27a3.5,3.5 0 1,0 7,0a3.5,3.5 0 1,0 -7,0M1553.87,380.86a3.5,3.5 0 1,0 7,0a3.5,3.5 0 1,0 -7,0M1548.06,380.4a3.5,3.5 0 1,0 7,0a3.5,3.5 0 1,0 -7,0M1543.68,380.14a3.5,3.5 0 1,0 7,0a3.5,3.5 0 1,0 -7,0M1545.24,379.23a3.5,3.5 0 1,0 7,0a3.5,3.5 0 1,0 -7,0M1546.14,377.24a3.5,3.5 0 1,0 7,0a3.5,3.5 0 1,0 -7,0M1548.28,376.84a3.5,3.5 0 1,0 7,0a3.5,3.5 0 1,0 -7,0M1545.82,376.69a3.5,3.5 0 1,0 7,0a3.5,3.5 0 1,0 -7,0M1547.01,376.5a3.5,3.5 0 1,0 7,0a3.5,3.5 0 1,0 -7,0M1543.64,375.01a3.5,3.5 0 1,0 7,0a3.5,3.5 0 1,0 -7,0M1549.06,374.52a3.5,3.5 0 1,0 7,0a3.5,3.5 0 1,0 -7,0M1548.76,374.3a3.5,3.5 0 1,0 7,0a3.5,3.5 0 1,0 -7,0M1545.54,372.6a3.5,3.5 0 1,0 7,0a3.5,3.5 0 1,0 -7,0M1550.28,371.59a3.5,3.5 0 1,0 7,0a3.5,3.5 0 1,0 -7,0M1554.95,370.96a3.5,3.5 0 1,0 7,0a3.5,3.5 0 1,0 -7,0M1554.09,370.6a3.5,3.5 0 1,0 7,0a3.5,3.5 0 1,0 -7,0M1547.46,370.19a3.5,3.5 0 1,0 7,0a3.5,3.5 0 1,0 -7,0M1543.67,369.43a3.5,3.5 0 1,0 7,0a3.5,3.5 0 1,0 -7,0M1548.13,369.31a3.5,3.5 0 1,0 7,0a3.5,3.5 0 1,0 -7,0M1543.62,369.24a3.5,3.5 0 1,0 7,0a3.5,3.5 0 1,0 -7,0M1549.21,368.85a3.5,3.5 0 1,0 7,0a3.5,3.5 0 1,0 -7,0M1549.08,368.73a3.5,3.5 0 1,0 7,0a3.5,3.5 0 1,0 -7,0M1546.75,368.57a3.5,3.5 0 1,0 7,0a3.5,3.5 0 1,0 -7,0M1544.17,366.31a3.5,3.5 0 1,0 7,0a3.5,3.5 0 1,0 -7,0M1548.68,362.58a3.5,3.5 0 1,0 7,0a3.5,3.5 0 1,0 -7,0M1548.57,362.38a3.5,3.5 0 1,0 7,0a3.5,3.5 0 1,0 -7,0M1554.3,360.72a3.5,3.5 0 1,0 7,0a3.5,3.5 0 1,0 -7,0M1552.37,360.37a3.5,3.5 0 1,0 7,0a3.5,3.5 0 1,0 -7,0M1544.53,359.31a3.5,3.5 0 1,0 7,0a3.5,3.5 0 1,0 -7,0M1552.63,123.71a3.5,3.5 0 1,0 7,0a3.5,3.5 0 1,0 -7,0M1550.52,137.5a3.5,3.5 0 1,0 7,0a3.5,3.5 0 1,0 -7,0M1544.13,155.12a3.5,3.5 0 1,0 7,0a3.5,3.5 0 1,0 -7,0M1546.32,198.03a3.5,3.5 0 1,0 7,0a3.5,3.5 0 1,0 -7,0M1552.42,221.78a3.5,3.5 0 1,0 7,0a3.5,3.5 0 1,0 -7,0M1543.77,233.27a3.5,3.5 0 1,0 7,0a3.5,3.5 0 1,0 -7,0M1551.39,238.63a3.5,3.5 0 1,0 7,0a3.5,3.5 0 1,0 -7,0M1548.65,245.53a3.5,3.5 0 1,0 7,0a3.5,3.5 0 1,0 -7,0M1546.04,257.79a3.5,3.5 0 1,0 7,0a3.5,3.5 0 1,0 -7,0M1549.06,258.55a3.5,3.5 0 1,0 7,0a3.5,3.5 0 1,0 -7,0M1550.48,260.09a3.5,3.5 0 1,0 7,0a3.5,3.5 0 1,0 -7,0M1552.69,266.21a3.5,3.5 0 1,0 7,0a3.5,3.5 0 1,0 -7,0M1553.78,274.64a3.5,3.5 0 1,0 7,0a3.5,3.5 0 1,0 -7,0M1550.67,279.24a3.5,3.5 0 1,0 7,0a3.5,3.5 0 1,0 -7,0M1551.19,280.77a3.5,3.5 0 1,0 7,0a3.5,3.5 0 1,0 -7,0M1543.34,285.37a3.5,3.5 0 1,0 7,0a3.5,3.5 0 1,0 -7,0M1550.73,300.69a3.5,3.5 0 1,0 7,0a3.5,3.5 0 1,0 -7,0M1552.22,298.39a3.5,3.5 0 1,0 7,0a3.5,3.5 0 1,0 -7,0M1550.92,316.02a3.5,3.5 0 1,0 7,0a3.5,3.5 0 1,0 -7,0M1544.62,325.98a3.5,3.5 0 1,0 7,0a3.5,3.5 0 1,0 -7,0M1547.32,335.17a3.5,3.5 0 1,0 7,0a3.5,3.5 0 1,0 -7,0M1547.6,334.4a3.5,3.5 0 1,0 7,0a3.5,3.5 0 1,0 -7,0M1553.59,348.96a3.5,3.5 0 1,0 7,0a3.5,3.5 0 1,0 -7,0M1546.81,352.03a3.5,3.5 0 1,0 7,0a3.5,3.5 0 1,0 -7,0M1543.45,358.92a3.5,3.5 0 1,0 7,0a3.5,3.5 0 1,0 -7,0M1553.24,360.45a3.5,3.5 0 1,0 7,0a3.5,3.5 0 1,0 -7,0M1550.83,361.99a3.5,3.5 0 1,0 7,0a3.5,3.5 0 1,0 -7,0M1550.76,371.18a3.5,3.5 0 1,0 7,0a3.5,3.5 0 1,0 -7,0M1551.35,430.55a3.5,3.5 0 1,0 7,0a3.5,3.5 0 1,0 -7,0M1543.14,410.64a3.5,3.5 0 1,0 7,0a3.5,3.5 0 1,0 -7,0M1548.45,437.98a3.5,3.5 0 1,0 7,0a3.5,3.5 0 1,0 -7,0M1551.64,457.75a3.5,3.5 0 1,0 7,0a3.5,3.5 0 1,0 -7,0M1548.34,438.05a3.5,3.5 0 1,0 7,0a3.5,3.5 0 1,0 -7,0M1553.15,430.37a3.5,3.5 0 1,0 7,0a3.5,3.5 0 1,0 -7,0M1546.37,419.72a3.5,3.5 0 1,0 7,0a3.5,3.5 0 1,0 -7,0M1554.66,477.81a3.5,3.5 0 1,0 7,0a3.5,3.5 0 1,0 -7,0M1553.02,425.43a3.5,3.5 0 1,0 7,0a3.5,3.5 0 1,0 -7,0M1546.6,416.37a3.5,3.5 0 1,0 7,0a3.5,3.5 0 1,0 -7,0M1546.72,463.05a3.5,3.5 0 1,0 7,0a3.5,3.5 0 1,0 -7,0" fill="#2E89B0"/>
<path d="M1666.24,463.5a3.5,3.5 0 1,0 7,0a3.5,3.5 0 1,0 -7,0M1664.64,445.35a3.5,3.5 0 1,0 7,0a3.5,3.5 0 1,0 -7,0M1664.15,460.77a3.5,3.5 0 1,0 7,0a3.5,3.5 0 1,0 -7,0M1665.83,445.78a3.5,3.5 0 1,0 7,0a3.5,3.5 0 1,0 -7,0M1668.17,441.85a3.5,3.5 0 1,0 7,0a3.5,3.5 0 1,0 -7,0M1669.66,471.66a3.5,3.5 0 1,0 7,0a3.5,3.5 0 1,0 -7,0M1664.64,456.14a3.5,3.5 0 1,0 7,0a3.5,3.5 0 1,0 -7,0M1668.33,454.7a3.5,3.5 0 1,0 7,0a3.5,3.5 0 1,0 -7,0M1674.09,427.06a3.5,3.5 0 1,0 7,0a3.5,3.5 0 1,0 -7,0M1672.76,453.03a3.5,3.5 0 1,0 7,0a3.5,3.5 0 1,0 -7,0M1671.92,450.81a3.5,3.5 0 1,0 7,0a3.5,3.5 0 1,0 -7,0M1666.4,436.33a3.5,3.5 0 1,0 7,0a3.5,3.5 0 1,0 -7,0M1674.72,422.92a3.5,3.5 0 1,0 7,0a3.5,3.5 0 1,0 -7,0M1666.16,436.27a3.5,3.5 0 1,0 7,0a3.5,3.5 0 1,0 -7,0M1669.5,419.59a3.5,3.5 0 1,0 7,0a3.5,3.5 0 1,0 -7,0M1667.57,442.6a3.5,3.5 0 1,0 7,0a3.5,3.5 0 1,0 -7,0M1673.26,445.5a3.5,3.5 0 1,0 7,0a3.5,3.5 0 1,0 -7,0M1667.1,429.75a3.5,3.5 0 1,0 7,0a3.5,3.5 0 1,0 -7,0M1675.55,441.69a3.5,3.5 0 1,0 7,0a3.5,3.5 0 1,0 -7,0M1672.92,454.87a3.5,3.5 0 1,0 7,0a3.5,3.5 0 1,0 -7,0M1664.23,436.02a3.5,3.5 0 1,0 7,0a3.5,3.5 0 1,0 -7,0M1665.98,464.16a3.5,3.5 0 1,0 7,0a3.5,3.5 0 1,0 -7,0M1668.81,429.78a3.5,3.5 0 1,0 7,0a3.5,3.5 0 1,0 -7,0M1672.36,415.42a3.5,3.5 0 1,0 7,0a3.5,3.5 0 1,0 -7,0M1670.67,449.07a3.5,3.5 0 1,0 7,0a3.5,3.5 0 1,0 -7,0M1673.09,457.65a3.5,3.5 0 1,0 7,0a3.5,3.5 0 1,0 -7,0M1666.71,413.24a3.5,3.5 0 1,0 7,0a3.5,3.5 0 1,0 -7,0M1673.89,443.2a3.5,3.5 0 1,0 7,0a3.5,3.5 0 1,0 -7,0M1665.71,423.59a3.5,3.5 0 1,0 7,0a3.5,3.5 0 1,0 -7,0M1673.59,427.57a3.5,3.5 0 1,0 7,0a3.5,3.5 0 1,0 -7,0M1671.13,403.84a3.5,3.5 0 1,0 7,0a3.5,3.5 0 1,0 -7,0M1669.55,403.92a3.5,3.5 0 1,0 7,0a3.5,3.5 0 1,0 -7,0M1670.42,455.12a3.5,3.5 0 1,0 7,0a3.5,3.5 0 1,0 -7,0M1668.49,406.55a3.5,3.5 0 1,0 7,0a3.5,3.5 0 1,0 -7,0M1666.98,442.56a3.5,3.5 0 1,0 7,0a3.5,3.5 0 1,0 -7,0M1670.6,460.65a3.5,3.5 0 1,0 7,0a3.5,3.5 0 1,0 -7,0M1667.14,406.37a3.5,3.5 0 1,0 7,0a3.5,3.5 0 1,0 -7,0M1668.84,427.49a3.5,3.5 0 1,0 7,0a3.5,3.5 0 1,0 -7,0M1674.77,420.33a3.5,3.5 0 1,0 7,0a3.5,3.5 0 1,0 -7,0M1675.83,457.94a3.5,3.5 0 1,0 7,0a3.5,3.5 0 1,0 -7,0M1665.47,442.81a3.5,3.5 0 1,0 7,0a3.5,3.5 0 1,0 -7,0M1667.7,399.61a3.5,3.5 0 1,0 7,0a3.5,3.5 0 1,0 -7,0M1672.89,471.97a3.5,3.5 0 1,0 7,0a3.5,3.5 0 1,0 -7,0M1665.86,463.42a3.5,3.5 0 1,0 7,0a3.5,3.5 0 1,0 -7,0M1668.92,394.11a3.5,3.5 0 1,0 7,0a3.5,3.5 0 1,0 -7,0M1664.81,453.71a3.5,3.5 0 1,0 7,0a3.5,3.5 0 1,0 -7,0M1673.68,392.15a3.5,3.5 0 1,0 7,0a3.5,3.5 0 1,0 -7,0M1673.33,440.52a3.5,3.5 0 1,0 7,0a3.5,3.5 0 1,0 -7,0M1666.89,391.41a3.5,3.5 0 1,0 7,0a3.5,3.5 0 1,0 -7,0M1670.69,384.11a3.5,3.5 0 1,0 7,0a3.5,3.5 0 1,0 -7,0M1666.53,411.33a3.5,3.5 0 1,0 7,0a3.5,3.5 0 1,0 -7,0M1665.66,406.25a3.5,3.5 0 1,0 7,0a3.5,3.5 0 1,0 -7,0M1672.78,393.98a3.5,3.5 0 1,0 7,0a3.5,3.5 0 1,0 -7,0M1675.46,400.71a3.5,3.5 0 1,0 7,0a3.5,3.5 0 1,0 -7,0M1672.39,364.8a3.5,3.5 0 1,0 7,0a3.5,3.5 0 1,0 -7,0M1664.99,471.86a3.5,3.5 0 1,0 7,0a3.5,3.5 0 1,0 -7,0M1669.08,454.06a3.5,3.5 0 1,0 7,0a3.5,3.5 0 1,0 -7,0M1673.69,408.13a3.5,3.5 0 1,0 7,0a3.5,3.5 0 1,0 -7,0M1675.46,381.2a3.5,3.5 0 1,0 7,0a3.5,3.5 0 1,0 -7,0M1674.7,437.3a3.5,3.5 0 1,0 7,0a3.5,3.5 0 1,0 -7,0M1664.7,412.65a3.5,3.5 0 1,0 7,0a3.5,3.5 0 1,0 -7,0M1672.89,424.56a3.5,3.5 0 1,0 7,0a3.5,3.5 0 1,0 -7,0M1665.95,448.78a3.5,3.5 0 1,0 7,0a3.5,3.5 0 1,0 -7,0M1665.51,402.44a3.5,3.5 0 1,0 7,0a3.5,3.5 0 1,0 -7,0M1664.73,360.37a3.5,3.5 0 1,0 7,0a3.5,3.5 0 1,0 -7,0M1668.37,370.07a3.5,3.5 0 1,0 7,0a3.5,3.5 0 1,0 -7,0M1667.45,432.86a3.5,3.5 0 1,0 7,0a3.5,3.5 0 1,0 -7,0M1671.81,420.09a3.5,3.5 0 1,0 7,0a3.5,3.5 0 1,0 -7,0M1672.32,384.68a3.5,3.5 0 1,0 7,0a3.5,3.5 0 1,0 -7,0M1670.85,361.05a3.5,3.5 0 1,0 7,0a3.5,3.5 0 1,0 -7,0M1669.21,396.66a3.5,3.5 0 1,0 7,0a3.5,3.5 0 1,0 -7,0M1669.85,399.06a3.5,3.5 0 1,0 7,0a3.5,3.5 0 1,0 -7,0M1670.21,431.63a3.5,3.5 0 1,0 7,0a3.5,3.5 0 1,0 -7,0M1672.01,424.87a3.5,3.5 0 1,0 7,0a3.5,3.5 0 1,0 -7,0M1668.28,374.45a3.5,3.5 0 1,0 7,0a3.5,3.5 0 1,0 -7,0M1670.11,389.45a3.5,3.5 0 1,0 7,0a3.5,3.5 0 1,0 -7,0M1670.55,459.88a3.5,3.5 0 1,0 7,0a3.5,3.5 0 1,0 -7,0M1669.08,378.21a3.5,3.5 0 1,0 7,0a3.5,3.5 0 1,0 -7,0M1670.96,390.37a3.5,3.5 0 1,0 7,0a3.5,3.5 0 1,0 -7,0M1666.89,407.02a3.5,3.5 0 1,0 7,0a3.5,3.5 0 1,0 -7,0M1668.43,428.44a3.5,3.5 0 1,0 7,0a3.5,3.5 0 1,0 -7,0M1674.16,459.31a3.5,3.5 0 1,0 7,0a3.5,3.5 0 1,0 -7,0M1675.33,443.87a3.5,3.5 0 1,0 7,0a3.5,3.5 0 1,0 -7,0M1671.57,417.54a3.5,3.5 0 1,0 7,0a3.5,3.5 0 1,0 -7,0M1668.79,384.7a3.5,3.5 0 1,0 7,0a3.5,3.5 0 1,0 -7,0M1675.33,442.6a3.5,3.5 0 1,0 7,0a3.5,3.5 0 1,0 -7,0M1666.94,452a3.5,3.5 0 1,0 7,0a3.5,3.5 0 1,0 -7,0M1673.71,429.26a3.5,3.5 0 1,0 7,0a3.5,3.5 0 1,0 -7,0M1672.26,447.69a3.5,3.5 0 1,0 7,0a3.5,3.5 0 1,0 -7,0M1664.53,403.1a3.5,3.5 0 1,0 7,0a3.5,3.5 0 1,0 -7,0M1672.04,454.16a3.5,3.5 0 1,0 7,0a3.5,3.5 0 1,0 -7,0M1666.4,466.08a3.5,3.5 0 1,0 7,0a3.5,3.5 0 1,0 -7,0M1667.79,411.71a3.5,3.5 0 1,0 7,0a3.5,3.5 0 1,0 -7,0M1674.89,404.04a3.5,3.5 0 1,0 7,0a3.5,3.5 0 1,0 -7,0M1669.19,406.08a3.5,3.5 0 1,0 7,0a3.5,3.5 0 1,0 -7,0M1667.93,446.11a3.5,3.5 0 1,0 7,0a3.5,3.5 0 1,0 -7,0M1672.98,446.07a3.5,3.5 0 1,0 7,0a3.5,3.5 0 1,0 -7,0M1675.32,396.27a3.5,3.5 0 1,0 7,0a3.5,3.5 0 1,0 -7,0M1674.53,446.6a3.5,3.5 0 1,0 7,0a3.5,3.5 0 1,0 -7,0M1669.44,413.57a3.5,3.5 0 1,0 7,0a3.5,3.5 0 1,0 -7,0M1667.74,445.13a3.5,3.5 0 1,0 7,0a3.5,3.5 0 1,0 -7,0M1675.5,403.5a3.5,3.5 0 1,0 7,0a3.5,3.5 0 1,0 -7,0M1675.59,470.68a3.5,3.5 0 1,0 7,0a3.5,3.5 0 1,0 -7,0M1664.92,420.19a3.5,3.5 0 1,0 7,0a3.5,3.5 0 1,0 -7,0M1675.5,401.34a3.5,3.5 0 1,0 7,0a3.5,3.5 0 1,0 -7,0M1670.36,359.02a3.5,3.5 0 1,0 7,0a3.5,3.5 0 1,0 -7,0M1668.66,406.53a3.5,3.5 0 1,0 7,0a3.5,3.5 0 1,0 -7,0M1665.46,412.63a3.5,3.5 0 1,0 7,0a3.5,3.5 0 1,0 -7,0M1672.82,426.06a3.5,3.5 0 1,0 7,0a3.5,3.5 0 1,0 -7,0M1668.3,405.86a3.5,3.5 0 1,0 7,0a3.5,3.5 0 1,0 -7,0M1672.35,433.26a3.5,3.5 0 1,0 7,0a3.5,3.5 0 1,0 -7,0M1668.41,465.06a3.5,3.5 0 1,0 7,0a3.5,3.5 0 1,0 -7,0M1669.78,411.58a3.5,3.5 0 1,0 7,0a3.5,3.5 0 1,0 -7,0M1668.23,439.86a3.5,3.5 0 1,0 7,0a3.5,3.5 0 1,0 -7,0M1675.82,445.28a3.5,3.5 0 1,0 7,0a3.5,3.5 0 1,0 -7,0M1671.53,424.86a3.5,3.5 0 1,0 7,0a3.5,3.5 0 1,0 -7,0M1674.4,468.04a3.5,3.5 0 1,0 7,0a3.5,3.5 0 1,0 -7,0M1665.21,431.88a3.5,3.5 0 1,0 7,0a3.5,3.5 0 1,0 -7,0M1669.97,463.96a3.5,3.5 0 1,0 7,0a3.5,3.5 0 1,0 -7,0M1674.46,358.23a3.5,3.5 0 1,0 7,0a3.5,3.5 0 1,0 -7,0M1671.24,405.5a3.5,3.5 0 1,0 7,0a3.5,3.5 0 1,0 -7,0M1671.61,446.34a3.5,3.5 0 1,0 7,0a3.5,3.5 0 1,0 -7,0M1669.48,400.17a3.5,3.5 0 1,0 7,0a3.5,3.5 0 1,0 -7,0M1669.3,430.96a3.5,3.5 0 1,0 7,0a3.5,3.5 0 1,0 -7,0M1667.83,446.4a3.5,3.5 0 1,0 7,0a3.5,3.5 0 1,0 -7,0M1670.37,372.9a3.5,3.5 0 1,0 7,0a3.5,3.5 0 1,0 -7,0M1667.99,401.91a3.5,3.5 0 1,0 7,0a3.5,3.5 0 1,0 -7,0M1672.95,447.13a3.5,3.5 0 1,0 7,0a3.5,3.5 0 1,0 -7,0M1667.62,440.05a3.5,3.5 0 1,0 7,0a3.5,3.5 0 1,0 -7,0M1673.59,403.1a3.5,3.5 0 1,0 7,0a3.5,3.5 0 1,0 -7,0M1672.17,424.23a3.5,3.5 0 1,0 7,0a3.5,3.5 0 1,0 -7,0M1671.97,362.74a3.5,3.5 0 1,0 7,0a3.5,3.5 0 1,0 -7,0M1673.22,405.42a3.5,3.5 0 1,0 7,0a3.5,3.5 0 1,0 -7,0M1668.58,418.35a3.5,3.5 0 1,0 7,0a3.5,3.5 0 1,0 -7,0M1665.26,395.42a3.5,3.5 0 1,0 7,0a3.5,3.5 0 1,0 -7,0M1671.4,401.76a3.5,3.5 0 1,0 7,0a3.5,3.5 0 1,0 -7,0M1667.36,424.06a3.5,3.5 0 1,0 7,0a3.5,3.5 0 1,0 -7,0M1670.45,403.86a3.5,3.5 0 1,0 7,0a3.5,3.5 0 1,0 -7,0M1666.3,432.35a3.5,3.5 0 1,0 7,0a3.5,3.5 0 1,0 -7,0M1666.83,402.88a3.5,3.5 0 1,0 7,0a3.5,3.5 0 1,0 -7,0M1670.96,418.91a3.5,3.5 0 1,0 7,0a3.5,3.5 0 1,0 -7,0M1673.08,363.87a3.5,3.5 0 1,0 7,0a3.5,3.5 0 1,0 -7,0M1668.28,442.58a3.5,3.5 0 1,0 7,0a3.5,3.5 0 1,0 -7,0M1674.05,386.11a3.5,3.5 0 1,0 7,0a3.5,3.5 0 1,0 -7,0M1671.63,360.34a3.5,3.5 0 1,0 7,0a3.5,3.5 0 1,0 -7,0M1665.81,426.47a3.5,3.5 0 1,0 7,0a3.5,3.5 0 1,0 -7,0M1664.63,388.1a3.5,3.5 0 1,0 7,0a3.5,3.5 0 1,0 -7,0M1669.31,361.41a3.5,3.5 0 1,0 7,0a3.5,3.5 0 1,0 -7,0M1671.84,432.59a3.5,3.5 0 1,0 7,0a3.5,3.5 0 1,0 -7,0M1673.05,425.65a3.5,3.5 0 1,0 7,0a3.5,3.5 0 1,0 -7,0M1664.4,414.96a3.5,3.5 0 1,0 7,0a3.5,3.5 0 1,0 -7,0M1674.62,361.66a3.5,3.5 0 1,0 7,0a3.5,3.5 0 1,0 -7,0M1671,395.18a3.5,3.5 0 1,0 7,0a3.5,3.5 0 1,0 -7,0M1668.8,411.76a3.5,3.5 0 1,0 7,0a3.5,3.5 0 1,0 -7,0M1670.58,425.62a3.5,3.5 0 1,0 7,0a3.5,3.5 0 1,0 -7,0M1664.2,395.81a3.5,3.5 0 1,0 7,0a3.5,3.5 0 1,0 -7,0M1673.43,378.99a3.5,3.5 0 1,0 7,0a3.5,3.5 0 1,0 -7,0M1673.9,407.91a3.5,3.5 0 1,0 7,0a3.5,3.5 0 1,0 -7,0M1664.88,395.63a3.5,3.5 0 1,0 7,0a3.5,3.5 0 1,0 -7,0M1666.84,392.89a3.5,3.5 0 1,0 7,0a3.5,3.5 0 1,0 -7,0M1665.93,382.2a3.5,3.5 0 1,0 7,0a3.5,3.5 0 1,0 -7,0M1665.94,400.43a3.5,3.5 0 1,0 7,0a3.5,3.5 0 1,0 -7,0M1674.66,368.63a3.5,3.5 0 1,0 7,0a3.5,3.5 0 1,0 -7,0M1673.27,376.95a3.5,3.5 0 1,0 7,0a3.5,3.5 0 1,0 -7,0M1666.69,361.16a3.5,3.5 0 1,0 7,0a3.5,3.5 0 1,0 -7,0M1664.14,363.24a3.5,3.5 0 1,0 7,0a3.5,3.5 0 1,0 -7,0M1664.84,364.05a3.5,3.5 0 1,0 7,0a3.5,3.5 0 1,0 -7,0M1664.91,390.25a3.5,3.5 0 1,0 7,0a3.5,3.5 0 1,0 -7,0M1666.23,397.97a3.5,3.5 0 1,0 7,0a3.5,3.5 0 1,0 -7,0M1669.49,384.85a3.5,3.5 0 1,0 7,0a3.5,3.5 0 1,0 -7,0M1664.73,387.87a3.5,3.5 0 1,0 7,0a3.5,3.5 0 1,0 -7,0M1668.04,368.42a3.5,3.5 0 1,0 7,0a3.5,3.5 0 1,0 -7,0M1667.35,393.41a3.5,3.5 0 1,0 7,0a3.5,3.5 0 1,0 -7,0M1672.82,365.31a3.5,3.5 0 1,0 7,0a3.5,3.5 0 1,0 -7,0M1674.35,379.37a3.5,3.5 0 1,0 7,0a3.5,3.5 0 1,0 -7,0M1667.85,454.64a3.5,3.5 0 1,0 7,0a3.5,3.5 0 1,0 -7,0M1674.98,447.52a3.5,3.5 0 1,0 7,0a3.5,3.5 0 1,0 -7,0M1667.02,384.53a3.5,3.5 0 1,0 7,0a3.5,3.5 0 1,0 -7,0M1667.04,412.9a3.5,3.5 0 1,0 7,0a3.5,3.5 0 1,0 -7,0M1664.61,349.02a3.5,3.5 0 1,0 7,0a3.5,3.5 0 1,0 -7,0M1664.48,422.71a3.5,3.5 0 1,0 7,0a3.5,3.5 0 1,0 -7,0M1675.53,434.15a3.5,3.5 0 1,0 7,0a3.5,3.5 0 1,0 -7,0M1665.43,440.92a3.5,3.5 0 1,0 7,0a3.5,3.5 0 1,0 -7,0M1674.27,404.61a3.5,3.5 0 1,0 7,0a3.5,3.5 0 1,0 -7,0M1667.79,433.87a3.5,3.5 0 1,0 7,0a3.5,3.5 0 1,0 -7,0M1669.87,456.76a3.5,3.5 0 1,0 7,0a3.5,3.5 0 1,0 -7,0M1665.54,428.65a3.5,3.5 0 1,0 7,0a3.5,3.5 0 1,0 -7,0M1671.11,432.84a3.5,3.5 0 1,0 7,0a3.5,3.5 0 1,0 -7,0M1675.72,378.08a3.5,3.5 0 1,0 7,0a3.5,3.5 0 1,0 -7,0M1673.51,404.82a3.5,3.5 0 1,0 7,0a3.5,3.5 0 1,0 -7,0M1672.87,473.07a3.5,3.5 0 1,0 7,0a3.5,3.5 0 1,0 -7,0M1673.92,462.86a3.5,3.5 0 1,0 7,0a3.5,3.5 0 1,0 -7,0M1668.92,347.03a3.5,3.5 0 1,0 7,0a3.5,3.5 0 1,0 -7,0M1667.39,427.74a3.5,3.5 0 1,0 7,0a3.5,3.5 0 1,0 -7,0M1664.05,383.39a3.5,3.5 0 1,0 7,0a3.5,3.5 0 1,0 -7,0M1667.59,376.15a3.5,3.5 0 1,0 7,0a3.5,3.5 0 1,0 -7,0M1664.72,413.33a3.5,3.5 0 1,0 7,0a3.5,3.5 0 1,0 -7,0M1669.52,427.39a3.5,3.5 0 1,0 7,0a3.5,3.5 0 1,0 -7,0M1664.64,437.5a3.5,3.5 0 1,0 7,0a3.5,3.5 0 1,0 -7,0M1665.68,444.25a3.5,3.5 0 1,0 7,0a3.5,3.5 0 1,0 -7,0M1673.38,422.92a3.5,3.5 0 1,0 7,0a3.5,3.5 0 1,0 -7,0M1669.28,391.14a3.5,3.5 0 1,0 7,0a3.5,3.5 0 1,0 -7,0M1669.47,459.16a3.5,3.5 0 1,0 7,0a3.5,3.5 0 1,0 -7,0M1673.63,246.29a3.5,3.5 0 1,0 7,0a3.5,3.5 0 1,0 -7,0M1671.32,257.02a3.5,3.5 0 1,0 7,0a3.5,3.5 0 1,0 -7,0M1673.75,258.55a3.5,3.5 0 1,0 7,0a3.5,3.5 0 1,0 -7,0M1669.51,266.21a3.5,3.5 0 1,0 7,0a3.5,3.5 0 1,0 -7,0M1669.08,279.24a3.5,3.5 0 1,0 7,0a3.5,3.5 0 1,0 -7,0M1664.01,280.77a3.5,3.5 0 1,0 7,0a3.5,3.5 0 1,0 -7,0M1675.05,309.89a3.5,3.5 0 1,0 7,0a3.5,3.5 0 1,0 -7,0M1666.44,312.95a3.5,3.5 0 1,0 7,0a3.5,3.5 0 1,0 -7,0M1673.93,316.78a3.5,3.5 0 1,0 7,0a3.5,3.5 0 1,0 -7,0M1669.34,322.14a3.5,3.5 0 1,0 7,0a3.5,3.5 0 1,0 -7,0M1672.86,338.23a3.5,3.5 0 1,0 7,0a3.5,3.5 0 1,0 -7,0M1669.87,354.28a3.5,3.5 0 1,0 7,0a3.5,3.5 0 1,0 -7,0M1670.11,347.67a3.5,3.5 0 1,0 7,0a3.5,3.5 0 1,0 -7,0M1667.83,347.28a3.5,3.5 0 1,0 7,0a3.5,3.5 0 1,0 -7,0M1664.53,345.35a3.5,3.5 0 1,0 7,0a3.5,3.5 0 1,0 -7,0M1666.6,344.67a3.5,3.5 0 1,0 7,0a3.5,3.5 0 1,0 -7,0M1664.13,344.59a3.5,3.5 0 1,0 7,0a3.5,3.5 0 1,0 -7,0M1670,344.15a3.5,3.5 0 1,0 7,0a3.5,3.5 0 1,0 -7,0M1666.39,342.95a3.5,3.5 0 1,0 7,0a3.5,3.5 0 1,0 -7,0M1672.46,342.92a3.5,3.5 0 1,0 7,0a3.5,3.5 0 1,0 -7,0M1669.3,342.66a3.5,3.5 0 1,0 7,0a3.5,3.5 0 1,0 -7,0" fill="#E5A766"/>
<line x1="1527.9" y1="392.5" x2="1576.9" y2="392.5" stroke="#000" stroke-width="1.5"/>
<line x1="1527.9" y1="397.4" x2="1576.9" y2="397.4" stroke="#000" stroke-width="3"/>
<line x1="1527.9" y1="403.2" x2="1576.9" y2="403.2" stroke="#000" stroke-width="1.5"/>
<line x1="1649.2" y1="409.5" x2="1698" y2="409.5" stroke="#000" stroke-width="1.5"/>
<line x1="1649.2" y1="413.7" x2="1698" y2="413.7" stroke="#000" stroke-width="3"/>
<line x1="1649.2" y1="418.2" x2="1698" y2="418.2" stroke="#000" stroke-width="1.5"/>
<rect x="1492" y="33.3" width="241.8" height="459.7" fill="none" stroke="#262626" stroke-width="2.2"/>
<line x1="1492" y1="493" x2="1498" y2="493" stroke="#262626" stroke-width="2"/>
<line x1="1727.8" y1="493" x2="1733.8" y2="493" stroke="#262626" stroke-width="2"/>
<line x1="1492" y1="416.38" x2="1498" y2="416.38" stroke="#262626" stroke-width="2"/>
<line x1="1727.8" y1="416.38" x2="1733.8" y2="416.38" stroke="#262626" stroke-width="2"/>
<line x1="1492" y1="339.77" x2="1498" y2="339.77" stroke="#262626" stroke-width="2"/>
<line x1="1727.8" y1="339.77" x2="1733.8" y2="339.77" stroke="#262626" stroke-width="2"/>
<line x1="1492" y1="263.15" x2="1498" y2="263.15" stroke="#262626" stroke-width="2"/>
<line x1="1727.8" y1="263.15" x2="1733.8" y2="263.15" stroke="#262626" stroke-width="2"/>
<line x1="1492" y1="186.53" x2="1498" y2="186.53" stroke="#262626" stroke-width="2"/>
<line x1="1727.8" y1="186.53" x2="1733.8" y2="186.53" stroke="#262626" stroke-width="2"/>
<line x1="1492" y1="109.92" x2="1498" y2="109.92" stroke="#262626" stroke-width="2"/>
<line x1="1727.8" y1="109.92" x2="1733.8" y2="109.92" stroke="#262626" stroke-width="2"/>
<line x1="1492" y1="33.3" x2="1498" y2="33.3" stroke="#262626" stroke-width="2"/>
<line x1="1727.8" y1="33.3" x2="1733.8" y2="33.3" stroke="#262626" stroke-width="2"/>
<line x1="1552.45" y1="493" x2="1552.45" y2="487" stroke="#262626" stroke-width="2"/>
<line x1="1552.45" y1="33.3" x2="1552.45" y2="39.3" stroke="#262626" stroke-width="2"/>
<line x1="1673.35" y1="493" x2="1673.35" y2="487" stroke="#262626" stroke-width="2"/>
<line x1="1673.35" y1="33.3" x2="1673.35" y2="39.3" stroke="#262626" stroke-width="2"/>
<text transform="translate(1481,501.3) scale(1.03,1)" font-size="23.5" text-anchor="end" fill="#262626">0</text>
<text transform="translate(1481,348.07) scale(1.03,1)" font-size="23.5" text-anchor="end" fill="#262626">0.2</text>
<text transform="translate(1481,194.83) scale(1.03,1)" font-size="23.5" text-anchor="end" fill="#262626">0.4</text>
<text transform="translate(1481,41.6) scale(1.03,1)" font-size="23.5" text-anchor="end" fill="#262626">0.6</text>
<text transform="translate(1556.45,521) scale(1.03,1)" font-size="23" text-anchor="middle" fill="#262626">Pref</text>
<text transform="translate(1679.85,521) scale(1.03,1)" font-size="23" text-anchor="middle" fill="#262626">NonPref</text>
<text transform="translate(1608.4,553.5) scale(1.03,1)" font-size="24.2" text-anchor="middle" fill="#262626">Trial type</text>
<text x="1611.8" y="21.4" font-size="29.3" text-anchor="middle" fill="#000">High Power</text>
<path d="M1552,73.9V64.2H1671.5V73.9" fill="none" stroke="#000" stroke-width="2.2"/>
<text transform="translate(1614,65.5) scale(1.03,1)" font-size="27.5" text-anchor="middle" fill="#000">**</text>
<path d="M1895.6,493.29L1956.5,474.32M1895.6,489.6L1956.5,474.1M1895.6,488.68L1956.5,462.64M1895.6,488.48L1956.5,466.96M1895.6,488.35L1956.5,460.24M1895.6,488.09L1956.5,460.64M1895.6,487.04L1956.5,460.24M1895.6,486.51L1956.5,451.51M1895.6,486.37L1956.5,453.92M1895.6,485.95L1956.5,471.99M1895.6,484.77L1956.5,451.85M1895.6,484.43L1956.5,458.25M1895.6,484.12L1956.5,469.61M1895.6,483.37L1956.5,471.07M1895.6,482.73L1956.5,448.18M1895.6,481.35L1956.5,452.05M1895.6,480.85L1956.5,468.98M1895.6,480.48L1956.5,476.01M1895.6,478.8L1956.5,469.53M1895.6,477.25L1956.5,459.77M1895.6,477.11L1956.5,464.68M1895.6,476.9L1956.5,465.32M1895.6,476.6L1956.5,450.78M1895.6,476.31L1956.5,438.61M1895.6,476.1L1956.5,437.36M1895.6,475.57L1956.5,441.78M1895.6,474.93L1956.5,459.66M1895.6,474.85L1956.5,438.82M1895.6,472.75L1956.5,458.66M1895.6,472.27L1956.5,444.86M1895.6,471.87L1956.5,425M1895.6,471.12L1956.5,442.9M1895.6,470.76L1956.5,442.49M1895.6,470.76L1956.5,463.67M1895.6,470.64L1956.5,424.66M1895.6,470.39L1956.5,446.23M1895.6,469.27L1956.5,438.32M1895.6,467.76L1956.5,471.32M1895.6,467.39L1956.5,464.94M1895.6,467.15L1956.5,446.4M1895.6,466.21L1956.5,417.08M1895.6,465.83L1956.5,427.84M1895.6,465.37L1956.5,466.45M1895.6,465.09L1956.5,445.43M1895.6,464.84L1956.5,479.17M1895.6,464.34L1956.5,439.75M1895.6,463.92L1956.5,425.13M1895.6,463.46L1956.5,438.59M1895.6,463.1L1956.5,469.25M1895.6,461.52L1956.5,405.44M1895.6,460.96L1956.5,424.44M1895.6,460.4L1956.5,459.18M1895.6,460.08L1956.5,461.67M1895.6,459.79L1956.5,468.19M1895.6,459.56L1956.5,439.05M1895.6,458.97L1956.5,410.92M1895.6,458.9L1956.5,429.54M1895.6,458.51L1956.5,473.7M1895.6,457.64L1956.5,480.18M1895.6,457.34L1956.5,386.37M1895.6,457.02L1956.5,454.7M1895.6,457.01L1956.5,436.82M1895.6,455.58L1956.5,451.75M1895.6,455.43L1956.5,465.67M1895.6,454.7L1956.5,444.11M1895.6,454.36L1956.5,371.57M1895.6,454.22L1956.5,391.53M1895.6,454.12L1956.5,430.09M1895.6,452.99L1956.5,373.51M1895.6,451.66L1956.5,371.47M1895.6,451.17L1956.5,442.87M1895.6,451.08L1956.5,424.6M1895.6,451.03L1956.5,440.33M1895.6,450.2L1956.5,383.01M1895.6,450.05L1956.5,416.77M1895.6,449.77L1956.5,427.08M1895.6,449.39L1956.5,455.67M1895.6,448.26L1956.5,417.8M1895.6,447.83L1956.5,392.16M1895.6,447.8L1956.5,467.04M1895.6,446.2L1956.5,378.9M1895.6,445.01L1956.5,377.21M1895.6,444.55L1956.5,478.76M1895.6,444.39L1956.5,407.44M1895.6,443.72L1956.5,390.92M1895.6,442.64L1956.5,477.33M1895.6,442.54L1956.5,452.76M1895.6,442.41L1956.5,464.54M1895.6,442.23L1956.5,459.49M1895.6,441.01L1956.5,416.69M1895.6,439.88L1956.5,434M1895.6,439.75L1956.5,467.57M1895.6,439.6L1956.5,422.3M1895.6,438.63L1956.5,472.51M1895.6,437.83L1956.5,371.48M1895.6,436.95L1956.5,441.57M1895.6,436.91L1956.5,476.16M1895.6,436.65L1956.5,424.84M1895.6,436.64L1956.5,458.99M1895.6,436.58L1956.5,409.92M1895.6,434.89L1956.5,400.05M1895.6,434.78L1956.5,476.37M1895.6,434.76L1956.5,451.6M1895.6,434.56L1956.5,404.23M1895.6,434.29L1956.5,422.63M1895.6,433.98L1956.5,372.1M1895.6,431.48L1956.5,406.52M1895.6,431.42L1956.5,381.02M1895.6,431.2L1956.5,431.12M1895.6,431.17L1956.5,395.56M1895.6,429.77L1956.5,434.91M1895.6,429.37L1956.5,421M1895.6,427.66L1956.5,436.71M1895.6,426.76L1956.5,383M1895.6,426.63L1956.5,408.49M1895.6,425.67L1956.5,411.02M1895.6,425.34L1956.5,449.79M1895.6,425.34L1956.5,403.15M1895.6,423.46L1956.5,426.98M1895.6,422.69L1956.5,439.45M1895.6,421.79L1956.5,403.01M1895.6,421.48L1956.5,373.92M1895.6,420.22L1956.5,461.61M1895.6,419.98L1956.5,419.38M1895.6,418.56L1956.5,418.46M1895.6,418.28L1956.5,424.69M1895.6,417.17L1956.5,426.07M1895.6,416.65L1956.5,449.57M1895.6,416.29L1956.5,382.5M1895.6,416.17L1956.5,478.82M1895.6,416.12L1956.5,449.56M1895.6,415.49L1956.5,394.97M1895.6,415.46L1956.5,446.41M1895.6,415.43L1956.5,423.17M1895.6,415.05L1956.5,425.87M1895.6,412.72L1956.5,404.87M1895.6,411.02L1956.5,452.4M1895.6,410.87L1956.5,444.5M1895.6,407.84L1956.5,435.04M1895.6,407.02L1956.5,443.84M1895.6,406.92L1956.5,457.65M1895.6,404.47L1956.5,429.21M1895.6,404.04L1956.5,438.7M1895.6,403.93L1956.5,432.39M1895.6,403.35L1956.5,420.76M1895.6,401.52L1956.5,402.96M1895.6,401.2L1956.5,409.86M1895.6,400.71L1956.5,416.33M1895.6,398.92L1956.5,436.65M1895.6,398.48L1956.5,412.94M1895.6,398.38L1956.5,446.21M1895.6,397.18L1956.5,438.24M1895.6,397.11L1956.5,431.48M1895.6,395.14L1956.5,439.66M1895.6,394.84L1956.5,450.53M1895.6,394.43L1956.5,414.95M1895.6,392.59L1956.5,407.55M1895.6,391.39L1956.5,375.35M1895.6,390.86L1956.5,434.81M1895.6,390.51L1956.5,394.63M1895.6,389.89L1956.5,417.52M1895.6,388.37L1956.5,373.45M1895.6,388.14L1956.5,393.01M1895.6,387.61L1956.5,432.46M1895.6,386.79L1956.5,420.16M1895.6,386.54L1956.5,409.52M1895.6,386.48L1956.5,374.07M1895.6,386.02L1956.5,414.54M1895.6,384.11L1956.5,399.6M1895.6,382.18L1956.5,426.62M1895.6,381.5L1956.5,402.07M1895.6,381.24L1956.5,402.51M1895.6,376.19L1956.5,389.5M1895.6,371.79L1956.5,408.81M1895.6,371.06L1956.5,382.23M1895.6,222.96L1956.5,431.16M1895.6,252.06L1956.5,424.34M1895.6,255.89L1956.5,435.73M1895.6,258.19L1956.5,418.66M1895.6,284.99L1956.5,376.52M1895.6,282.7L1956.5,464.75M1895.6,286.52L1956.5,446.34M1895.6,292.65L1956.5,453.54M1895.6,298.01L1956.5,440.45M1895.6,301.84L1956.5,443.7M1895.6,309.5L1956.5,454.2M1895.6,313.33L1956.5,452.66M1895.6,324.82L1956.5,392.88M1895.6,328.65L1956.5,402.52M1895.6,340.13L1956.5,463.25M1895.6,347.79L1956.5,446.84M1895.6,347.79L1956.5,385.54M1895.6,355.45L1956.5,444.89M1895.6,359.28L1956.5,408.21M1895.6,363.11L1956.5,369.22M1895.6,366.94L1956.5,452.29M1895.6,471.12L1956.5,200.75M1895.6,457.02L1956.5,249.76M1895.6,459.56L1956.5,252.06M1895.6,427.66L1956.5,268.14M1895.6,447.8L1956.5,275.04M1895.6,431.48L1956.5,284.23M1895.6,439.6L1956.5,288.06M1895.6,488.48L1956.5,290.35M1895.6,457.64L1956.5,295.72M1895.6,472.27L1956.5,300.31M1895.6,443.72L1956.5,305.67M1895.6,434.76L1956.5,313.33M1895.6,457.01L1956.5,320.99M1895.6,386.02L1956.5,328.65M1895.6,431.2L1956.5,336.3M1895.6,455.58L1956.5,340.13M1895.6,442.64L1956.5,343.96M1895.6,398.38L1956.5,347.79M1895.6,457.01L1956.5,355.45M1895.6,436.91L1956.5,355.45M1895.6,388.14L1956.5,366.94" stroke="#838383" stroke-width="1.0" fill="none"/>
<path d="M1856.66,493.29a3.5,3.5 0 1,0 7,0a3.5,3.5 0 1,0 -7,0M1865.76,489.6a3.5,3.5 0 1,0 7,0a3.5,3.5 0 1,0 -7,0M1865.93,488.68a3.5,3.5 0 1,0 7,0a3.5,3.5 0 1,0 -7,0M1859.43,488.48a3.5,3.5 0 1,0 7,0a3.5,3.5 0 1,0 -7,0M1865.51,488.35a3.5,3.5 0 1,0 7,0a3.5,3.5 0 1,0 -7,0M1861.95,488.09a3.5,3.5 0 1,0 7,0a3.5,3.5 0 1,0 -7,0M1868.04,487.04a3.5,3.5 0 1,0 7,0a3.5,3.5 0 1,0 -7,0M1856.85,486.51a3.5,3.5 0 1,0 7,0a3.5,3.5 0 1,0 -7,0M1860.76,486.37a3.5,3.5 0 1,0 7,0a3.5,3.5 0 1,0 -7,0M1858.93,485.95a3.5,3.5 0 1,0 7,0a3.5,3.5 0 1,0 -7,0M1863.7,484.77a3.5,3.5 0 1,0 7,0a3.5,3.5 0 1,0 -7,0M1865.54,484.43a3.5,3.5 0 1,0 7,0a3.5,3.5 0 1,0 -7,0M1866.31,484.12a3.5,3.5 0 1,0 7,0a3.5,3.5 0 1,0 -7,0M1862.78,483.37a3.5,3.5 0 1,0 7,0a3.5,3.5 0 1,0 -7,0M1860.85,482.73a3.5,3.5 0 1,0 7,0a3.5,3.5 0 1,0 -7,0M1865.8,481.35a3.5,3.5 0 1,0 7,0a3.5,3.5 0 1,0 -7,0M1857.46,480.85a3.5,3.5 0 1,0 7,0a3.5,3.5 0 1,0 -7,0M1859.32,480.48a3.5,3.5 0 1,0 7,0a3.5,3.5 0 1,0 -7,0M1865.23,478.8a3.5,3.5 0 1,0 7,0a3.5,3.5 0 1,0 -7,0M1861.49,477.25a3.5,3.5 0 1,0 7,0a3.5,3.5 0 1,0 -7,0M1868.12,477.11a3.5,3.5 0 1,0 7,0a3.5,3.5 0 1,0 -7,0M1857.29,476.9a3.5,3.5 0 1,0 7,0a3.5,3.5 0 1,0 -7,0M1861.74,476.6a3.5,3.5 0 1,0 7,0a3.5,3.5 0 1,0 -7,0M1858.75,476.31a3.5,3.5 0 1,0 7,0a3.5,3.5 0 1,0 -7,0M1856.23,476.1a3.5,3.5 0 1,0 7,0a3.5,3.5 0 1,0 -7,0M1857.32,475.57a3.5,3.5 0 1,0 7,0a3.5,3.5 0 1,0 -7,0M1857.29,474.93a3.5,3.5 0 1,0 7,0a3.5,3.5 0 1,0 -7,0M1860.63,474.85a3.5,3.5 0 1,0 7,0a3.5,3.5 0 1,0 -7,0M1861.39,472.75a3.5,3.5 0 1,0 7,0a3.5,3.5 0 1,0 -7,0M1862.29,472.27a3.5,3.5 0 1,0 7,0a3.5,3.5 0 1,0 -7,0M1859.67,471.87a3.5,3.5 0 1,0 7,0a3.5,3.5 0 1,0 -7,0M1864.62,471.12a3.5,3.5 0 1,0 7,0a3.5,3.5 0 1,0 -7,0M1862.39,470.76a3.5,3.5 0 1,0 7,0a3.5,3.5 0 1,0 -7,0M1867.98,470.76a3.5,3.5 0 1,0 7,0a3.5,3.5 0 1,0 -7,0M1858.23,470.64a3.5,3.5 0 1,0 7,0a3.5,3.5 0 1,0 -7,0M1862.33,470.39a3.5,3.5 0 1,0 7,0a3.5,3.5 0 1,0 -7,0M1862.12,469.27a3.5,3.5 0 1,0 7,0a3.5,3.5 0 1,0 -7,0M1860.66,467.76a3.5,3.5 0 1,0 7,0a3.5,3.5 0 1,0 -7,0M1866.53,467.39a3.5,3.5 0 1,0 7,0a3.5,3.5 0 1,0 -7,0M1858.71,467.15a3.5,3.5 0 1,0 7,0a3.5,3.5 0 1,0 -7,0M1866.73,466.21a3.5,3.5 0 1,0 7,0a3.5,3.5 0 1,0 -7,0M1860.49,465.83a3.5,3.5 0 1,0 7,0a3.5,3.5 0 1,0 -7,0M1860.23,465.37a3.5,3.5 0 1,0 7,0a3.5,3.5 0 1,0 -7,0M1863.58,465.09a3.5,3.5 0 1,0 7,0a3.5,3.5 0 1,0 -7,0M1862.96,464.84a3.5,3.5 0 1,0 7,0a3.5,3.5 0 1,0 -7,0M1859.61,464.34a3.5,3.5 0 1,0 7,0a3.5,3.5 0 1,0 -7,0M1857.21,463.92a3.5,3.5 0 1,0 7,0a3.5,3.5 0 1,0 -7,0M1867.66,463.46a3.5,3.5 0 1,0 7,0a3.5,3.5 0 1,0 -7,0M1860.63,463.1a3.5,3.5 0 1,0 7,0a3.5,3.5 0 1,0 -7,0M1857.57,461.52a3.5,3.5 0 1,0 7,0a3.5,3.5 0 1,0 -7,0M1864.08,460.96a3.5,3.5 0 1,0 7,0a3.5,3.5 0 1,0 -7,0M1862.58,460.4a3.5,3.5 0 1,0 7,0a3.5,3.5 0 1,0 -7,0M1860.13,460.08a3.5,3.5 0 1,0 7,0a3.5,3.5 0 1,0 -7,0M1860.14,459.79a3.5,3.5 0 1,0 7,0a3.5,3.5 0 1,0 -7,0M1866.34,459.56a3.5,3.5 0 1,0 7,0a3.5,3.5 0 1,0 -7,0M1860.26,458.97a3.5,3.5 0 1,0 7,0a3.5,3.5 0 1,0 -7,0M1861.21,458.9a3.5,3.5 0 1,0 7,0a3.5,3.5 0 1,0 -7,0M1867.68,458.51a3.5,3.5 0 1,0 7,0a3.5,3.5 0 1,0 -7,0M1860.53,457.64a3.5,3.5 0 1,0 7,0a3.5,3.5 0 1,0 -7,0M1861.02,457.34a3.5,3.5 0 1,0 7,0a3.5,3.5 0 1,0 -7,0M1858.14,457.02a3.5,3.5 0 1,0 7,0a3.5,3.5 0 1,0 -7,0M1864.15,457.01a3.5,3.5 0 1,0 7,0a3.5,3.5 0 1,0 -7,0M1864.18,455.58a3.5,3.5 0 1,0 7,0a3.5,3.5 0 1,0 -7,0M1861.56,455.43a3.5,3.5 0 1,0 7,0a3.5,3.5 0 1,0 -7,0M1861.07,454.7a3.5,3.5 0 1,0 7,0a3.5,3.5 0 1,0 -7,0M1858.99,454.36a3.5,3.5 0 1,0 7,0a3.5,3.5 0 1,0 -7,0M1865.68,454.22a3.5,3.5 0 1,0 7,0a3.5,3.5 0 1,0 -7,0M1861.69,454.12a3.5,3.5 0 1,0 7,0a3.5,3.5 0 1,0 -7,0M1866.18,452.99a3.5,3.5 0 1,0 7,0a3.5,3.5 0 1,0 -7,0M1860.7,451.66a3.5,3.5 0 1,0 7,0a3.5,3.5 0 1,0 -7,0M1865,451.17a3.5,3.5 0 1,0 7,0a3.5,3.5 0 1,0 -7,0M1856.55,451.08a3.5,3.5 0 1,0 7,0a3.5,3.5 0 1,0 -7,0M1858.84,451.03a3.5,3.5 0 1,0 7,0a3.5,3.5 0 1,0 -7,0M1867.73,450.2a3.5,3.5 0 1,0 7,0a3.5,3.5 0 1,0 -7,0M1864.39,450.05a3.5,3.5 0 1,0 7,0a3.5,3.5 0 1,0 -7,0M1864.31,449.77a3.5,3.5 0 1,0 7,0a3.5,3.5 0 1,0 -7,0M1862.16,449.39a3.5,3.5 0 1,0 7,0a3.5,3.5 0 1,0 -7,0M1861.87,448.26a3.5,3.5 0 1,0 7,0a3.5,3.5 0 1,0 -7,0M1858.57,447.83a3.5,3.5 0 1,0 7,0a3.5,3.5 0 1,0 -7,0M1858.28,447.8a3.5,3.5 0 1,0 7,0a3.5,3.5 0 1,0 -7,0M1863.94,446.2a3.5,3.5 0 1,0 7,0a3.5,3.5 0 1,0 -7,0M1864.53,445.01a3.5,3.5 0 1,0 7,0a3.5,3.5 0 1,0 -7,0M1859.3,444.55a3.5,3.5 0 1,0 7,0a3.5,3.5 0 1,0 -7,0M1863.93,444.39a3.5,3.5 0 1,0 7,0a3.5,3.5 0 1,0 -7,0M1857.83,443.72a3.5,3.5 0 1,0 7,0a3.5,3.5 0 1,0 -7,0M1863.56,442.64a3.5,3.5 0 1,0 7,0a3.5,3.5 0 1,0 -7,0M1858.26,442.54a3.5,3.5 0 1,0 7,0a3.5,3.5 0 1,0 -7,0M1862.31,442.41a3.5,3.5 0 1,0 7,0a3.5,3.5 0 1,0 -7,0M1859.97,442.23a3.5,3.5 0 1,0 7,0a3.5,3.5 0 1,0 -7,0M1862.81,441.01a3.5,3.5 0 1,0 7,0a3.5,3.5 0 1,0 -7,0M1857.81,439.88a3.5,3.5 0 1,0 7,0a3.5,3.5 0 1,0 -7,0M1862,439.75a3.5,3.5 0 1,0 7,0a3.5,3.5 0 1,0 -7,0M1863.6,439.6a3.5,3.5 0 1,0 7,0a3.5,3.5 0 1,0 -7,0M1857.82,438.63a3.5,3.5 0 1,0 7,0a3.5,3.5 0 1,0 -7,0M1859.9,437.83a3.5,3.5 0 1,0 7,0a3.5,3.5 0 1,0 -7,0M1864.34,436.95a3.5,3.5 0 1,0 7,0a3.5,3.5 0 1,0 -7,0M1862.75,436.91a3.5,3.5 0 1,0 7,0a3.5,3.5 0 1,0 -7,0M1863.6,436.65a3.5,3.5 0 1,0 7,0a3.5,3.5 0 1,0 -7,0M1865.56,436.64a3.5,3.5 0 1,0 7,0a3.5,3.5 0 1,0 -7,0M1863.06,436.58a3.5,3.5 0 1,0 7,0a3.5,3.5 0 1,0 -7,0M1858.87,434.89a3.5,3.5 0 1,0 7,0a3.5,3.5 0 1,0 -7,0M1861.51,434.78a3.5,3.5 0 1,0 7,0a3.5,3.5 0 1,0 -7,0M1866.16,434.76a3.5,3.5 0 1,0 7,0a3.5,3.5 0 1,0 -7,0M1863,434.56a3.5,3.5 0 1,0 7,0a3.5,3.5 0 1,0 -7,0M1865.24,434.29a3.5,3.5 0 1,0 7,0a3.5,3.5 0 1,0 -7,0M1860.57,433.98a3.5,3.5 0 1,0 7,0a3.5,3.5 0 1,0 -7,0M1861.58,431.48a3.5,3.5 0 1,0 7,0a3.5,3.5 0 1,0 -7,0M1867.84,431.42a3.5,3.5 0 1,0 7,0a3.5,3.5 0 1,0 -7,0M1866.07,431.2a3.5,3.5 0 1,0 7,0a3.5,3.5 0 1,0 -7,0M1864.03,431.17a3.5,3.5 0 1,0 7,0a3.5,3.5 0 1,0 -7,0M1857.48,429.77a3.5,3.5 0 1,0 7,0a3.5,3.5 0 1,0 -7,0M1863.54,429.37a3.5,3.5 0 1,0 7,0a3.5,3.5 0 1,0 -7,0M1856.6,427.66a3.5,3.5 0 1,0 7,0a3.5,3.5 0 1,0 -7,0M1867.41,426.76a3.5,3.5 0 1,0 7,0a3.5,3.5 0 1,0 -7,0M1867.86,426.63a3.5,3.5 0 1,0 7,0a3.5,3.5 0 1,0 -7,0M1864.94,425.67a3.5,3.5 0 1,0 7,0a3.5,3.5 0 1,0 -7,0M1859.41,425.34a3.5,3.5 0 1,0 7,0a3.5,3.5 0 1,0 -7,0M1866.35,425.34a3.5,3.5 0 1,0 7,0a3.5,3.5 0 1,0 -7,0M1858.33,423.46a3.5,3.5 0 1,0 7,0a3.5,3.5 0 1,0 -7,0M1866.13,422.69a3.5,3.5 0 1,0 7,0a3.5,3.5 0 1,0 -7,0M1862.45,421.79a3.5,3.5 0 1,0 7,0a3.5,3.5 0 1,0 -7,0M1856.39,421.48a3.5,3.5 0 1,0 7,0a3.5,3.5 0 1,0 -7,0M1866.88,420.22a3.5,3.5 0 1,0 7,0a3.5,3.5 0 1,0 -7,0M1861.48,419.98a3.5,3.5 0 1,0 7,0a3.5,3.5 0 1,0 -7,0M1866.16,418.56a3.5,3.5 0 1,0 7,0a3.5,3.5 0 1,0 -7,0M1864.46,418.28a3.5,3.5 0 1,0 7,0a3.5,3.5 0 1,0 -7,0M1862.59,417.17a3.5,3.5 0 1,0 7,0a3.5,3.5 0 1,0 -7,0M1866.55,416.65a3.5,3.5 0 1,0 7,0a3.5,3.5 0 1,0 -7,0M1858.64,416.29a3.5,3.5 0 1,0 7,0a3.5,3.5 0 1,0 -7,0M1866.98,416.17a3.5,3.5 0 1,0 7,0a3.5,3.5 0 1,0 -7,0M1860.27,416.12a3.5,3.5 0 1,0 7,0a3.5,3.5 0 1,0 -7,0M1856.51,415.49a3.5,3.5 0 1,0 7,0a3.5,3.5 0 1,0 -7,0M1860.24,415.46a3.5,3.5 0 1,0 7,0a3.5,3.5 0 1,0 -7,0M1856.99,415.43a3.5,3.5 0 1,0 7,0a3.5,3.5 0 1,0 -7,0M1857.07,415.05a3.5,3.5 0 1,0 7,0a3.5,3.5 0 1,0 -7,0M1863.69,412.72a3.5,3.5 0 1,0 7,0a3.5,3.5 0 1,0 -7,0M1857.65,411.02a3.5,3.5 0 1,0 7,0a3.5,3.5 0 1,0 -7,0M1858.12,410.87a3.5,3.5 0 1,0 7,0a3.5,3.5 0 1,0 -7,0M1859.71,407.84a3.5,3.5 0 1,0 7,0a3.5,3.5 0 1,0 -7,0M1859.54,407.02a3.5,3.5 0 1,0 7,0a3.5,3.5 0 1,0 -7,0M1867.24,406.92a3.5,3.5 0 1,0 7,0a3.5,3.5 0 1,0 -7,0M1867.06,404.47a3.5,3.5 0 1,0 7,0a3.5,3.5 0 1,0 -7,0M1866.64,404.04a3.5,3.5 0 1,0 7,0a3.5,3.5 0 1,0 -7,0M1868.08,403.93a3.5,3.5 0 1,0 7,0a3.5,3.5 0 1,0 -7,0M1861.48,403.35a3.5,3.5 0 1,0 7,0a3.5,3.5 0 1,0 -7,0M1865.75,401.52a3.5,3.5 0 1,0 7,0a3.5,3.5 0 1,0 -7,0M1859.57,401.2a3.5,3.5 0 1,0 7,0a3.5,3.5 0 1,0 -7,0M1867.32,400.71a3.5,3.5 0 1,0 7,0a3.5,3.5 0 1,0 -7,0M1865.93,398.92a3.5,3.5 0 1,0 7,0a3.5,3.5 0 1,0 -7,0M1864.99,398.48a3.5,3.5 0 1,0 7,0a3.5,3.5 0 1,0 -7,0M1858.93,398.38a3.5,3.5 0 1,0 7,0a3.5,3.5 0 1,0 -7,0M1857.3,397.18a3.5,3.5 0 1,0 7,0a3.5,3.5 0 1,0 -7,0M1867.3,397.11a3.5,3.5 0 1,0 7,0a3.5,3.5 0 1,0 -7,0M1862.83,395.14a3.5,3.5 0 1,0 7,0a3.5,3.5 0 1,0 -7,0M1863.55,394.84a3.5,3.5 0 1,0 7,0a3.5,3.5 0 1,0 -7,0M1866.54,394.43a3.5,3.5 0 1,0 7,0a3.5,3.5 0 1,0 -7,0M1857.92,392.59a3.5,3.5 0 1,0 7,0a3.5,3.5 0 1,0 -7,0M1864.59,391.39a3.5,3.5 0 1,0 7,0a3.5,3.5 0 1,0 -7,0M1861.77,390.86a3.5,3.5 0 1,0 7,0a3.5,3.5 0 1,0 -7,0M1865.63,390.51a3.5,3.5 0 1,0 7,0a3.5,3.5 0 1,0 -7,0M1861.67,389.89a3.5,3.5 0 1,0 7,0a3.5,3.5 0 1,0 -7,0M1858.56,388.37a3.5,3.5 0 1,0 7,0a3.5,3.5 0 1,0 -7,0M1867.68,388.14a3.5,3.5 0 1,0 7,0a3.5,3.5 0 1,0 -7,0M1859.57,387.61a3.5,3.5 0 1,0 7,0a3.5,3.5 0 1,0 -7,0M1865.14,386.79a3.5,3.5 0 1,0 7,0a3.5,3.5 0 1,0 -7,0M1866.17,386.54a3.5,3.5 0 1,0 7,0a3.5,3.5 0 1,0 -7,0M1859.17,386.48a3.5,3.5 0 1,0 7,0a3.5,3.5 0 1,0 -7,0M1864.54,386.02a3.5,3.5 0 1,0 7,0a3.5,3.5 0 1,0 -7,0M1860.95,384.11a3.5,3.5 0 1,0 7,0a3.5,3.5 0 1,0 -7,0M1858.89,382.18a3.5,3.5 0 1,0 7,0a3.5,3.5 0 1,0 -7,0M1858.81,381.5a3.5,3.5 0 1,0 7,0a3.5,3.5 0 1,0 -7,0M1867.65,381.24a3.5,3.5 0 1,0 7,0a3.5,3.5 0 1,0 -7,0M1860.62,376.19a3.5,3.5 0 1,0 7,0a3.5,3.5 0 1,0 -7,0M1862.32,371.79a3.5,3.5 0 1,0 7,0a3.5,3.5 0 1,0 -7,0M1862.22,371.06a3.5,3.5 0 1,0 7,0a3.5,3.5 0 1,0 -7,0M1856.52,222.96a3.5,3.5 0 1,0 7,0a3.5,3.5 0 1,0 -7,0M1865.24,252.06a3.5,3.5 0 1,0 7,0a3.5,3.5 0 1,0 -7,0M1865.14,255.89a3.5,3.5 0 1,0 7,0a3.5,3.5 0 1,0 -7,0M1866.71,258.19a3.5,3.5 0 1,0 7,0a3.5,3.5 0 1,0 -7,0M1860.48,284.99a3.5,3.5 0 1,0 7,0a3.5,3.5 0 1,0 -7,0M1858.72,282.7a3.5,3.5 0 1,0 7,0a3.5,3.5 0 1,0 -7,0M1860.37,286.52a3.5,3.5 0 1,0 7,0a3.5,3.5 0 1,0 -7,0M1864.99,292.65a3.5,3.5 0 1,0 7,0a3.5,3.5 0 1,0 -7,0M1864.1,298.01a3.5,3.5 0 1,0 7,0a3.5,3.5 0 1,0 -7,0M1861.07,301.84a3.5,3.5 0 1,0 7,0a3.5,3.5 0 1,0 -7,0M1862.5,309.5a3.5,3.5 0 1,0 7,0a3.5,3.5 0 1,0 -7,0M1858.05,313.33a3.5,3.5 0 1,0 7,0a3.5,3.5 0 1,0 -7,0M1867.22,324.82a3.5,3.5 0 1,0 7,0a3.5,3.5 0 1,0 -7,0M1861.86,328.65a3.5,3.5 0 1,0 7,0a3.5,3.5 0 1,0 -7,0M1862.28,340.13a3.5,3.5 0 1,0 7,0a3.5,3.5 0 1,0 -7,0M1865.64,347.79a3.5,3.5 0 1,0 7,0a3.5,3.5 0 1,0 -7,0M1858.57,347.79a3.5,3.5 0 1,0 7,0a3.5,3.5 0 1,0 -7,0M1864.87,355.45a3.5,3.5 0 1,0 7,0a3.5,3.5 0 1,0 -7,0M1860.44,359.28a3.5,3.5 0 1,0 7,0a3.5,3.5 0 1,0 -7,0M1865.95,363.11a3.5,3.5 0 1,0 7,0a3.5,3.5 0 1,0 -7,0M1857.33,366.94a3.5,3.5 0 1,0 7,0a3.5,3.5 0 1,0 -7,0M1859.51,471.12a3.5,3.5 0 1,0 7,0a3.5,3.5 0 1,0 -7,0M1863.83,457.02a3.5,3.5 0 1,0 7,0a3.5,3.5 0 1,0 -7,0M1861.99,459.56a3.5,3.5 0 1,0 7,0a3.5,3.5 0 1,0 -7,0M1860.72,427.66a3.5,3.5 0 1,0 7,0a3.5,3.5 0 1,0 -7,0M1863.14,447.8a3.5,3.5 0 1,0 7,0a3.5,3.5 0 1,0 -7,0M1858.81,431.48a3.5,3.5 0 1,0 7,0a3.5,3.5 0 1,0 -7,0M1861.45,439.6a3.5,3.5 0 1,0 7,0a3.5,3.5 0 1,0 -7,0M1856.22,488.48a3.5,3.5 0 1,0 7,0a3.5,3.5 0 1,0 -7,0M1865.78,457.64a3.5,3.5 0 1,0 7,0a3.5,3.5 0 1,0 -7,0M1859.25,472.27a3.5,3.5 0 1,0 7,0a3.5,3.5 0 1,0 -7,0M1866.17,443.72a3.5,3.5 0 1,0 7,0a3.5,3.5 0 1,0 -7,0M1862.83,434.76a3.5,3.5 0 1,0 7,0a3.5,3.5 0 1,0 -7,0M1863.42,457.01a3.5,3.5 0 1,0 7,0a3.5,3.5 0 1,0 -7,0M1863.71,386.02a3.5,3.5 0 1,0 7,0a3.5,3.5 0 1,0 -7,0M1857.71,431.2a3.5,3.5 0 1,0 7,0a3.5,3.5 0 1,0 -7,0M1865.53,455.58a3.5,3.5 0 1,0 7,0a3.5,3.5 0 1,0 -7,0M1859.7,442.64a3.5,3.5 0 1,0 7,0a3.5,3.5 0 1,0 -7,0M1866.55,398.38a3.5,3.5 0 1,0 7,0a3.5,3.5 0 1,0 -7,0M1865.64,457.01a3.5,3.5 0 1,0 7,0a3.5,3.5 0 1,0 -7,0M1864.34,436.91a3.5,3.5 0 1,0 7,0a3.5,3.5 0 1,0 -7,0M1865.98,388.14a3.5,3.5 0 1,0 7,0a3.5,3.5 0 1,0 -7,0" fill="#2E89B0"/>
<path d="M1982.24,474.32a3.5,3.5 0 1,0 7,0a3.5,3.5 0 1,0 -7,0M1985.08,474.1a3.5,3.5 0 1,0 7,0a3.5,3.5 0 1,0 -7,0M1988.43,462.64a3.5,3.5 0 1,0 7,0a3.5,3.5 0 1,0 -7,0M1979.27,466.96a3.5,3.5 0 1,0 7,0a3.5,3.5 0 1,0 -7,0M1978.21,460.24a3.5,3.5 0 1,0 7,0a3.5,3.5 0 1,0 -7,0M1981.94,460.64a3.5,3.5 0 1,0 7,0a3.5,3.5 0 1,0 -7,0M1983.11,460.24a3.5,3.5 0 1,0 7,0a3.5,3.5 0 1,0 -7,0M1978.79,451.51a3.5,3.5 0 1,0 7,0a3.5,3.5 0 1,0 -7,0M1979.65,453.92a3.5,3.5 0 1,0 7,0a3.5,3.5 0 1,0 -7,0M1987.4,471.99a3.5,3.5 0 1,0 7,0a3.5,3.5 0 1,0 -7,0M1981.66,451.85a3.5,3.5 0 1,0 7,0a3.5,3.5 0 1,0 -7,0M1978.79,458.25a3.5,3.5 0 1,0 7,0a3.5,3.5 0 1,0 -7,0M1979.2,469.61a3.5,3.5 0 1,0 7,0a3.5,3.5 0 1,0 -7,0M1983.93,471.07a3.5,3.5 0 1,0 7,0a3.5,3.5 0 1,0 -7,0M1979.28,448.18a3.5,3.5 0 1,0 7,0a3.5,3.5 0 1,0 -7,0M1982.7,452.05a3.5,3.5 0 1,0 7,0a3.5,3.5 0 1,0 -7,0M1983.45,468.98a3.5,3.5 0 1,0 7,0a3.5,3.5 0 1,0 -7,0M1982.28,476.01a3.5,3.5 0 1,0 7,0a3.5,3.5 0 1,0 -7,0M1983.04,469.53a3.5,3.5 0 1,0 7,0a3.5,3.5 0 1,0 -7,0M1987.04,459.77a3.5,3.5 0 1,0 7,0a3.5,3.5 0 1,0 -7,0M1977.2,464.68a3.5,3.5 0 1,0 7,0a3.5,3.5 0 1,0 -7,0M1988.16,465.32a3.5,3.5 0 1,0 7,0a3.5,3.5 0 1,0 -7,0M1979.39,450.78a3.5,3.5 0 1,0 7,0a3.5,3.5 0 1,0 -7,0M1977.46,438.61a3.5,3.5 0 1,0 7,0a3.5,3.5 0 1,0 -7,0M1986.21,437.36a3.5,3.5 0 1,0 7,0a3.5,3.5 0 1,0 -7,0M1983.84,441.78a3.5,3.5 0 1,0 7,0a3.5,3.5 0 1,0 -7,0M1983.45,459.66a3.5,3.5 0 1,0 7,0a3.5,3.5 0 1,0 -7,0M1979.61,438.82a3.5,3.5 0 1,0 7,0a3.5,3.5 0 1,0 -7,0M1986.37,458.66a3.5,3.5 0 1,0 7,0a3.5,3.5 0 1,0 -7,0M1980.68,444.86a3.5,3.5 0 1,0 7,0a3.5,3.5 0 1,0 -7,0M1985.72,425a3.5,3.5 0 1,0 7,0a3.5,3.5 0 1,0 -7,0M1979.74,442.9a3.5,3.5 0 1,0 7,0a3.5,3.5 0 1,0 -7,0M1983.87,442.49a3.5,3.5 0 1,0 7,0a3.5,3.5 0 1,0 -7,0M1984.78,463.67a3.5,3.5 0 1,0 7,0a3.5,3.5 0 1,0 -7,0M1981.46,424.66a3.5,3.5 0 1,0 7,0a3.5,3.5 0 1,0 -7,0M1982.76,446.23a3.5,3.5 0 1,0 7,0a3.5,3.5 0 1,0 -7,0M1977.78,438.32a3.5,3.5 0 1,0 7,0a3.5,3.5 0 1,0 -7,0M1984.72,471.32a3.5,3.5 0 1,0 7,0a3.5,3.5 0 1,0 -7,0M1985.3,464.94a3.5,3.5 0 1,0 7,0a3.5,3.5 0 1,0 -7,0M1978.84,446.4a3.5,3.5 0 1,0 7,0a3.5,3.5 0 1,0 -7,0M1983.61,417.08a3.5,3.5 0 1,0 7,0a3.5,3.5 0 1,0 -7,0M1985.8,427.84a3.5,3.5 0 1,0 7,0a3.5,3.5 0 1,0 -7,0M1978.21,466.45a3.5,3.5 0 1,0 7,0a3.5,3.5 0 1,0 -7,0M1987.07,445.43a3.5,3.5 0 1,0 7,0a3.5,3.5 0 1,0 -7,0M1987.44,479.17a3.5,3.5 0 1,0 7,0a3.5,3.5 0 1,0 -7,0M1977.61,439.75a3.5,3.5 0 1,0 7,0a3.5,3.5 0 1,0 -7,0M1979.98,425.13a3.5,3.5 0 1,0 7,0a3.5,3.5 0 1,0 -7,0M1978.01,438.59a3.5,3.5 0 1,0 7,0a3.5,3.5 0 1,0 -7,0M1980.03,469.25a3.5,3.5 0 1,0 7,0a3.5,3.5 0 1,0 -7,0M1978.04,405.44a3.5,3.5 0 1,0 7,0a3.5,3.5 0 1,0 -7,0M1982.87,424.44a3.5,3.5 0 1,0 7,0a3.5,3.5 0 1,0 -7,0M1980,459.18a3.5,3.5 0 1,0 7,0a3.5,3.5 0 1,0 -7,0M1980.6,461.67a3.5,3.5 0 1,0 7,0a3.5,3.5 0 1,0 -7,0M1982.54,468.19a3.5,3.5 0 1,0 7,0a3.5,3.5 0 1,0 -7,0M1981.46,439.05a3.5,3.5 0 1,0 7,0a3.5,3.5 0 1,0 -7,0M1986.46,410.92a3.5,3.5 0 1,0 7,0a3.5,3.5 0 1,0 -7,0M1985.67,429.54a3.5,3.5 0 1,0 7,0a3.5,3.5 0 1,0 -7,0M1978.37,473.7a3.5,3.5 0 1,0 7,0a3.5,3.5 0 1,0 -7,0M1979.68,480.18a3.5,3.5 0 1,0 7,0a3.5,3.5 0 1,0 -7,0M1977.1,386.37a3.5,3.5 0 1,0 7,0a3.5,3.5 0 1,0 -7,0M1980.95,454.7a3.5,3.5 0 1,0 7,0a3.5,3.5 0 1,0 -7,0M1978.3,436.82a3.5,3.5 0 1,0 7,0a3.5,3.5 0 1,0 -7,0M1985.37,451.75a3.5,3.5 0 1,0 7,0a3.5,3.5 0 1,0 -7,0M1986.36,465.67a3.5,3.5 0 1,0 7,0a3.5,3.5 0 1,0 -7,0M1988.95,444.11a3.5,3.5 0 1,0 7,0a3.5,3.5 0 1,0 -7,0M1979.51,371.57a3.5,3.5 0 1,0 7,0a3.5,3.5 0 1,0 -7,0M1977.44,391.53a3.5,3.5 0 1,0 7,0a3.5,3.5 0 1,0 -7,0M1986.08,430.09a3.5,3.5 0 1,0 7,0a3.5,3.5 0 1,0 -7,0M1981.94,373.51a3.5,3.5 0 1,0 7,0a3.5,3.5 0 1,0 -7,0M1988.17,371.47a3.5,3.5 0 1,0 7,0a3.5,3.5 0 1,0 -7,0M1981.71,442.87a3.5,3.5 0 1,0 7,0a3.5,3.5 0 1,0 -7,0M1980.75,424.6a3.5,3.5 0 1,0 7,0a3.5,3.5 0 1,0 -7,0M1977.87,440.33a3.5,3.5 0 1,0 7,0a3.5,3.5 0 1,0 -7,0M1988.37,383.01a3.5,3.5 0 1,0 7,0a3.5,3.5 0 1,0 -7,0M1983.15,416.77a3.5,3.5 0 1,0 7,0a3.5,3.5 0 1,0 -7,0M1982.29,427.08a3.5,3.5 0 1,0 7,0a3.5,3.5 0 1,0 -7,0M1982.25,455.67a3.5,3.5 0 1,0 7,0a3.5,3.5 0 1,0 -7,0M1986.22,417.8a3.5,3.5 0 1,0 7,0a3.5,3.5 0 1,0 -7,0M1986.97,392.16a3.5,3.5 0 1,0 7,0a3.5,3.5 0 1,0 -7,0M1982.71,467.04a3.5,3.5 0 1,0 7,0a3.5,3.5 0 1,0 -7,0M1979.14,378.9a3.5,3.5 0 1,0 7,0a3.5,3.5 0 1,0 -7,0M1981.88,377.21a3.5,3.5 0 1,0 7,0a3.5,3.5 0 1,0 -7,0M1987.7,478.76a3.5,3.5 0 1,0 7,0a3.5,3.5 0 1,0 -7,0M1981.89,407.44a3.5,3.5 0 1,0 7,0a3.5,3.5 0 1,0 -7,0M1984.93,390.92a3.5,3.5 0 1,0 7,0a3.5,3.5 0 1,0 -7,0M1983.72,477.33a3.5,3.5 0 1,0 7,0a3.5,3.5 0 1,0 -7,0M1982.54,452.76a3.5,3.5 0 1,0 7,0a3.5,3.5 0 1,0 -7,0M1983.9,464.54a3.5,3.5 0 1,0 7,0a3.5,3.5 0 1,0 -7,0M1979.94,459.49a3.5,3.5 0 1,0 7,0a3.5,3.5 0 1,0 -7,0M1983.69,416.69a3.5,3.5 0 1,0 7,0a3.5,3.5 0 1,0 -7,0M1987.38,434a3.5,3.5 0 1,0 7,0a3.5,3.5 0 1,0 -7,0M1977.96,467.57a3.5,3.5 0 1,0 7,0a3.5,3.5 0 1,0 -7,0M1981.43,422.3a3.5,3.5 0 1,0 7,0a3.5,3.5 0 1,0 -7,0M1987.57,472.51a3.5,3.5 0 1,0 7,0a3.5,3.5 0 1,0 -7,0M1988.74,371.48a3.5,3.5 0 1,0 7,0a3.5,3.5 0 1,0 -7,0M1977.16,441.57a3.5,3.5 0 1,0 7,0a3.5,3.5 0 1,0 -7,0M1984.52,476.16a3.5,3.5 0 1,0 7,0a3.5,3.5 0 1,0 -7,0M1984.58,424.84a3.5,3.5 0 1,0 7,0a3.5,3.5 0 1,0 -7,0M1987.12,458.99a3.5,3.5 0 1,0 7,0a3.5,3.5 0 1,0 -7,0M1982.64,409.92a3.5,3.5 0 1,0 7,0a3.5,3.5 0 1,0 -7,0M1978.57,400.05a3.5,3.5 0 1,0 7,0a3.5,3.5 0 1,0 -7,0M1980.6,476.37a3.5,3.5 0 1,0 7,0a3.5,3.5 0 1,0 -7,0M1985.55,451.6a3.5,3.5 0 1,0 7,0a3.5,3.5 0 1,0 -7,0M1985.74,404.23a3.5,3.5 0 1,0 7,0a3.5,3.5 0 1,0 -7,0M1979.45,422.63a3.5,3.5 0 1,0 7,0a3.5,3.5 0 1,0 -7,0M1984.71,372.1a3.5,3.5 0 1,0 7,0a3.5,3.5 0 1,0 -7,0M1984.88,406.52a3.5,3.5 0 1,0 7,0a3.5,3.5 0 1,0 -7,0M1984.89,381.02a3.5,3.5 0 1,0 7,0a3.5,3.5 0 1,0 -7,0M1977.26,431.12a3.5,3.5 0 1,0 7,0a3.5,3.5 0 1,0 -7,0M1982.3,395.56a3.5,3.5 0 1,0 7,0a3.5,3.5 0 1,0 -7,0M1980.9,434.91a3.5,3.5 0 1,0 7,0a3.5,3.5 0 1,0 -7,0M1984.17,421a3.5,3.5 0 1,0 7,0a3.5,3.5 0 1,0 -7,0M1981.04,436.71a3.5,3.5 0 1,0 7,0a3.5,3.5 0 1,0 -7,0M1978.54,383a3.5,3.5 0 1,0 7,0a3.5,3.5 0 1,0 -7,0M1985.04,408.49a3.5,3.5 0 1,0 7,0a3.5,3.5 0 1,0 -7,0M1980.44,411.02a3.5,3.5 0 1,0 7,0a3.5,3.5 0 1,0 -7,0M1986.49,449.79a3.5,3.5 0 1,0 7,0a3.5,3.5 0 1,0 -7,0M1980.67,403.15a3.5,3.5 0 1,0 7,0a3.5,3.5 0 1,0 -7,0M1983.55,426.98a3.5,3.5 0 1,0 7,0a3.5,3.5 0 1,0 -7,0M1986.7,439.45a3.5,3.5 0 1,0 7,0a3.5,3.5 0 1,0 -7,0M1978.39,403.01a3.5,3.5 0 1,0 7,0a3.5,3.5 0 1,0 -7,0M1985.77,373.92a3.5,3.5 0 1,0 7,0a3.5,3.5 0 1,0 -7,0M1977.82,461.61a3.5,3.5 0 1,0 7,0a3.5,3.5 0 1,0 -7,0M1988.24,419.38a3.5,3.5 0 1,0 7,0a3.5,3.5 0 1,0 -7,0M1977.3,418.46a3.5,3.5 0 1,0 7,0a3.5,3.5 0 1,0 -7,0M1985.69,424.69a3.5,3.5 0 1,0 7,0a3.5,3.5 0 1,0 -7,0M1981.42,426.07a3.5,3.5 0 1,0 7,0a3.5,3.5 0 1,0 -7,0M1979.16,449.57a3.5,3.5 0 1,0 7,0a3.5,3.5 0 1,0 -7,0M1981.74,382.5a3.5,3.5 0 1,0 7,0a3.5,3.5 0 1,0 -7,0M1983.02,478.82a3.5,3.5 0 1,0 7,0a3.5,3.5 0 1,0 -7,0M1981.98,449.56a3.5,3.5 0 1,0 7,0a3.5,3.5 0 1,0 -7,0M1978.47,394.97a3.5,3.5 0 1,0 7,0a3.5,3.5 0 1,0 -7,0M1983.27,446.41a3.5,3.5 0 1,0 7,0a3.5,3.5 0 1,0 -7,0M1980.6,423.17a3.5,3.5 0 1,0 7,0a3.5,3.5 0 1,0 -7,0M1988.61,425.87a3.5,3.5 0 1,0 7,0a3.5,3.5 0 1,0 -7,0M1981.6,404.87a3.5,3.5 0 1,0 7,0a3.5,3.5 0 1,0 -7,0M1982.22,452.4a3.5,3.5 0 1,0 7,0a3.5,3.5 0 1,0 -7,0M1979.74,444.5a3.5,3.5 0 1,0 7,0a3.5,3.5 0 1,0 -7,0M1988.63,435.04a3.5,3.5 0 1,0 7,0a3.5,3.5 0 1,0 -7,0M1980.86,443.84a3.5,3.5 0 1,0 7,0a3.5,3.5 0 1,0 -7,0M1984.76,457.65a3.5,3.5 0 1,0 7,0a3.5,3.5 0 1,0 -7,0M1986.99,429.21a3.5,3.5 0 1,0 7,0a3.5,3.5 0 1,0 -7,0M1981.72,438.7a3.5,3.5 0 1,0 7,0a3.5,3.5 0 1,0 -7,0M1986.06,432.39a3.5,3.5 0 1,0 7,0a3.5,3.5 0 1,0 -7,0M1980.35,420.76a3.5,3.5 0 1,0 7,0a3.5,3.5 0 1,0 -7,0M1978.31,402.96a3.5,3.5 0 1,0 7,0a3.5,3.5 0 1,0 -7,0M1977.51,409.86a3.5,3.5 0 1,0 7,0a3.5,3.5 0 1,0 -7,0M1982.39,416.33a3.5,3.5 0 1,0 7,0a3.5,3.5 0 1,0 -7,0M1987.49,436.65a3.5,3.5 0 1,0 7,0a3.5,3.5 0 1,0 -7,0M1979.44,412.94a3.5,3.5 0 1,0 7,0a3.5,3.5 0 1,0 -7,0M1982.29,446.21a3.5,3.5 0 1,0 7,0a3.5,3.5 0 1,0 -7,0M1986.15,438.24a3.5,3.5 0 1,0 7,0a3.5,3.5 0 1,0 -7,0M1980.31,431.48a3.5,3.5 0 1,0 7,0a3.5,3.5 0 1,0 -7,0M1978.83,439.66a3.5,3.5 0 1,0 7,0a3.5,3.5 0 1,0 -7,0M1983.23,450.53a3.5,3.5 0 1,0 7,0a3.5,3.5 0 1,0 -7,0M1982.1,414.95a3.5,3.5 0 1,0 7,0a3.5,3.5 0 1,0 -7,0M1988.26,407.55a3.5,3.5 0 1,0 7,0a3.5,3.5 0 1,0 -7,0M1987.77,375.35a3.5,3.5 0 1,0 7,0a3.5,3.5 0 1,0 -7,0M1979.86,434.81a3.5,3.5 0 1,0 7,0a3.5,3.5 0 1,0 -7,0M1983.73,394.63a3.5,3.5 0 1,0 7,0a3.5,3.5 0 1,0 -7,0M1981.99,417.52a3.5,3.5 0 1,0 7,0a3.5,3.5 0 1,0 -7,0M1977.41,373.45a3.5,3.5 0 1,0 7,0a3.5,3.5 0 1,0 -7,0M1982.33,393.01a3.5,3.5 0 1,0 7,0a3.5,3.5 0 1,0 -7,0M1987.99,432.46a3.5,3.5 0 1,0 7,0a3.5,3.5 0 1,0 -7,0M1980.63,420.16a3.5,3.5 0 1,0 7,0a3.5,3.5 0 1,0 -7,0M1984.03,409.52a3.5,3.5 0 1,0 7,0a3.5,3.5 0 1,0 -7,0M1985.52,374.07a3.5,3.5 0 1,0 7,0a3.5,3.5 0 1,0 -7,0M1977.76,414.54a3.5,3.5 0 1,0 7,0a3.5,3.5 0 1,0 -7,0M1988.09,399.6a3.5,3.5 0 1,0 7,0a3.5,3.5 0 1,0 -7,0M1978.31,426.62a3.5,3.5 0 1,0 7,0a3.5,3.5 0 1,0 -7,0M1980.62,402.07a3.5,3.5 0 1,0 7,0a3.5,3.5 0 1,0 -7,0M1985.59,402.51a3.5,3.5 0 1,0 7,0a3.5,3.5 0 1,0 -7,0M1977.23,389.5a3.5,3.5 0 1,0 7,0a3.5,3.5 0 1,0 -7,0M1981.51,408.81a3.5,3.5 0 1,0 7,0a3.5,3.5 0 1,0 -7,0M1978.52,382.23a3.5,3.5 0 1,0 7,0a3.5,3.5 0 1,0 -7,0M1982.68,431.16a3.5,3.5 0 1,0 7,0a3.5,3.5 0 1,0 -7,0M1977.19,424.34a3.5,3.5 0 1,0 7,0a3.5,3.5 0 1,0 -7,0M1978.81,435.73a3.5,3.5 0 1,0 7,0a3.5,3.5 0 1,0 -7,0M1979.67,418.66a3.5,3.5 0 1,0 7,0a3.5,3.5 0 1,0 -7,0M1977.98,376.52a3.5,3.5 0 1,0 7,0a3.5,3.5 0 1,0 -7,0M1978.09,464.75a3.5,3.5 0 1,0 7,0a3.5,3.5 0 1,0 -7,0M1979.33,446.34a3.5,3.5 0 1,0 7,0a3.5,3.5 0 1,0 -7,0M1983.21,453.54a3.5,3.5 0 1,0 7,0a3.5,3.5 0 1,0 -7,0M1978.64,440.45a3.5,3.5 0 1,0 7,0a3.5,3.5 0 1,0 -7,0M1986.85,443.7a3.5,3.5 0 1,0 7,0a3.5,3.5 0 1,0 -7,0M1982,454.2a3.5,3.5 0 1,0 7,0a3.5,3.5 0 1,0 -7,0M1980.02,452.66a3.5,3.5 0 1,0 7,0a3.5,3.5 0 1,0 -7,0M1979.89,392.88a3.5,3.5 0 1,0 7,0a3.5,3.5 0 1,0 -7,0M1987.08,402.52a3.5,3.5 0 1,0 7,0a3.5,3.5 0 1,0 -7,0M1977.56,463.25a3.5,3.5 0 1,0 7,0a3.5,3.5 0 1,0 -7,0M1985.91,446.84a3.5,3.5 0 1,0 7,0a3.5,3.5 0 1,0 -7,0M1978.17,385.54a3.5,3.5 0 1,0 7,0a3.5,3.5 0 1,0 -7,0M1988.33,444.89a3.5,3.5 0 1,0 7,0a3.5,3.5 0 1,0 -7,0M1981.9,408.21a3.5,3.5 0 1,0 7,0a3.5,3.5 0 1,0 -7,0M1984.17,369.22a3.5,3.5 0 1,0 7,0a3.5,3.5 0 1,0 -7,0M1987.36,452.29a3.5,3.5 0 1,0 7,0a3.5,3.5 0 1,0 -7,0M1978.21,200.75a3.5,3.5 0 1,0 7,0a3.5,3.5 0 1,0 -7,0M1977.77,249.76a3.5,3.5 0 1,0 7,0a3.5,3.5 0 1,0 -7,0M1985.32,252.06a3.5,3.5 0 1,0 7,0a3.5,3.5 0 1,0 -7,0M1984.05,268.14a3.5,3.5 0 1,0 7,0a3.5,3.5 0 1,0 -7,0M1985.65,275.04a3.5,3.5 0 1,0 7,0a3.5,3.5 0 1,0 -7,0M1980.33,284.23a3.5,3.5 0 1,0 7,0a3.5,3.5 0 1,0 -7,0M1982.96,288.06a3.5,3.5 0 1,0 7,0a3.5,3.5 0 1,0 -7,0M1979.24,290.35a3.5,3.5 0 1,0 7,0a3.5,3.5 0 1,0 -7,0M1982.25,295.72a3.5,3.5 0 1,0 7,0a3.5,3.5 0 1,0 -7,0M1980.38,300.31a3.5,3.5 0 1,0 7,0a3.5,3.5 0 1,0 -7,0M1984.03,305.67a3.5,3.5 0 1,0 7,0a3.5,3.5 0 1,0 -7,0M1980.59,313.33a3.5,3.5 0 1,0 7,0a3.5,3.5 0 1,0 -7,0M1980.3,320.99a3.5,3.5 0 1,0 7,0a3.5,3.5 0 1,0 -7,0M1984.71,328.65a3.5,3.5 0 1,0 7,0a3.5,3.5 0 1,0 -7,0M1978.03,336.3a3.5,3.5 0 1,0 7,0a3.5,3.5 0 1,0 -7,0M1986.61,340.13a3.5,3.5 0 1,0 7,0a3.5,3.5 0 1,0 -7,0M1982.95,343.96a3.5,3.5 0 1,0 7,0a3.5,3.5 0 1,0 -7,0M1979.75,347.79a3.5,3.5 0 1,0 7,0a3.5,3.5 0 1,0 -7,0M1978.38,355.45a3.5,3.5 0 1,0 7,0a3.5,3.5 0 1,0 -7,0M1983.11,355.45a3.5,3.5 0 1,0 7,0a3.5,3.5 0 1,0 -7,0M1983.05,366.94a3.5,3.5 0 1,0 7,0a3.5,3.5 0 1,0 -7,0" fill="#E5A766"/>
<line x1="1841" y1="410.7" x2="1889.3" y2="410.7" stroke="#000" stroke-width="1.5"/>
<line x1="1841" y1="414.9" x2="1889.3" y2="414.9" stroke="#000" stroke-width="3"/>
<line x1="1841" y1="420" x2="1889.3" y2="420" stroke="#000" stroke-width="1.5"/>
<line x1="1962.4" y1="411.8" x2="2010.6" y2="411.8" stroke="#000" stroke-width="1.5"/>
<line x1="1962.4" y1="416" x2="2010.6" y2="416" stroke="#000" stroke-width="3"/>
<line x1="1962.4" y1="420.7" x2="2010.6" y2="420.7" stroke="#000" stroke-width="1.5"/>
<rect x="1805.3" y="33.8" width="241.6" height="459.5" fill="none" stroke="#262626" stroke-width="2.2"/>
<line x1="1805.3" y1="493.3" x2="1811.3" y2="493.3" stroke="#262626" stroke-width="2"/>
<line x1="2040.9" y1="493.3" x2="2046.9" y2="493.3" stroke="#262626" stroke-width="2"/>
<line x1="1805.3" y1="416.72" x2="1811.3" y2="416.72" stroke="#262626" stroke-width="2"/>
<line x1="2040.9" y1="416.72" x2="2046.9" y2="416.72" stroke="#262626" stroke-width="2"/>
<line x1="1805.3" y1="340.13" x2="1811.3" y2="340.13" stroke="#262626" stroke-width="2"/>
<line x1="2040.9" y1="340.13" x2="2046.9" y2="340.13" stroke="#262626" stroke-width="2"/>
<line x1="1805.3" y1="263.55" x2="1811.3" y2="263.55" stroke="#262626" stroke-width="2"/>
<line x1="2040.9" y1="263.55" x2="2046.9" y2="263.55" stroke="#262626" stroke-width="2"/>
<line x1="1805.3" y1="186.97" x2="1811.3" y2="186.97" stroke="#262626" stroke-width="2"/>
<line x1="2040.9" y1="186.97" x2="2046.9" y2="186.97" stroke="#262626" stroke-width="2"/>
<line x1="1805.3" y1="110.38" x2="1811.3" y2="110.38" stroke="#262626" stroke-width="2"/>
<line x1="2040.9" y1="110.38" x2="2046.9" y2="110.38" stroke="#262626" stroke-width="2"/>
<line x1="1805.3" y1="33.8" x2="1811.3" y2="33.8" stroke="#262626" stroke-width="2"/>
<line x1="2040.9" y1="33.8" x2="2046.9" y2="33.8" stroke="#262626" stroke-width="2"/>
<line x1="1865.7" y1="493.3" x2="1865.7" y2="487.3" stroke="#262626" stroke-width="2"/>
<line x1="1865.7" y1="33.8" x2="1865.7" y2="39.8" stroke="#262626" stroke-width="2"/>
<line x1="1986.5" y1="493.3" x2="1986.5" y2="487.3" stroke="#262626" stroke-width="2"/>
<line x1="1986.5" y1="33.8" x2="1986.5" y2="39.8" stroke="#262626" stroke-width="2"/>
<text transform="translate(1794.5,501.6) scale(1.03,1)" font-size="23.5" text-anchor="end" fill="#262626">0</text>
<text transform="translate(1794.5,348.43) scale(1.03,1)" font-size="23.5" text-anchor="end" fill="#262626">0.2</text>
<text transform="translate(1794.5,195.27) scale(1.03,1)" font-size="23.5" text-anchor="end" fill="#262626">0.4</text>
<text transform="translate(1794.5,42.1) scale(1.03,1)" font-size="23.5" text-anchor="end" fill="#262626">0.6</text>
<text transform="translate(1869.7,521) scale(1.03,1)" font-size="23" text-anchor="middle" fill="#262626">Pref</text>
<text transform="translate(1993,521) scale(1.03,1)" font-size="23" text-anchor="middle" fill="#262626">NonPref</text>
<text transform="translate(1921.6,551) scale(1.03,1)" font-size="24.2" text-anchor="middle" fill="#262626">Trial type</text>
<text x="1926.8" y="23.2" font-size="31" text-anchor="middle" fill="#000">Low Power</text>
<path d="M1863.5,72.1V62.6H1982.9V72.1" fill="none" stroke="#000" stroke-width="2.2"/>
<text transform="translate(1925.9,57.5) scale(1.03,1)" font-size="22" text-anchor="middle" fill="#000">ns</text>
<text transform="translate(1440,236.7) rotate(-90) scale(1.03,1)" font-size="24.2" text-anchor="middle" fill="#262626">Gamma SFC (raw)</text>
<text x="2.8" y="687.4" font-size="29" text-anchor="start" fill="#000" font-weight="bold">e</text>
<text x="421" y="647.7" font-size="29.3" text-anchor="middle" fill="#000">nonPAC channels</text>
<clipPath id="c1"><rect x="86.7" y="700.7" width="319.4" height="187.5"/></clipPath>
<g clip-path="url(#c1)">
<polygon points="87,813.7 89.6,847.8 94.5,867.1 98.5,875.9 104.1,876.7 108.1,865.5 111.3,850.2 116.1,858.3 126.6,876.7 134.6,874.3 144.2,865.5 155.5,873.5 178,881.5 192.4,873.5 208.5,868.7 231,862.3 249.4,865.5 272.7,862.3 314.5,859.1 340.2,850.2 372.3,851.8 406.5,855.8 406.5,864.4 372.3,860.4 340.2,858.8 314.5,867.7 272.7,870.9 249.4,874.1 231,870.9 208.5,877.3 192.4,882.1 178,890.1 155.5,882.1 144.2,874.1 134.6,882.9 126.6,885.3 116.1,866.9 111.3,858.8 108.1,874.1 104.1,885.3 98.5,884.5 94.5,875.7 89.6,856.4 87,822.3" fill="#5FA1C6" stroke="none"/>
<polyline points="87,813.7 89.6,847.8 94.5,867.1 98.5,875.9 104.1,876.7 108.1,865.5 111.3,850.2 116.1,858.3 126.6,876.7 134.6,874.3 144.2,865.5 155.5,873.5 178,881.5 192.4,873.5 208.5,868.7 231,862.3 249.4,865.5 272.7,862.3 314.5,859.1 340.2,850.2 372.3,851.8 406.5,855.8" fill="none" stroke="#000" stroke-width="2.4" stroke-linejoin="round"/>
<polyline points="87,818 89.6,852.1 94.5,871.4 98.5,880.2 104.1,881 108.1,869.8 111.3,854.5 116.1,862.6 126.6,881 134.6,878.6 144.2,869.8 155.5,877.8 178,885.8 192.4,877.8 208.5,873 231,866.6 249.4,869.8 272.7,866.6 314.5,863.4 340.2,854.5 372.3,856.1 406.5,860.1" fill="none" stroke="#000" stroke-width="2.4" stroke-linejoin="round"/>
<polyline points="87,822.3 89.6,856.4 94.5,875.7 98.5,884.5 104.1,885.3 108.1,874.1 111.3,858.8 116.1,866.9 126.6,885.3 134.6,882.9 144.2,874.1 155.5,882.1 178,890.1 192.4,882.1 208.5,877.3 231,870.9 249.4,874.1 272.7,870.9 314.5,867.7 340.2,858.8 372.3,860.4 406.5,864.4" fill="none" stroke="#000" stroke-width="2.4" stroke-linejoin="round"/>
<polygon points="87,817.7 92.8,854.2 98.5,851.8 104.9,856.7 109.7,863.9 114.5,860.7 125.8,856.7 134.6,865.5 140.2,868.7 147.4,863.9 166.7,861.5 178,863.9 192.4,858.3 208.5,856.7 231,855.8 249.4,850.2 272.7,859.9 314.5,871.1 340.2,865.5 372.3,859.9 406.5,862.3 406.5,870.9 372.3,868.5 340.2,874.1 314.5,879.7 272.7,868.5 249.4,858.8 231,864.4 208.5,865.3 192.4,866.9 178,872.5 166.7,870.1 147.4,872.5 140.2,877.3 134.6,874.1 125.8,865.3 114.5,869.3 109.7,872.5 104.9,865.3 98.5,860.4 92.8,862.8 87,826.3" fill="#E6AF7E" stroke="none"/>
<polyline points="87,817.7 92.8,854.2 98.5,851.8 104.9,856.7 109.7,863.9 114.5,860.7 125.8,856.7 134.6,865.5 140.2,868.7 147.4,863.9 166.7,861.5 178,863.9 192.4,858.3 208.5,856.7 231,855.8 249.4,850.2 272.7,859.9 314.5,871.1 340.2,865.5 372.3,859.9 406.5,862.3" fill="none" stroke="#000" stroke-width="2.4" stroke-linejoin="round"/>
<polyline points="87,822 92.8,858.5 98.5,856.1 104.9,861 109.7,868.2 114.5,865 125.8,861 134.6,869.8 140.2,873 147.4,868.2 166.7,865.8 178,868.2 192.4,862.6 208.5,861 231,860.1 249.4,854.5 272.7,864.2 314.5,875.4 340.2,869.8 372.3,864.2 406.5,866.6" fill="none" stroke="#000" stroke-width="2.4" stroke-linejoin="round"/>
<polyline points="87,826.3 92.8,862.8 98.5,860.4 104.9,865.3 109.7,872.5 114.5,869.3 125.8,865.3 134.6,874.1 140.2,877.3 147.4,872.5 166.7,870.1 178,872.5 192.4,866.9 208.5,865.3 231,864.4 249.4,858.8 272.7,868.5 314.5,879.7 340.2,874.1 372.3,868.5 406.5,870.9" fill="none" stroke="#000" stroke-width="2.4" stroke-linejoin="round"/>
</g>
<rect x="86.7" y="700.7" width="319.4" height="187.5" fill="none" stroke="#262626" stroke-width="2.2"/>
<line x1="86.7" y1="878.4" x2="91.5" y2="878.4" stroke="#262626" stroke-width="2"/>
<line x1="401.3" y1="878.4" x2="406.1" y2="878.4" stroke="#262626" stroke-width="2"/>
<line x1="86.7" y1="804.5" x2="91.5" y2="804.5" stroke="#262626" stroke-width="2"/>
<line x1="401.3" y1="804.5" x2="406.1" y2="804.5" stroke="#262626" stroke-width="2"/>
<line x1="86.7" y1="730.6" x2="91.5" y2="730.6" stroke="#262626" stroke-width="2"/>
<line x1="401.3" y1="730.6" x2="406.1" y2="730.6" stroke="#262626" stroke-width="2"/>
<line x1="190.6" y1="888.2" x2="190.6" y2="883.4" stroke="#262626" stroke-width="2"/>
<line x1="190.6" y1="700.7" x2="190.6" y2="705.5" stroke="#262626" stroke-width="2"/>
<line x1="298.5" y1="888.2" x2="298.5" y2="883.4" stroke="#262626" stroke-width="2"/>
<line x1="298.5" y1="700.7" x2="298.5" y2="705.5" stroke="#262626" stroke-width="2"/>
<line x1="406.1" y1="888.2" x2="406.1" y2="883.4" stroke="#262626" stroke-width="2"/>
<line x1="406.1" y1="700.7" x2="406.1" y2="705.5" stroke="#262626" stroke-width="2"/>
<text transform="translate(79.5,886.2) scale(1.03,1)" font-size="22" text-anchor="end" fill="#262626">0</text>
<text transform="translate(79.5,812.3) scale(1.03,1)" font-size="22" text-anchor="end" fill="#262626">0.5</text>
<text transform="translate(79.5,738.4) scale(1.03,1)" font-size="22" text-anchor="end" fill="#262626">1</text>
<text transform="translate(190.6,917.5) scale(1.03,1)" font-size="22" text-anchor="middle" fill="#262626">50</text>
<text transform="translate(298.5,917.5) scale(1.03,1)" font-size="22" text-anchor="middle" fill="#262626">100</text>
<text transform="translate(406.1,917.5) scale(1.03,1)" font-size="22" text-anchor="middle" fill="#262626">150</text>
<text transform="translate(248.5,947.5) scale(1.03,1)" font-size="24.2" text-anchor="middle" fill="#262626">Frequency (Hz)</text>
<rect x="95.5" y="823.8" width="9.5" height="4.1" fill="#000"/>
<text x="238" y="686.6" font-size="29.3" text-anchor="middle" fill="#000">Hippocampus</text>
<text transform="translate(38.5,792.3) rotate(-90) scale(1.03,1)" font-size="24.4" text-anchor="middle" fill="#262626">SFC (z)</text>
<text transform="translate(297.8,732) scale(1.03,1)" font-size="20.8" text-anchor="start" fill="#3585AB">Pref</text>
<text transform="translate(297.8,756.9) scale(1.03,1)" font-size="20.8" text-anchor="start" fill="#DFA06D">NonPref</text>
<clipPath id="c2"><rect x="454.2" y="700.4" width="319.4" height="187.2"/></clipPath>
<g clip-path="url(#c2)">
<polygon points="454.2,820.2 457.4,852.6 461.2,862.6 464.9,865.1 469.9,862.6 473.6,868.8 477.4,871.3 479.9,863.9 499.8,852.6 507.3,853.9 517.3,862.6 534.7,857.6 549.7,850.1 569.6,845.1 584.6,833.9 599.5,835.2 614.5,842.7 636.9,845.1 656.9,842.7 679.3,842.7 704.2,845.1 736.7,846.4 774,841.4 774,850 736.7,855 704.2,853.7 679.3,851.3 656.9,851.3 636.9,853.7 614.5,851.3 599.5,843.8 584.6,842.5 569.6,853.7 549.7,858.7 534.7,866.2 517.3,871.2 507.3,862.5 499.8,861.2 479.9,872.5 477.4,879.9 473.6,877.4 469.9,871.2 464.9,873.7 461.2,871.2 457.4,861.2 454.2,828.8" fill="#5FA1C6" stroke="none"/>
<polyline points="454.2,820.2 457.4,852.6 461.2,862.6 464.9,865.1 469.9,862.6 473.6,868.8 477.4,871.3 479.9,863.9 499.8,852.6 507.3,853.9 517.3,862.6 534.7,857.6 549.7,850.1 569.6,845.1 584.6,833.9 599.5,835.2 614.5,842.7 636.9,845.1 656.9,842.7 679.3,842.7 704.2,845.1 736.7,846.4 774,841.4" fill="none" stroke="#000" stroke-width="2.4" stroke-linejoin="round"/>
<polyline points="454.2,824.5 457.4,856.9 461.2,866.9 464.9,869.4 469.9,866.9 473.6,873.1 477.4,875.6 479.9,868.2 499.8,856.9 507.3,858.2 517.3,866.9 534.7,861.9 549.7,854.4 569.6,849.4 584.6,838.2 599.5,839.5 614.5,847 636.9,849.4 656.9,847 679.3,847 704.2,849.4 736.7,850.7 774,845.7" fill="none" stroke="#000" stroke-width="2.4" stroke-linejoin="round"/>
<polyline points="454.2,828.8 457.4,861.2 461.2,871.2 464.9,873.7 469.9,871.2 473.6,877.4 477.4,879.9 479.9,872.5 499.8,861.2 507.3,862.5 517.3,871.2 534.7,866.2 549.7,858.7 569.6,853.7 584.6,842.5 599.5,843.8 614.5,851.3 636.9,853.7 656.9,851.3 679.3,851.3 704.2,853.7 736.7,855 774,850" fill="none" stroke="#000" stroke-width="2.4" stroke-linejoin="round"/>
<polygon points="454.2,820.2 457.4,852.6 461.2,862.6 464.9,865.1 469.9,862.6 473.6,868.8 477.4,871.3 479.9,862.6 497.3,860.1 512.3,858.9 527.2,850.1 542.2,847.7 559.6,841.4 579.6,835.2 599.5,831.4 617,828.9 636.9,830.2 656.9,830.2 679.3,835.2 704.2,838.9 736.7,841.4 774,847.6 774,856.2 736.7,850 704.2,847.5 679.3,843.8 656.9,838.8 636.9,838.8 617,837.5 599.5,840 579.6,843.8 559.6,850 542.2,856.3 527.2,858.7 512.3,867.5 497.3,868.7 479.9,871.2 477.4,879.9 473.6,877.4 469.9,871.2 464.9,873.7 461.2,871.2 457.4,861.2 454.2,828.8" fill="#E6AF7E" stroke="none"/>
<polyline points="454.2,820.2 457.4,852.6 461.2,862.6 464.9,865.1 469.9,862.6 473.6,868.8 477.4,871.3 479.9,862.6 497.3,860.1 512.3,858.9 527.2,850.1 542.2,847.7 559.6,841.4 579.6,835.2 599.5,831.4 617,828.9 636.9,830.2 656.9,830.2 679.3,835.2 704.2,838.9 736.7,841.4 774,847.6" fill="none" stroke="#000" stroke-width="2.4" stroke-linejoin="round"/>
<polyline points="454.2,824.5 457.4,856.9 461.2,866.9 464.9,869.4 469.9,866.9 473.6,873.1 477.4,875.6 479.9,866.9 497.3,864.4 512.3,863.2 527.2,854.4 542.2,852 559.6,845.7 579.6,839.5 599.5,835.7 617,833.2 636.9,834.5 656.9,834.5 679.3,839.5 704.2,843.2 736.7,845.7 774,851.9" fill="none" stroke="#000" stroke-width="2.4" stroke-linejoin="round"/>
<polyline points="454.2,828.8 457.4,861.2 461.2,871.2 464.9,873.7 469.9,871.2 473.6,877.4 477.4,879.9 479.9,871.2 497.3,868.7 512.3,867.5 527.2,858.7 542.2,856.3 559.6,850 579.6,843.8 599.5,840 617,837.5 636.9,838.8 656.9,838.8 679.3,843.8 704.2,847.5 736.7,850 774,856.2" fill="none" stroke="#000" stroke-width="2.4" stroke-linejoin="round"/>
<polygon points="454.3,826 457.2,850.7 459.4,857.2 461.6,854.3 463.8,863 469.6,863.7 472.4,865.2 476.8,868.8 481.1,865.2 484,863.7 484,872.4 479,878.2 474.6,878.2 468.8,874.6 461.6,871.7 458.7,868.8 455.8,854.3 454.3,836" fill="#000" stroke="none"/>
</g>
<rect x="454.2" y="700.4" width="319.4" height="187.2" fill="none" stroke="#262626" stroke-width="2.2"/>
<line x1="454.2" y1="877.6" x2="459" y2="877.6" stroke="#262626" stroke-width="2"/>
<line x1="768.8" y1="877.6" x2="773.6" y2="877.6" stroke="#262626" stroke-width="2"/>
<line x1="454.2" y1="803.7" x2="459" y2="803.7" stroke="#262626" stroke-width="2"/>
<line x1="768.8" y1="803.7" x2="773.6" y2="803.7" stroke="#262626" stroke-width="2"/>
<line x1="454.2" y1="729.8" x2="459" y2="729.8" stroke="#262626" stroke-width="2"/>
<line x1="768.8" y1="729.8" x2="773.6" y2="729.8" stroke="#262626" stroke-width="2"/>
<line x1="557.6" y1="887.6" x2="557.6" y2="882.8" stroke="#262626" stroke-width="2"/>
<line x1="557.6" y1="700.4" x2="557.6" y2="705.2" stroke="#262626" stroke-width="2"/>
<line x1="665.6" y1="887.6" x2="665.6" y2="882.8" stroke="#262626" stroke-width="2"/>
<line x1="665.6" y1="700.4" x2="665.6" y2="705.2" stroke="#262626" stroke-width="2"/>
<line x1="773.6" y1="887.6" x2="773.6" y2="882.8" stroke="#262626" stroke-width="2"/>
<line x1="773.6" y1="700.4" x2="773.6" y2="705.2" stroke="#262626" stroke-width="2"/>
<text transform="translate(557.6,917.3) scale(1.03,1)" font-size="22" text-anchor="middle" fill="#262626">50</text>
<text transform="translate(665.6,917.3) scale(1.03,1)" font-size="22" text-anchor="middle" fill="#262626">100</text>
<text transform="translate(773.6,917.3) scale(1.03,1)" font-size="22" text-anchor="middle" fill="#262626">150</text>
<text transform="translate(615.8,947.7) scale(1.03,1)" font-size="24.2" text-anchor="middle" fill="#262626">Frequency (Hz)</text>
<text x="617" y="686.9" font-size="29.3" text-anchor="middle" fill="#000">Amygdala</text>
<text transform="translate(671.1,732) scale(1.03,1)" font-size="20.8" text-anchor="start" fill="#3585AB">Pref</text>
<text transform="translate(671.1,756.2) scale(1.03,1)" font-size="20.8" text-anchor="start" fill="#DFA06D">NonPref</text>
<rect x="86.5" y="982.1" width="319.8" height="187.3" fill="none" stroke="#262626" stroke-width="2.2"/>
<line x1="86.5" y1="982.1" x2="91.3" y2="982.1" stroke="#262626" stroke-width="2"/>
<line x1="401.5" y1="982.1" x2="406.3" y2="982.1" stroke="#262626" stroke-width="2"/>
<line x1="86.5" y1="1028.92" x2="91.3" y2="1028.92" stroke="#262626" stroke-width="2"/>
<line x1="401.5" y1="1028.92" x2="406.3" y2="1028.92" stroke="#262626" stroke-width="2"/>
<line x1="86.5" y1="1075.75" x2="91.3" y2="1075.75" stroke="#262626" stroke-width="2"/>
<line x1="401.5" y1="1075.75" x2="406.3" y2="1075.75" stroke="#262626" stroke-width="2"/>
<line x1="86.5" y1="1122.58" x2="91.3" y2="1122.58" stroke="#262626" stroke-width="2"/>
<line x1="401.5" y1="1122.58" x2="406.3" y2="1122.58" stroke="#262626" stroke-width="2"/>
<line x1="86.5" y1="1169.4" x2="91.3" y2="1169.4" stroke="#262626" stroke-width="2"/>
<line x1="401.5" y1="1169.4" x2="406.3" y2="1169.4" stroke="#262626" stroke-width="2"/>
<line x1="86.5" y1="1014.83" x2="89.5" y2="1014.83" stroke="#262626" stroke-width="1.5"/>
<line x1="403.3" y1="1014.83" x2="406.3" y2="1014.83" stroke="#262626" stroke-width="1.5"/>
<line x1="86.5" y1="1006.58" x2="89.5" y2="1006.58" stroke="#262626" stroke-width="1.5"/>
<line x1="403.3" y1="1006.58" x2="406.3" y2="1006.58" stroke="#262626" stroke-width="1.5"/>
<line x1="86.5" y1="1000.73" x2="89.5" y2="1000.73" stroke="#262626" stroke-width="1.5"/>
<line x1="403.3" y1="1000.73" x2="406.3" y2="1000.73" stroke="#262626" stroke-width="1.5"/>
<line x1="86.5" y1="996.2" x2="89.5" y2="996.2" stroke="#262626" stroke-width="1.5"/>
<line x1="403.3" y1="996.2" x2="406.3" y2="996.2" stroke="#262626" stroke-width="1.5"/>
<line x1="86.5" y1="992.49" x2="89.5" y2="992.49" stroke="#262626" stroke-width="1.5"/>
<line x1="403.3" y1="992.49" x2="406.3" y2="992.49" stroke="#262626" stroke-width="1.5"/>
<line x1="86.5" y1="989.35" x2="89.5" y2="989.35" stroke="#262626" stroke-width="1.5"/>
<line x1="403.3" y1="989.35" x2="406.3" y2="989.35" stroke="#262626" stroke-width="1.5"/>
<line x1="86.5" y1="986.64" x2="89.5" y2="986.64" stroke="#262626" stroke-width="1.5"/>
<line x1="403.3" y1="986.64" x2="406.3" y2="986.64" stroke="#262626" stroke-width="1.5"/>
<line x1="86.5" y1="984.24" x2="89.5" y2="984.24" stroke="#262626" stroke-width="1.5"/>
<line x1="403.3" y1="984.24" x2="406.3" y2="984.24" stroke="#262626" stroke-width="1.5"/>
<line x1="86.5" y1="1061.65" x2="89.5" y2="1061.65" stroke="#262626" stroke-width="1.5"/>
<line x1="403.3" y1="1061.65" x2="406.3" y2="1061.65" stroke="#262626" stroke-width="1.5"/>
<line x1="86.5" y1="1053.41" x2="89.5" y2="1053.41" stroke="#262626" stroke-width="1.5"/>
<line x1="403.3" y1="1053.41" x2="406.3" y2="1053.41" stroke="#262626" stroke-width="1.5"/>
<line x1="86.5" y1="1047.56" x2="89.5" y2="1047.56" stroke="#262626" stroke-width="1.5"/>
<line x1="403.3" y1="1047.56" x2="406.3" y2="1047.56" stroke="#262626" stroke-width="1.5"/>
<line x1="86.5" y1="1043.02" x2="89.5" y2="1043.02" stroke="#262626" stroke-width="1.5"/>
<line x1="403.3" y1="1043.02" x2="406.3" y2="1043.02" stroke="#262626" stroke-width="1.5"/>
<line x1="86.5" y1="1039.31" x2="89.5" y2="1039.31" stroke="#262626" stroke-width="1.5"/>
<line x1="403.3" y1="1039.31" x2="406.3" y2="1039.31" stroke="#262626" stroke-width="1.5"/>
<line x1="86.5" y1="1036.18" x2="89.5" y2="1036.18" stroke="#262626" stroke-width="1.5"/>
<line x1="403.3" y1="1036.18" x2="406.3" y2="1036.18" stroke="#262626" stroke-width="1.5"/>
<line x1="86.5" y1="1033.46" x2="89.5" y2="1033.46" stroke="#262626" stroke-width="1.5"/>
<line x1="403.3" y1="1033.46" x2="406.3" y2="1033.46" stroke="#262626" stroke-width="1.5"/>
<line x1="86.5" y1="1031.07" x2="89.5" y2="1031.07" stroke="#262626" stroke-width="1.5"/>
<line x1="403.3" y1="1031.07" x2="406.3" y2="1031.07" stroke="#262626" stroke-width="1.5"/>
<line x1="86.5" y1="1108.48" x2="89.5" y2="1108.48" stroke="#262626" stroke-width="1.5"/>
<line x1="403.3" y1="1108.48" x2="406.3" y2="1108.48" stroke="#262626" stroke-width="1.5"/>
<line x1="86.5" y1="1100.23" x2="89.5" y2="1100.23" stroke="#262626" stroke-width="1.5"/>
<line x1="403.3" y1="1100.23" x2="406.3" y2="1100.23" stroke="#262626" stroke-width="1.5"/>
<line x1="86.5" y1="1094.38" x2="89.5" y2="1094.38" stroke="#262626" stroke-width="1.5"/>
<line x1="403.3" y1="1094.38" x2="406.3" y2="1094.38" stroke="#262626" stroke-width="1.5"/>
<line x1="86.5" y1="1089.85" x2="89.5" y2="1089.85" stroke="#262626" stroke-width="1.5"/>
<line x1="403.3" y1="1089.85" x2="406.3" y2="1089.85" stroke="#262626" stroke-width="1.5"/>
<line x1="86.5" y1="1086.14" x2="89.5" y2="1086.14" stroke="#262626" stroke-width="1.5"/>
<line x1="403.3" y1="1086.14" x2="406.3" y2="1086.14" stroke="#262626" stroke-width="1.5"/>
<line x1="86.5" y1="1083" x2="89.5" y2="1083" stroke="#262626" stroke-width="1.5"/>
<line x1="403.3" y1="1083" x2="406.3" y2="1083" stroke="#262626" stroke-width="1.5"/>
<line x1="86.5" y1="1080.29" x2="89.5" y2="1080.29" stroke="#262626" stroke-width="1.5"/>
<line x1="403.3" y1="1080.29" x2="406.3" y2="1080.29" stroke="#262626" stroke-width="1.5"/>
<line x1="86.5" y1="1077.89" x2="89.5" y2="1077.89" stroke="#262626" stroke-width="1.5"/>
<line x1="403.3" y1="1077.89" x2="406.3" y2="1077.89" stroke="#262626" stroke-width="1.5"/>
<line x1="86.5" y1="1155.3" x2="89.5" y2="1155.3" stroke="#262626" stroke-width="1.5"/>
<line x1="403.3" y1="1155.3" x2="406.3" y2="1155.3" stroke="#262626" stroke-width="1.5"/>
<line x1="86.5" y1="1147.06" x2="89.5" y2="1147.06" stroke="#262626" stroke-width="1.5"/>
<line x1="403.3" y1="1147.06" x2="406.3" y2="1147.06" stroke="#262626" stroke-width="1.5"/>
<line x1="86.5" y1="1141.21" x2="89.5" y2="1141.21" stroke="#262626" stroke-width="1.5"/>
<line x1="403.3" y1="1141.21" x2="406.3" y2="1141.21" stroke="#262626" stroke-width="1.5"/>
<line x1="86.5" y1="1136.67" x2="89.5" y2="1136.67" stroke="#262626" stroke-width="1.5"/>
<line x1="403.3" y1="1136.67" x2="406.3" y2="1136.67" stroke="#262626" stroke-width="1.5"/>
<line x1="86.5" y1="1132.96" x2="89.5" y2="1132.96" stroke="#262626" stroke-width="1.5"/>
<line x1="403.3" y1="1132.96" x2="406.3" y2="1132.96" stroke="#262626" stroke-width="1.5"/>
<line x1="86.5" y1="1129.83" x2="89.5" y2="1129.83" stroke="#262626" stroke-width="1.5"/>
<line x1="403.3" y1="1129.83" x2="406.3" y2="1129.83" stroke="#262626" stroke-width="1.5"/>
<line x1="86.5" y1="1127.11" x2="89.5" y2="1127.11" stroke="#262626" stroke-width="1.5"/>
<line x1="403.3" y1="1127.11" x2="406.3" y2="1127.11" stroke="#262626" stroke-width="1.5"/>
<line x1="86.5" y1="1124.72" x2="89.5" y2="1124.72" stroke="#262626" stroke-width="1.5"/>
<line x1="403.3" y1="1124.72" x2="406.3" y2="1124.72" stroke="#262626" stroke-width="1.5"/>
<line x1="191.9" y1="1169.4" x2="191.9" y2="1164.6" stroke="#262626" stroke-width="2"/>
<line x1="191.9" y1="982.1" x2="191.9" y2="986.9" stroke="#262626" stroke-width="2"/>
<line x1="298.2" y1="1169.4" x2="298.2" y2="1164.6" stroke="#262626" stroke-width="2"/>
<line x1="298.2" y1="982.1" x2="298.2" y2="986.9" stroke="#262626" stroke-width="2"/>
<line x1="406.3" y1="1169.4" x2="406.3" y2="1164.6" stroke="#262626" stroke-width="2"/>
<line x1="406.3" y1="982.1" x2="406.3" y2="986.9" stroke="#262626" stroke-width="2"/>
<text transform="translate(191.9,1200.2) scale(1.03,1)" font-size="22" text-anchor="middle" fill="#262626">50</text>
<text transform="translate(298.2,1200.2) scale(1.03,1)" font-size="22" text-anchor="middle" fill="#262626">100</text>
<text transform="translate(406.3,1200.2) scale(1.03,1)" font-size="22" text-anchor="middle" fill="#262626">150</text>
<text transform="translate(249.2,1227.3) scale(1.03,1)" font-size="24.2" text-anchor="middle" fill="#262626">Frequency (Hz)</text>
<text x="79.7" y="993.8" font-size="20.5" text-anchor="end" fill="#262626">10<tspan font-size="17" dy="-9.8">0</tspan></text>
<text x="79.7" y="1087.45" font-size="20.5" text-anchor="end" fill="#262626">10<tspan font-size="17" dy="-9.8">-2</tspan></text>
<text x="79.7" y="1181.1" font-size="20.5" text-anchor="end" fill="#262626">10<tspan font-size="17" dy="-9.8">-4</tspan></text>
<line x1="87.5" y1="1118.2" x2="406.3" y2="1118.2" stroke="#8a8a8a" stroke-width="2.2" stroke-dasharray="40.5 25.8"/>
<clipPath id="c3"><rect x="86.5" y="982.1" width="319.8" height="187.3"/></clipPath>
<polyline points="87.6,1014.6 88.8,991.9 89.9,1005.5 91,994.1 92.2,1003.3 94.5,1005.5 97.9,1146.7 99,1123.9 101.3,1168.3 108.1,986.2 111.1,1060.2 113.8,1012.4 117.7,994.1 126.8,1137.6 137.7,993 143.9,985.5 151.4,1019.2 168.4,1101.1 178.2,1137.6 188.9,1078.4 202.6,1035.1 216.3,1006.7 231.1,989.6 249.3,1063.6 268.6,1002.1 290.2,996.4 314.1,1028.3 341.4,1075 372.2,1008.9 406.3,990.7" fill="none" stroke="#000" stroke-width="2.2" stroke-linejoin="round" clip-path="url(#c3)"/>
<text transform="translate(27.8,1075.6) rotate(-90) scale(1.03,1)" font-size="24.4" text-anchor="middle" fill="#262626">p-value</text>
<rect x="453.9" y="981.2" width="319.2" height="187.8" fill="none" stroke="#262626" stroke-width="2.2"/>
<line x1="453.9" y1="981.2" x2="458.7" y2="981.2" stroke="#262626" stroke-width="2"/>
<line x1="768.3" y1="981.2" x2="773.1" y2="981.2" stroke="#262626" stroke-width="2"/>
<line x1="453.9" y1="1028.15" x2="458.7" y2="1028.15" stroke="#262626" stroke-width="2"/>
<line x1="768.3" y1="1028.15" x2="773.1" y2="1028.15" stroke="#262626" stroke-width="2"/>
<line x1="453.9" y1="1075.1" x2="458.7" y2="1075.1" stroke="#262626" stroke-width="2"/>
<line x1="768.3" y1="1075.1" x2="773.1" y2="1075.1" stroke="#262626" stroke-width="2"/>
<line x1="453.9" y1="1122.05" x2="458.7" y2="1122.05" stroke="#262626" stroke-width="2"/>
<line x1="768.3" y1="1122.05" x2="773.1" y2="1122.05" stroke="#262626" stroke-width="2"/>
<line x1="453.9" y1="1169" x2="458.7" y2="1169" stroke="#262626" stroke-width="2"/>
<line x1="768.3" y1="1169" x2="773.1" y2="1169" stroke="#262626" stroke-width="2"/>
<line x1="453.9" y1="1014.02" x2="456.9" y2="1014.02" stroke="#262626" stroke-width="1.5"/>
<line x1="770.1" y1="1014.02" x2="773.1" y2="1014.02" stroke="#262626" stroke-width="1.5"/>
<line x1="453.9" y1="1005.75" x2="456.9" y2="1005.75" stroke="#262626" stroke-width="1.5"/>
<line x1="770.1" y1="1005.75" x2="773.1" y2="1005.75" stroke="#262626" stroke-width="1.5"/>
<line x1="453.9" y1="999.88" x2="456.9" y2="999.88" stroke="#262626" stroke-width="1.5"/>
<line x1="770.1" y1="999.88" x2="773.1" y2="999.88" stroke="#262626" stroke-width="1.5"/>
<line x1="453.9" y1="995.33" x2="456.9" y2="995.33" stroke="#262626" stroke-width="1.5"/>
<line x1="770.1" y1="995.33" x2="773.1" y2="995.33" stroke="#262626" stroke-width="1.5"/>
<line x1="453.9" y1="991.62" x2="456.9" y2="991.62" stroke="#262626" stroke-width="1.5"/>
<line x1="770.1" y1="991.62" x2="773.1" y2="991.62" stroke="#262626" stroke-width="1.5"/>
<line x1="453.9" y1="988.47" x2="456.9" y2="988.47" stroke="#262626" stroke-width="1.5"/>
<line x1="770.1" y1="988.47" x2="773.1" y2="988.47" stroke="#262626" stroke-width="1.5"/>
<line x1="453.9" y1="985.75" x2="456.9" y2="985.75" stroke="#262626" stroke-width="1.5"/>
<line x1="770.1" y1="985.75" x2="773.1" y2="985.75" stroke="#262626" stroke-width="1.5"/>
<line x1="453.9" y1="983.35" x2="456.9" y2="983.35" stroke="#262626" stroke-width="1.5"/>
<line x1="770.1" y1="983.35" x2="773.1" y2="983.35" stroke="#262626" stroke-width="1.5"/>
<line x1="453.9" y1="1060.97" x2="456.9" y2="1060.97" stroke="#262626" stroke-width="1.5"/>
<line x1="770.1" y1="1060.97" x2="773.1" y2="1060.97" stroke="#262626" stroke-width="1.5"/>
<line x1="453.9" y1="1052.7" x2="456.9" y2="1052.7" stroke="#262626" stroke-width="1.5"/>
<line x1="770.1" y1="1052.7" x2="773.1" y2="1052.7" stroke="#262626" stroke-width="1.5"/>
<line x1="453.9" y1="1046.83" x2="456.9" y2="1046.83" stroke="#262626" stroke-width="1.5"/>
<line x1="770.1" y1="1046.83" x2="773.1" y2="1046.83" stroke="#262626" stroke-width="1.5"/>
<line x1="453.9" y1="1042.28" x2="456.9" y2="1042.28" stroke="#262626" stroke-width="1.5"/>
<line x1="770.1" y1="1042.28" x2="773.1" y2="1042.28" stroke="#262626" stroke-width="1.5"/>
<line x1="453.9" y1="1038.57" x2="456.9" y2="1038.57" stroke="#262626" stroke-width="1.5"/>
<line x1="770.1" y1="1038.57" x2="773.1" y2="1038.57" stroke="#262626" stroke-width="1.5"/>
<line x1="453.9" y1="1035.42" x2="456.9" y2="1035.42" stroke="#262626" stroke-width="1.5"/>
<line x1="770.1" y1="1035.42" x2="773.1" y2="1035.42" stroke="#262626" stroke-width="1.5"/>
<line x1="453.9" y1="1032.7" x2="456.9" y2="1032.7" stroke="#262626" stroke-width="1.5"/>
<line x1="770.1" y1="1032.7" x2="773.1" y2="1032.7" stroke="#262626" stroke-width="1.5"/>
<line x1="453.9" y1="1030.3" x2="456.9" y2="1030.3" stroke="#262626" stroke-width="1.5"/>
<line x1="770.1" y1="1030.3" x2="773.1" y2="1030.3" stroke="#262626" stroke-width="1.5"/>
<line x1="453.9" y1="1107.92" x2="456.9" y2="1107.92" stroke="#262626" stroke-width="1.5"/>
<line x1="770.1" y1="1107.92" x2="773.1" y2="1107.92" stroke="#262626" stroke-width="1.5"/>
<line x1="453.9" y1="1099.65" x2="456.9" y2="1099.65" stroke="#262626" stroke-width="1.5"/>
<line x1="770.1" y1="1099.65" x2="773.1" y2="1099.65" stroke="#262626" stroke-width="1.5"/>
<line x1="453.9" y1="1093.78" x2="456.9" y2="1093.78" stroke="#262626" stroke-width="1.5"/>
<line x1="770.1" y1="1093.78" x2="773.1" y2="1093.78" stroke="#262626" stroke-width="1.5"/>
<line x1="453.9" y1="1089.23" x2="456.9" y2="1089.23" stroke="#262626" stroke-width="1.5"/>
<line x1="770.1" y1="1089.23" x2="773.1" y2="1089.23" stroke="#262626" stroke-width="1.5"/>
<line x1="453.9" y1="1085.52" x2="456.9" y2="1085.52" stroke="#262626" stroke-width="1.5"/>
<line x1="770.1" y1="1085.52" x2="773.1" y2="1085.52" stroke="#262626" stroke-width="1.5"/>
<line x1="453.9" y1="1082.37" x2="456.9" y2="1082.37" stroke="#262626" stroke-width="1.5"/>
<line x1="770.1" y1="1082.37" x2="773.1" y2="1082.37" stroke="#262626" stroke-width="1.5"/>
<line x1="453.9" y1="1079.65" x2="456.9" y2="1079.65" stroke="#262626" stroke-width="1.5"/>
<line x1="770.1" y1="1079.65" x2="773.1" y2="1079.65" stroke="#262626" stroke-width="1.5"/>
<line x1="453.9" y1="1077.25" x2="456.9" y2="1077.25" stroke="#262626" stroke-width="1.5"/>
<line x1="770.1" y1="1077.25" x2="773.1" y2="1077.25" stroke="#262626" stroke-width="1.5"/>
<line x1="453.9" y1="1154.87" x2="456.9" y2="1154.87" stroke="#262626" stroke-width="1.5"/>
<line x1="770.1" y1="1154.87" x2="773.1" y2="1154.87" stroke="#262626" stroke-width="1.5"/>
<line x1="453.9" y1="1146.6" x2="456.9" y2="1146.6" stroke="#262626" stroke-width="1.5"/>
<line x1="770.1" y1="1146.6" x2="773.1" y2="1146.6" stroke="#262626" stroke-width="1.5"/>
<line x1="453.9" y1="1140.73" x2="456.9" y2="1140.73" stroke="#262626" stroke-width="1.5"/>
<line x1="770.1" y1="1140.73" x2="773.1" y2="1140.73" stroke="#262626" stroke-width="1.5"/>
<line x1="453.9" y1="1136.18" x2="456.9" y2="1136.18" stroke="#262626" stroke-width="1.5"/>
<line x1="770.1" y1="1136.18" x2="773.1" y2="1136.18" stroke="#262626" stroke-width="1.5"/>
<line x1="453.9" y1="1132.47" x2="456.9" y2="1132.47" stroke="#262626" stroke-width="1.5"/>
<line x1="770.1" y1="1132.47" x2="773.1" y2="1132.47" stroke="#262626" stroke-width="1.5"/>
<line x1="453.9" y1="1129.32" x2="456.9" y2="1129.32" stroke="#262626" stroke-width="1.5"/>
<line x1="770.1" y1="1129.32" x2="773.1" y2="1129.32" stroke="#262626" stroke-width="1.5"/>
<line x1="453.9" y1="1126.6" x2="456.9" y2="1126.6" stroke="#262626" stroke-width="1.5"/>
<line x1="770.1" y1="1126.6" x2="773.1" y2="1126.6" stroke="#262626" stroke-width="1.5"/>
<line x1="453.9" y1="1124.2" x2="456.9" y2="1124.2" stroke="#262626" stroke-width="1.5"/>
<line x1="770.1" y1="1124.2" x2="773.1" y2="1124.2" stroke="#262626" stroke-width="1.5"/>
<line x1="558.2" y1="1169" x2="558.2" y2="1164.2" stroke="#262626" stroke-width="2"/>
<line x1="558.2" y1="981.2" x2="558.2" y2="986" stroke="#262626" stroke-width="2"/>
<line x1="665" y1="1169" x2="665" y2="1164.2" stroke="#262626" stroke-width="2"/>
<line x1="665" y1="981.2" x2="665" y2="986" stroke="#262626" stroke-width="2"/>
<line x1="773.1" y1="1169" x2="773.1" y2="1164.2" stroke="#262626" stroke-width="2"/>
<line x1="773.1" y1="981.2" x2="773.1" y2="986" stroke="#262626" stroke-width="2"/>
<text transform="translate(558.2,1197.9) scale(1.03,1)" font-size="22" text-anchor="middle" fill="#262626">50</text>
<text transform="translate(665,1197.9) scale(1.03,1)" font-size="22" text-anchor="middle" fill="#262626">100</text>
<text transform="translate(773.1,1197.9) scale(1.03,1)" font-size="22" text-anchor="middle" fill="#262626">150</text>
<text transform="translate(615.8,1228.5) scale(1.03,1)" font-size="24.2" text-anchor="middle" fill="#262626">Frequency (Hz)</text>
<line x1="454.9" y1="1117.8" x2="773.1" y2="1117.8" stroke="#8a8a8a" stroke-width="2.2" stroke-dasharray="40.5 25.8"/>
<polyline points="453.9,1001 455,981.6 456.9,994.2 458.5,981.6 461.4,1052.2 463.7,983.9 466.4,987.3 469.8,989.6 472.1,1003.3 477.8,982.8 484.6,993 489.2,1016.9 493.3,994.2 499,1038.6 505.1,1021.5 510.8,985 526.8,1037.4 534.7,1019.2 546.1,983.9 557.5,982.1 568.4,982.8 583,997.6 598.5,986.9 616.2,1046.1 636.1,1046.1 657.7,1001 682.3,983.2 708.2,985 739.7,994.2 772.7,1009" fill="none" stroke="#000" stroke-width="2.2" stroke-linejoin="round"/>
<text x="833.7" y="691.6" font-size="29" text-anchor="start" fill="#000" font-weight="bold">f</text>
<text x="1259.5" y="665.1" font-size="29.3" text-anchor="middle" fill="#000">All channels</text>
<clipPath id="c4"><rect x="928" y="703.4" width="319.1" height="188.1"/></clipPath>
<g clip-path="url(#c4)">
<polygon points="928.6,779.7 931.5,807.7 934.8,829 939,845.7 943,853.6 948.5,863.2 956.7,861.8 967.7,878.2 978.6,872.7 986.8,861.8 997.7,867.3 1019.6,875.5 1033.3,864.5 1047,857.7 1060.6,853.6 1074.3,848.1 1090.7,850.9 1107.1,853.6 1131.7,852.2 1156.3,848.1 1183.7,842.7 1211,846.8 1247.5,855 1247.5,863.6 1211,855.4 1183.7,851.3 1156.3,856.7 1131.7,860.8 1107.1,862.2 1090.7,859.5 1074.3,856.7 1060.6,862.2 1047,866.3 1033.3,873.1 1019.6,884.1 997.7,875.9 986.8,870.4 978.6,881.3 967.7,886.8 956.7,870.4 948.5,871.8 943,862.2 939,854.3 934.8,837.6 931.5,816.3 928.6,788.3" fill="#5FA1C6" stroke="none"/>
<polyline points="928.6,779.7 931.5,807.7 934.8,829 939,845.7 943,853.6 948.5,863.2 956.7,861.8 967.7,878.2 978.6,872.7 986.8,861.8 997.7,867.3 1019.6,875.5 1033.3,864.5 1047,857.7 1060.6,853.6 1074.3,848.1 1090.7,850.9 1107.1,853.6 1131.7,852.2 1156.3,848.1 1183.7,842.7 1211,846.8 1247.5,855" fill="none" stroke="#000" stroke-width="2.4" stroke-linejoin="round"/>
<polyline points="928.6,784 931.5,812 934.8,833.3 939,850 943,857.9 948.5,867.5 956.7,866.1 967.7,882.5 978.6,877 986.8,866.1 997.7,871.6 1019.6,879.8 1033.3,868.8 1047,862 1060.6,857.9 1074.3,852.4 1090.7,855.2 1107.1,857.9 1131.7,856.5 1156.3,852.4 1183.7,847 1211,851.1 1247.5,859.3" fill="none" stroke="#000" stroke-width="2.4" stroke-linejoin="round"/>
<polyline points="928.6,788.3 931.5,816.3 934.8,837.6 939,854.3 943,862.2 948.5,871.8 956.7,870.4 967.7,886.8 978.6,881.3 986.8,870.4 997.7,875.9 1019.6,884.1 1033.3,873.1 1047,866.3 1060.6,862.2 1074.3,856.7 1090.7,859.5 1107.1,862.2 1131.7,860.8 1156.3,856.7 1183.7,851.3 1211,855.4 1247.5,863.6" fill="none" stroke="#000" stroke-width="2.4" stroke-linejoin="round"/>
<polygon points="928.6,779.7 931.5,807.7 934.8,829 939,845.7 943,853.6 948.5,863.2 956.7,863.2 967.7,867.3 978.6,864.5 986.8,860.4 997.7,865.9 1011.4,863.2 1022.4,861.8 1044.2,853.6 1060.6,850.9 1077,848.1 1090.7,849.5 1109.9,859.1 1129,864.5 1156.3,868.6 1183.7,864.5 1211,860.4 1247.5,860.4 1247.5,869 1211,869 1183.7,873.1 1156.3,877.2 1129,873.1 1109.9,867.7 1090.7,858.1 1077,856.7 1060.6,859.5 1044.2,862.2 1022.4,870.4 1011.4,871.8 997.7,874.5 986.8,869 978.6,873.1 967.7,875.9 956.7,871.8 948.5,871.8 943,862.2 939,854.3 934.8,837.6 931.5,816.3 928.6,788.3" fill="#E6AF7E" stroke="none"/>
<polyline points="928.6,779.7 931.5,807.7 934.8,829 939,845.7 943,853.6 948.5,863.2 956.7,863.2 967.7,867.3 978.6,864.5 986.8,860.4 997.7,865.9 1011.4,863.2 1022.4,861.8 1044.2,853.6 1060.6,850.9 1077,848.1 1090.7,849.5 1109.9,859.1 1129,864.5 1156.3,868.6 1183.7,864.5 1211,860.4 1247.5,860.4" fill="none" stroke="#000" stroke-width="2.4" stroke-linejoin="round"/>
<polyline points="928.6,784 931.5,812 934.8,833.3 939,850 943,857.9 948.5,867.5 956.7,867.5 967.7,871.6 978.6,868.8 986.8,864.7 997.7,870.2 1011.4,867.5 1022.4,866.1 1044.2,857.9 1060.6,855.2 1077,852.4 1090.7,853.8 1109.9,863.4 1129,868.8 1156.3,872.9 1183.7,868.8 1211,864.7 1247.5,864.7" fill="none" stroke="#000" stroke-width="2.4" stroke-linejoin="round"/>
<polyline points="928.6,788.3 931.5,816.3 934.8,837.6 939,854.3 943,862.2 948.5,871.8 956.7,871.8 967.7,875.9 978.6,873.1 986.8,869 997.7,874.5 1011.4,871.8 1022.4,870.4 1044.2,862.2 1060.6,859.5 1077,856.7 1090.7,858.1 1109.9,867.7 1129,873.1 1156.3,877.2 1183.7,873.1 1211,869 1247.5,869" fill="none" stroke="#000" stroke-width="2.4" stroke-linejoin="round"/>
<polygon points="928.5,785.1 931,815.3 934.6,822.3 938.1,840.4 945.1,858.5 948.1,864.6 951.7,854.5 955,860 955,869 952.2,876.6 947.1,874.6 940.1,868.6 935.1,850.5 930,838.4 928.5,810.2" fill="#000" stroke="none"/>
</g>
<rect x="928" y="703.4" width="319.1" height="188.1" fill="none" stroke="#262626" stroke-width="2.2"/>
<line x1="928" y1="881.4" x2="932.8" y2="881.4" stroke="#262626" stroke-width="2"/>
<line x1="1242.3" y1="881.4" x2="1247.1" y2="881.4" stroke="#262626" stroke-width="2"/>
<line x1="928" y1="807.4" x2="932.8" y2="807.4" stroke="#262626" stroke-width="2"/>
<line x1="1242.3" y1="807.4" x2="1247.1" y2="807.4" stroke="#262626" stroke-width="2"/>
<line x1="928" y1="733.4" x2="932.8" y2="733.4" stroke="#262626" stroke-width="2"/>
<line x1="1242.3" y1="733.4" x2="1247.1" y2="733.4" stroke="#262626" stroke-width="2"/>
<line x1="1032.5" y1="891.5" x2="1032.5" y2="886.7" stroke="#262626" stroke-width="2"/>
<line x1="1032.5" y1="703.4" x2="1032.5" y2="708.2" stroke="#262626" stroke-width="2"/>
<line x1="1139.9" y1="891.5" x2="1139.9" y2="886.7" stroke="#262626" stroke-width="2"/>
<line x1="1139.9" y1="703.4" x2="1139.9" y2="708.2" stroke="#262626" stroke-width="2"/>
<line x1="1247.1" y1="891.5" x2="1247.1" y2="886.7" stroke="#262626" stroke-width="2"/>
<line x1="1247.1" y1="703.4" x2="1247.1" y2="708.2" stroke="#262626" stroke-width="2"/>
<text transform="translate(917.5,889.2) scale(1.03,1)" font-size="22" text-anchor="end" fill="#262626">0</text>
<text transform="translate(917.5,815.2) scale(1.03,1)" font-size="22" text-anchor="end" fill="#262626">0.5</text>
<text transform="translate(917.5,741.2) scale(1.03,1)" font-size="22" text-anchor="end" fill="#262626">1</text>
<text transform="translate(1032.5,919.4) scale(1.03,1)" font-size="22" text-anchor="middle" fill="#262626">50</text>
<text transform="translate(1139.9,919.4) scale(1.03,1)" font-size="22" text-anchor="middle" fill="#262626">100</text>
<text transform="translate(1247.1,919.4) scale(1.03,1)" font-size="22" text-anchor="middle" fill="#262626">150</text>
<text transform="translate(1089.3,949.1) scale(1.03,1)" font-size="24.2" text-anchor="middle" fill="#262626">Frequency (Hz)</text>
<rect x="1131.7" y="795.2" width="82.1" height="4" fill="#000"/>
<text transform="translate(1171.4,798.3) scale(1.03,1)" font-size="22" text-anchor="middle" fill="#000">**</text>
<text x="1075.3" y="688.4" font-size="29.3" text-anchor="middle" fill="#000">Hippocampus</text>
<text transform="translate(878.8,795.7) rotate(-90) scale(1.03,1)" font-size="24.4" text-anchor="middle" fill="#262626">SFC (z)</text>
<text transform="translate(949.2,733.1) scale(1.03,1)" font-size="20.8" text-anchor="start" fill="#3585AB">Pref</text>
<text transform="translate(949.2,757.7) scale(1.03,1)" font-size="20.8" text-anchor="start" fill="#DFA06D">NonPref</text>
<clipPath id="c5"><rect x="1291.1" y="703.1" width="319.3" height="187.4"/></clipPath>
<g clip-path="url(#c5)">
<polygon points="1291.1,811.7 1295.7,847.7 1298.3,832.3 1306,845.1 1315.1,865.7 1325.4,867 1335.7,854.2 1347.2,863.2 1357.5,858 1378.1,846.4 1398.7,846.4 1424.5,845.1 1450.2,849 1473.4,847.7 1494,843.9 1517.2,846.4 1548.1,847.7 1576.4,850.3 1611,849 1611,855.8 1576.4,857.1 1548.1,854.5 1517.2,853.2 1494,850.7 1473.4,854.5 1450.2,855.8 1424.5,851.9 1398.7,853.2 1378.1,853.2 1357.5,864.8 1347.2,870 1335.7,861 1325.4,873.8 1315.1,872.5 1306,851.9 1298.3,839.1 1295.7,854.5 1291.1,818.5" fill="#5FA1C6" stroke="none"/>
<polyline points="1291.1,811.7 1295.7,847.7 1298.3,832.3 1306,845.1 1315.1,865.7 1325.4,867 1335.7,854.2 1347.2,863.2 1357.5,858 1378.1,846.4 1398.7,846.4 1424.5,845.1 1450.2,849 1473.4,847.7 1494,843.9 1517.2,846.4 1548.1,847.7 1576.4,850.3 1611,849" fill="none" stroke="#000" stroke-width="2.4" stroke-linejoin="round"/>
<polyline points="1291.1,815.1 1295.7,851.1 1298.3,835.7 1306,848.5 1315.1,869.1 1325.4,870.4 1335.7,857.6 1347.2,866.6 1357.5,861.4 1378.1,849.8 1398.7,849.8 1424.5,848.5 1450.2,852.4 1473.4,851.1 1494,847.3 1517.2,849.8 1548.1,851.1 1576.4,853.7 1611,852.4" fill="none" stroke="#000" stroke-width="2.4" stroke-linejoin="round"/>
<polyline points="1291.1,818.5 1295.7,854.5 1298.3,839.1 1306,851.9 1315.1,872.5 1325.4,873.8 1335.7,861 1347.2,870 1357.5,864.8 1378.1,853.2 1398.7,853.2 1424.5,851.9 1450.2,855.8 1473.4,854.5 1494,850.7 1517.2,853.2 1548.1,854.5 1576.4,857.1 1611,855.8" fill="none" stroke="#000" stroke-width="2.4" stroke-linejoin="round"/>
<polygon points="1291.1,811.7 1295.7,847.7 1298.3,832.3 1306,845.1 1315.1,865.7 1325.4,867 1335.7,854.2 1347.2,863.2 1357.5,858 1378.1,846.4 1398.7,847.7 1424.5,842.6 1450.2,837.4 1473.4,834.8 1494,836.1 1517.2,841.3 1548.1,842.6 1576.4,843.9 1611,850.3 1611,857.1 1576.4,850.7 1548.1,849.4 1517.2,848.1 1494,842.9 1473.4,841.6 1450.2,844.2 1424.5,849.4 1398.7,854.5 1378.1,853.2 1357.5,864.8 1347.2,870 1335.7,861 1325.4,873.8 1315.1,872.5 1306,851.9 1298.3,839.1 1295.7,854.5 1291.1,818.5" fill="#E6AF7E" stroke="none"/>
<polyline points="1291.1,811.7 1295.7,847.7 1298.3,832.3 1306,845.1 1315.1,865.7 1325.4,867 1335.7,854.2 1347.2,863.2 1357.5,858 1378.1,846.4 1398.7,847.7 1424.5,842.6 1450.2,837.4 1473.4,834.8 1494,836.1 1517.2,841.3 1548.1,842.6 1576.4,843.9 1611,850.3" fill="none" stroke="#000" stroke-width="2.4" stroke-linejoin="round"/>
<polyline points="1291.1,815.1 1295.7,851.1 1298.3,835.7 1306,848.5 1315.1,869.1 1325.4,870.4 1335.7,857.6 1347.2,866.6 1357.5,861.4 1378.1,849.8 1398.7,851.1 1424.5,846 1450.2,840.8 1473.4,838.2 1494,839.5 1517.2,844.7 1548.1,846 1576.4,847.3 1611,853.7" fill="none" stroke="#000" stroke-width="2.4" stroke-linejoin="round"/>
<polyline points="1291.1,818.5 1295.7,854.5 1298.3,839.1 1306,851.9 1315.1,872.5 1325.4,873.8 1335.7,861 1347.2,870 1357.5,864.8 1378.1,853.2 1398.7,854.5 1424.5,849.4 1450.2,844.2 1473.4,841.6 1494,842.9 1517.2,848.1 1548.1,849.4 1576.4,850.7 1611,857.1" fill="none" stroke="#000" stroke-width="2.4" stroke-linejoin="round"/>
<polygon points="1291.1,813.7 1294.8,830.8 1295.5,840.4 1298.3,833.5 1301,840.4 1307.8,847.9 1314,862.9 1320.8,862.6 1329,862.2 1335.9,857.5 1338,859 1338,864.5 1329,869 1326.3,872 1320.1,870.3 1312.6,870.3 1306.5,858.2 1301.7,854.1 1294.8,850.7 1292.1,845.9 1291.1,827.4" fill="#000" stroke="none"/>
</g>
<rect x="1291.1" y="703.1" width="319.3" height="187.4" fill="none" stroke="#262626" stroke-width="2.2"/>
<line x1="1291.1" y1="881.2" x2="1295.9" y2="881.2" stroke="#262626" stroke-width="2"/>
<line x1="1605.6" y1="881.2" x2="1610.4" y2="881.2" stroke="#262626" stroke-width="2"/>
<line x1="1291.1" y1="807.2" x2="1295.9" y2="807.2" stroke="#262626" stroke-width="2"/>
<line x1="1605.6" y1="807.2" x2="1610.4" y2="807.2" stroke="#262626" stroke-width="2"/>
<line x1="1291.1" y1="733.2" x2="1295.9" y2="733.2" stroke="#262626" stroke-width="2"/>
<line x1="1605.6" y1="733.2" x2="1610.4" y2="733.2" stroke="#262626" stroke-width="2"/>
<line x1="1394.9" y1="890.5" x2="1394.9" y2="885.7" stroke="#262626" stroke-width="2"/>
<line x1="1394.9" y1="703.1" x2="1394.9" y2="707.9" stroke="#262626" stroke-width="2"/>
<line x1="1502.5" y1="890.5" x2="1502.5" y2="885.7" stroke="#262626" stroke-width="2"/>
<line x1="1502.5" y1="703.1" x2="1502.5" y2="707.9" stroke="#262626" stroke-width="2"/>
<line x1="1610.4" y1="890.5" x2="1610.4" y2="885.7" stroke="#262626" stroke-width="2"/>
<line x1="1610.4" y1="703.1" x2="1610.4" y2="707.9" stroke="#262626" stroke-width="2"/>
<text transform="translate(1394.9,920.6) scale(1.03,1)" font-size="22" text-anchor="middle" fill="#262626">50</text>
<text transform="translate(1502.5,920.6) scale(1.03,1)" font-size="22" text-anchor="middle" fill="#262626">100</text>
<text transform="translate(1610.4,920.6) scale(1.03,1)" font-size="22" text-anchor="middle" fill="#262626">150</text>
<text transform="translate(1452.8,950) scale(1.03,1)" font-size="24.2" text-anchor="middle" fill="#262626">Frequency (Hz)</text>
<text x="1441.6" y="686.9" font-size="29.3" text-anchor="middle" fill="#000">Amygdala</text>
<text transform="translate(1309.2,736.3) scale(1.03,1)" font-size="20.8" text-anchor="start" fill="#3585AB">Pref</text>
<text transform="translate(1309.2,760) scale(1.03,1)" font-size="20.8" text-anchor="start" fill="#DFA06D">NonPref</text>
<rect x="927.6" y="984.4" width="319.9" height="188.9" fill="none" stroke="#262626" stroke-width="2.2"/>
<line x1="927.6" y1="984.4" x2="932.4" y2="984.4" stroke="#262626" stroke-width="2"/>
<line x1="1242.7" y1="984.4" x2="1247.5" y2="984.4" stroke="#262626" stroke-width="2"/>
<line x1="927.6" y1="1031.62" x2="932.4" y2="1031.62" stroke="#262626" stroke-width="2"/>
<line x1="1242.7" y1="1031.62" x2="1247.5" y2="1031.62" stroke="#262626" stroke-width="2"/>
<line x1="927.6" y1="1078.85" x2="932.4" y2="1078.85" stroke="#262626" stroke-width="2"/>
<line x1="1242.7" y1="1078.85" x2="1247.5" y2="1078.85" stroke="#262626" stroke-width="2"/>
<line x1="927.6" y1="1126.08" x2="932.4" y2="1126.08" stroke="#262626" stroke-width="2"/>
<line x1="1242.7" y1="1126.08" x2="1247.5" y2="1126.08" stroke="#262626" stroke-width="2"/>
<line x1="927.6" y1="1173.3" x2="932.4" y2="1173.3" stroke="#262626" stroke-width="2"/>
<line x1="1242.7" y1="1173.3" x2="1247.5" y2="1173.3" stroke="#262626" stroke-width="2"/>
<line x1="927.6" y1="1017.41" x2="930.6" y2="1017.41" stroke="#262626" stroke-width="1.5"/>
<line x1="1244.5" y1="1017.41" x2="1247.5" y2="1017.41" stroke="#262626" stroke-width="1.5"/>
<line x1="927.6" y1="1009.09" x2="930.6" y2="1009.09" stroke="#262626" stroke-width="1.5"/>
<line x1="1244.5" y1="1009.09" x2="1247.5" y2="1009.09" stroke="#262626" stroke-width="1.5"/>
<line x1="927.6" y1="1003.19" x2="930.6" y2="1003.19" stroke="#262626" stroke-width="1.5"/>
<line x1="1244.5" y1="1003.19" x2="1247.5" y2="1003.19" stroke="#262626" stroke-width="1.5"/>
<line x1="927.6" y1="998.62" x2="930.6" y2="998.62" stroke="#262626" stroke-width="1.5"/>
<line x1="1244.5" y1="998.62" x2="1247.5" y2="998.62" stroke="#262626" stroke-width="1.5"/>
<line x1="927.6" y1="994.88" x2="930.6" y2="994.88" stroke="#262626" stroke-width="1.5"/>
<line x1="1244.5" y1="994.88" x2="1247.5" y2="994.88" stroke="#262626" stroke-width="1.5"/>
<line x1="927.6" y1="991.72" x2="930.6" y2="991.72" stroke="#262626" stroke-width="1.5"/>
<line x1="1244.5" y1="991.72" x2="1247.5" y2="991.72" stroke="#262626" stroke-width="1.5"/>
<line x1="927.6" y1="988.98" x2="930.6" y2="988.98" stroke="#262626" stroke-width="1.5"/>
<line x1="1244.5" y1="988.98" x2="1247.5" y2="988.98" stroke="#262626" stroke-width="1.5"/>
<line x1="927.6" y1="986.56" x2="930.6" y2="986.56" stroke="#262626" stroke-width="1.5"/>
<line x1="1244.5" y1="986.56" x2="1247.5" y2="986.56" stroke="#262626" stroke-width="1.5"/>
<line x1="927.6" y1="1064.63" x2="930.6" y2="1064.63" stroke="#262626" stroke-width="1.5"/>
<line x1="1244.5" y1="1064.63" x2="1247.5" y2="1064.63" stroke="#262626" stroke-width="1.5"/>
<line x1="927.6" y1="1056.32" x2="930.6" y2="1056.32" stroke="#262626" stroke-width="1.5"/>
<line x1="1244.5" y1="1056.32" x2="1247.5" y2="1056.32" stroke="#262626" stroke-width="1.5"/>
<line x1="927.6" y1="1050.42" x2="930.6" y2="1050.42" stroke="#262626" stroke-width="1.5"/>
<line x1="1244.5" y1="1050.42" x2="1247.5" y2="1050.42" stroke="#262626" stroke-width="1.5"/>
<line x1="927.6" y1="1045.84" x2="930.6" y2="1045.84" stroke="#262626" stroke-width="1.5"/>
<line x1="1244.5" y1="1045.84" x2="1247.5" y2="1045.84" stroke="#262626" stroke-width="1.5"/>
<line x1="927.6" y1="1042.1" x2="930.6" y2="1042.1" stroke="#262626" stroke-width="1.5"/>
<line x1="1244.5" y1="1042.1" x2="1247.5" y2="1042.1" stroke="#262626" stroke-width="1.5"/>
<line x1="927.6" y1="1038.94" x2="930.6" y2="1038.94" stroke="#262626" stroke-width="1.5"/>
<line x1="1244.5" y1="1038.94" x2="1247.5" y2="1038.94" stroke="#262626" stroke-width="1.5"/>
<line x1="927.6" y1="1036.2" x2="930.6" y2="1036.2" stroke="#262626" stroke-width="1.5"/>
<line x1="1244.5" y1="1036.2" x2="1247.5" y2="1036.2" stroke="#262626" stroke-width="1.5"/>
<line x1="927.6" y1="1033.79" x2="930.6" y2="1033.79" stroke="#262626" stroke-width="1.5"/>
<line x1="1244.5" y1="1033.79" x2="1247.5" y2="1033.79" stroke="#262626" stroke-width="1.5"/>
<line x1="927.6" y1="1111.86" x2="930.6" y2="1111.86" stroke="#262626" stroke-width="1.5"/>
<line x1="1244.5" y1="1111.86" x2="1247.5" y2="1111.86" stroke="#262626" stroke-width="1.5"/>
<line x1="927.6" y1="1103.54" x2="930.6" y2="1103.54" stroke="#262626" stroke-width="1.5"/>
<line x1="1244.5" y1="1103.54" x2="1247.5" y2="1103.54" stroke="#262626" stroke-width="1.5"/>
<line x1="927.6" y1="1097.64" x2="930.6" y2="1097.64" stroke="#262626" stroke-width="1.5"/>
<line x1="1244.5" y1="1097.64" x2="1247.5" y2="1097.64" stroke="#262626" stroke-width="1.5"/>
<line x1="927.6" y1="1093.07" x2="930.6" y2="1093.07" stroke="#262626" stroke-width="1.5"/>
<line x1="1244.5" y1="1093.07" x2="1247.5" y2="1093.07" stroke="#262626" stroke-width="1.5"/>
<line x1="927.6" y1="1089.33" x2="930.6" y2="1089.33" stroke="#262626" stroke-width="1.5"/>
<line x1="1244.5" y1="1089.33" x2="1247.5" y2="1089.33" stroke="#262626" stroke-width="1.5"/>
<line x1="927.6" y1="1086.17" x2="930.6" y2="1086.17" stroke="#262626" stroke-width="1.5"/>
<line x1="1244.5" y1="1086.17" x2="1247.5" y2="1086.17" stroke="#262626" stroke-width="1.5"/>
<line x1="927.6" y1="1083.43" x2="930.6" y2="1083.43" stroke="#262626" stroke-width="1.5"/>
<line x1="1244.5" y1="1083.43" x2="1247.5" y2="1083.43" stroke="#262626" stroke-width="1.5"/>
<line x1="927.6" y1="1081.01" x2="930.6" y2="1081.01" stroke="#262626" stroke-width="1.5"/>
<line x1="1244.5" y1="1081.01" x2="1247.5" y2="1081.01" stroke="#262626" stroke-width="1.5"/>
<line x1="927.6" y1="1159.08" x2="930.6" y2="1159.08" stroke="#262626" stroke-width="1.5"/>
<line x1="1244.5" y1="1159.08" x2="1247.5" y2="1159.08" stroke="#262626" stroke-width="1.5"/>
<line x1="927.6" y1="1150.77" x2="930.6" y2="1150.77" stroke="#262626" stroke-width="1.5"/>
<line x1="1244.5" y1="1150.77" x2="1247.5" y2="1150.77" stroke="#262626" stroke-width="1.5"/>
<line x1="927.6" y1="1144.87" x2="930.6" y2="1144.87" stroke="#262626" stroke-width="1.5"/>
<line x1="1244.5" y1="1144.87" x2="1247.5" y2="1144.87" stroke="#262626" stroke-width="1.5"/>
<line x1="927.6" y1="1140.29" x2="930.6" y2="1140.29" stroke="#262626" stroke-width="1.5"/>
<line x1="1244.5" y1="1140.29" x2="1247.5" y2="1140.29" stroke="#262626" stroke-width="1.5"/>
<line x1="927.6" y1="1136.55" x2="930.6" y2="1136.55" stroke="#262626" stroke-width="1.5"/>
<line x1="1244.5" y1="1136.55" x2="1247.5" y2="1136.55" stroke="#262626" stroke-width="1.5"/>
<line x1="927.6" y1="1133.39" x2="930.6" y2="1133.39" stroke="#262626" stroke-width="1.5"/>
<line x1="1244.5" y1="1133.39" x2="1247.5" y2="1133.39" stroke="#262626" stroke-width="1.5"/>
<line x1="927.6" y1="1130.65" x2="930.6" y2="1130.65" stroke="#262626" stroke-width="1.5"/>
<line x1="1244.5" y1="1130.65" x2="1247.5" y2="1130.65" stroke="#262626" stroke-width="1.5"/>
<line x1="927.6" y1="1128.24" x2="930.6" y2="1128.24" stroke="#262626" stroke-width="1.5"/>
<line x1="1244.5" y1="1128.24" x2="1247.5" y2="1128.24" stroke="#262626" stroke-width="1.5"/>
<line x1="1032.8" y1="1173.3" x2="1032.8" y2="1168.5" stroke="#262626" stroke-width="2"/>
<line x1="1032.8" y1="984.4" x2="1032.8" y2="989.2" stroke="#262626" stroke-width="2"/>
<line x1="1140.9" y1="1173.3" x2="1140.9" y2="1168.5" stroke="#262626" stroke-width="2"/>
<line x1="1140.9" y1="984.4" x2="1140.9" y2="989.2" stroke="#262626" stroke-width="2"/>
<line x1="1247.5" y1="1173.3" x2="1247.5" y2="1168.5" stroke="#262626" stroke-width="2"/>
<line x1="1247.5" y1="984.4" x2="1247.5" y2="989.2" stroke="#262626" stroke-width="2"/>
<text transform="translate(1032.8,1201.7) scale(1.03,1)" font-size="22" text-anchor="middle" fill="#262626">50</text>
<text transform="translate(1140.9,1201.7) scale(1.03,1)" font-size="22" text-anchor="middle" fill="#262626">100</text>
<text transform="translate(1247.5,1201.7) scale(1.03,1)" font-size="22" text-anchor="middle" fill="#262626">150</text>
<text transform="translate(1089.9,1233) scale(1.03,1)" font-size="24.2" text-anchor="middle" fill="#262626">Frequency (Hz)</text>
<text x="920.8" y="996.1" font-size="20.5" text-anchor="end" fill="#262626">10<tspan font-size="17" dy="-9.8">0</tspan></text>
<text x="920.8" y="1090.55" font-size="20.5" text-anchor="end" fill="#262626">10<tspan font-size="17" dy="-9.8">-2</tspan></text>
<text x="920.8" y="1185" font-size="20.5" text-anchor="end" fill="#262626">10<tspan font-size="17" dy="-9.8">-4</tspan></text>
<line x1="928.6" y1="1121.6" x2="1247.5" y2="1121.6" stroke="#8a8a8a" stroke-width="2.2" stroke-dasharray="40.5 25.8"/>
<clipPath id="c6"><rect x="927.6" y="984.4" width="319.9" height="188.9"/></clipPath>
<polyline points="928.8,1016.9 930.6,1026 932.2,1019.2 933.3,1038.5 935.6,990.7 940.2,1011.2 942.4,996.4 944.7,1001 947,986.2 949.7,996.4 952,1071.5 955.4,1004.4 959.5,1007.8 962.9,1057.9 967.5,1060.2 973.2,1078.4 978.9,1023.7 985.7,988.5 991.4,987.8 1000.5,998.7 1009.6,1060.2 1019.8,1088.6 1030.1,1063.6 1042.6,1012.4 1057.4,991.9 1073.3,995.3 1090.4,993.7 1109.7,1006.7 1131.4,1049.9 1155.3,1117.1 1183.7,1172.8 1213.3,1076.1 1247.5,995.3" fill="none" stroke="#000" stroke-width="2.2" stroke-linejoin="round" clip-path="url(#c6)"/>
<text transform="translate(870,1078.9) rotate(-90) scale(1.03,1)" font-size="24.4" text-anchor="middle" fill="#262626">p value</text>
<rect x="1290.9" y="984.4" width="319.5" height="188.5" fill="none" stroke="#262626" stroke-width="2.2"/>
<line x1="1290.9" y1="984.4" x2="1295.7" y2="984.4" stroke="#262626" stroke-width="2"/>
<line x1="1605.6" y1="984.4" x2="1610.4" y2="984.4" stroke="#262626" stroke-width="2"/>
<line x1="1290.9" y1="1031.53" x2="1295.7" y2="1031.53" stroke="#262626" stroke-width="2"/>
<line x1="1605.6" y1="1031.53" x2="1610.4" y2="1031.53" stroke="#262626" stroke-width="2"/>
<line x1="1290.9" y1="1078.65" x2="1295.7" y2="1078.65" stroke="#262626" stroke-width="2"/>
<line x1="1605.6" y1="1078.65" x2="1610.4" y2="1078.65" stroke="#262626" stroke-width="2"/>
<line x1="1290.9" y1="1125.78" x2="1295.7" y2="1125.78" stroke="#262626" stroke-width="2"/>
<line x1="1605.6" y1="1125.78" x2="1610.4" y2="1125.78" stroke="#262626" stroke-width="2"/>
<line x1="1290.9" y1="1172.9" x2="1295.7" y2="1172.9" stroke="#262626" stroke-width="2"/>
<line x1="1605.6" y1="1172.9" x2="1610.4" y2="1172.9" stroke="#262626" stroke-width="2"/>
<line x1="1290.9" y1="1017.34" x2="1293.9" y2="1017.34" stroke="#262626" stroke-width="1.5"/>
<line x1="1607.4" y1="1017.34" x2="1610.4" y2="1017.34" stroke="#262626" stroke-width="1.5"/>
<line x1="1290.9" y1="1009.04" x2="1293.9" y2="1009.04" stroke="#262626" stroke-width="1.5"/>
<line x1="1607.4" y1="1009.04" x2="1610.4" y2="1009.04" stroke="#262626" stroke-width="1.5"/>
<line x1="1290.9" y1="1003.15" x2="1293.9" y2="1003.15" stroke="#262626" stroke-width="1.5"/>
<line x1="1607.4" y1="1003.15" x2="1610.4" y2="1003.15" stroke="#262626" stroke-width="1.5"/>
<line x1="1290.9" y1="998.59" x2="1293.9" y2="998.59" stroke="#262626" stroke-width="1.5"/>
<line x1="1607.4" y1="998.59" x2="1610.4" y2="998.59" stroke="#262626" stroke-width="1.5"/>
<line x1="1290.9" y1="994.85" x2="1293.9" y2="994.85" stroke="#262626" stroke-width="1.5"/>
<line x1="1607.4" y1="994.85" x2="1610.4" y2="994.85" stroke="#262626" stroke-width="1.5"/>
<line x1="1290.9" y1="991.7" x2="1293.9" y2="991.7" stroke="#262626" stroke-width="1.5"/>
<line x1="1607.4" y1="991.7" x2="1610.4" y2="991.7" stroke="#262626" stroke-width="1.5"/>
<line x1="1290.9" y1="988.97" x2="1293.9" y2="988.97" stroke="#262626" stroke-width="1.5"/>
<line x1="1607.4" y1="988.97" x2="1610.4" y2="988.97" stroke="#262626" stroke-width="1.5"/>
<line x1="1290.9" y1="986.56" x2="1293.9" y2="986.56" stroke="#262626" stroke-width="1.5"/>
<line x1="1607.4" y1="986.56" x2="1610.4" y2="986.56" stroke="#262626" stroke-width="1.5"/>
<line x1="1290.9" y1="1064.46" x2="1293.9" y2="1064.46" stroke="#262626" stroke-width="1.5"/>
<line x1="1607.4" y1="1064.46" x2="1610.4" y2="1064.46" stroke="#262626" stroke-width="1.5"/>
<line x1="1290.9" y1="1056.17" x2="1293.9" y2="1056.17" stroke="#262626" stroke-width="1.5"/>
<line x1="1607.4" y1="1056.17" x2="1610.4" y2="1056.17" stroke="#262626" stroke-width="1.5"/>
<line x1="1290.9" y1="1050.28" x2="1293.9" y2="1050.28" stroke="#262626" stroke-width="1.5"/>
<line x1="1607.4" y1="1050.28" x2="1610.4" y2="1050.28" stroke="#262626" stroke-width="1.5"/>
<line x1="1290.9" y1="1045.71" x2="1293.9" y2="1045.71" stroke="#262626" stroke-width="1.5"/>
<line x1="1607.4" y1="1045.71" x2="1610.4" y2="1045.71" stroke="#262626" stroke-width="1.5"/>
<line x1="1290.9" y1="1041.98" x2="1293.9" y2="1041.98" stroke="#262626" stroke-width="1.5"/>
<line x1="1607.4" y1="1041.98" x2="1610.4" y2="1041.98" stroke="#262626" stroke-width="1.5"/>
<line x1="1290.9" y1="1038.82" x2="1293.9" y2="1038.82" stroke="#262626" stroke-width="1.5"/>
<line x1="1607.4" y1="1038.82" x2="1610.4" y2="1038.82" stroke="#262626" stroke-width="1.5"/>
<line x1="1290.9" y1="1036.09" x2="1293.9" y2="1036.09" stroke="#262626" stroke-width="1.5"/>
<line x1="1607.4" y1="1036.09" x2="1610.4" y2="1036.09" stroke="#262626" stroke-width="1.5"/>
<line x1="1290.9" y1="1033.68" x2="1293.9" y2="1033.68" stroke="#262626" stroke-width="1.5"/>
<line x1="1607.4" y1="1033.68" x2="1610.4" y2="1033.68" stroke="#262626" stroke-width="1.5"/>
<line x1="1290.9" y1="1111.59" x2="1293.9" y2="1111.59" stroke="#262626" stroke-width="1.5"/>
<line x1="1607.4" y1="1111.59" x2="1610.4" y2="1111.59" stroke="#262626" stroke-width="1.5"/>
<line x1="1290.9" y1="1103.29" x2="1293.9" y2="1103.29" stroke="#262626" stroke-width="1.5"/>
<line x1="1607.4" y1="1103.29" x2="1610.4" y2="1103.29" stroke="#262626" stroke-width="1.5"/>
<line x1="1290.9" y1="1097.4" x2="1293.9" y2="1097.4" stroke="#262626" stroke-width="1.5"/>
<line x1="1607.4" y1="1097.4" x2="1610.4" y2="1097.4" stroke="#262626" stroke-width="1.5"/>
<line x1="1290.9" y1="1092.84" x2="1293.9" y2="1092.84" stroke="#262626" stroke-width="1.5"/>
<line x1="1607.4" y1="1092.84" x2="1610.4" y2="1092.84" stroke="#262626" stroke-width="1.5"/>
<line x1="1290.9" y1="1089.1" x2="1293.9" y2="1089.1" stroke="#262626" stroke-width="1.5"/>
<line x1="1607.4" y1="1089.1" x2="1610.4" y2="1089.1" stroke="#262626" stroke-width="1.5"/>
<line x1="1290.9" y1="1085.95" x2="1293.9" y2="1085.95" stroke="#262626" stroke-width="1.5"/>
<line x1="1607.4" y1="1085.95" x2="1610.4" y2="1085.95" stroke="#262626" stroke-width="1.5"/>
<line x1="1290.9" y1="1083.22" x2="1293.9" y2="1083.22" stroke="#262626" stroke-width="1.5"/>
<line x1="1607.4" y1="1083.22" x2="1610.4" y2="1083.22" stroke="#262626" stroke-width="1.5"/>
<line x1="1290.9" y1="1080.81" x2="1293.9" y2="1080.81" stroke="#262626" stroke-width="1.5"/>
<line x1="1607.4" y1="1080.81" x2="1610.4" y2="1080.81" stroke="#262626" stroke-width="1.5"/>
<line x1="1290.9" y1="1158.71" x2="1293.9" y2="1158.71" stroke="#262626" stroke-width="1.5"/>
<line x1="1607.4" y1="1158.71" x2="1610.4" y2="1158.71" stroke="#262626" stroke-width="1.5"/>
<line x1="1290.9" y1="1150.42" x2="1293.9" y2="1150.42" stroke="#262626" stroke-width="1.5"/>
<line x1="1607.4" y1="1150.42" x2="1610.4" y2="1150.42" stroke="#262626" stroke-width="1.5"/>
<line x1="1290.9" y1="1144.53" x2="1293.9" y2="1144.53" stroke="#262626" stroke-width="1.5"/>
<line x1="1607.4" y1="1144.53" x2="1610.4" y2="1144.53" stroke="#262626" stroke-width="1.5"/>
<line x1="1290.9" y1="1139.96" x2="1293.9" y2="1139.96" stroke="#262626" stroke-width="1.5"/>
<line x1="1607.4" y1="1139.96" x2="1610.4" y2="1139.96" stroke="#262626" stroke-width="1.5"/>
<line x1="1290.9" y1="1136.23" x2="1293.9" y2="1136.23" stroke="#262626" stroke-width="1.5"/>
<line x1="1607.4" y1="1136.23" x2="1610.4" y2="1136.23" stroke="#262626" stroke-width="1.5"/>
<line x1="1290.9" y1="1133.07" x2="1293.9" y2="1133.07" stroke="#262626" stroke-width="1.5"/>
<line x1="1607.4" y1="1133.07" x2="1610.4" y2="1133.07" stroke="#262626" stroke-width="1.5"/>
<line x1="1290.9" y1="1130.34" x2="1293.9" y2="1130.34" stroke="#262626" stroke-width="1.5"/>
<line x1="1607.4" y1="1130.34" x2="1610.4" y2="1130.34" stroke="#262626" stroke-width="1.5"/>
<line x1="1290.9" y1="1127.93" x2="1293.9" y2="1127.93" stroke="#262626" stroke-width="1.5"/>
<line x1="1607.4" y1="1127.93" x2="1610.4" y2="1127.93" stroke="#262626" stroke-width="1.5"/>
<line x1="1394.5" y1="1172.9" x2="1394.5" y2="1168.1" stroke="#262626" stroke-width="2"/>
<line x1="1394.5" y1="984.4" x2="1394.5" y2="989.2" stroke="#262626" stroke-width="2"/>
<line x1="1502.2" y1="1172.9" x2="1502.2" y2="1168.1" stroke="#262626" stroke-width="2"/>
<line x1="1502.2" y1="984.4" x2="1502.2" y2="989.2" stroke="#262626" stroke-width="2"/>
<line x1="1610.4" y1="1172.9" x2="1610.4" y2="1168.1" stroke="#262626" stroke-width="2"/>
<line x1="1610.4" y1="984.4" x2="1610.4" y2="989.2" stroke="#262626" stroke-width="2"/>
<text transform="translate(1394.5,1201.3) scale(1.03,1)" font-size="22" text-anchor="middle" fill="#262626">50</text>
<text transform="translate(1502.2,1201.3) scale(1.03,1)" font-size="22" text-anchor="middle" fill="#262626">100</text>
<text transform="translate(1610.4,1201.3) scale(1.03,1)" font-size="22" text-anchor="middle" fill="#262626">150</text>
<text transform="translate(1453,1232) scale(1.03,1)" font-size="24.2" text-anchor="middle" fill="#262626">Frequency (Hz)</text>
<line x1="1291.9" y1="1120.7" x2="1610.4" y2="1120.7" stroke="#8a8a8a" stroke-width="2.2" stroke-dasharray="40.5 25.8"/>
<polyline points="1291.6,1003.3 1292.8,987.3 1294.6,985 1296.2,1005.5 1298.5,1112.6 1300.7,1048.8 1303,1044.2 1307.6,1029.4 1310.5,1027.2 1315.5,990.7 1318.3,984.6 1326.5,1021.5 1331,991.9 1336,1073.8 1348.6,986.2 1355.4,1010.1 1363.4,993.7 1372.5,994.2 1382.7,1009.6 1394.1,1002.1 1406.6,985.5 1420.3,988.5 1436.2,1016.9 1453.3,1077.3 1472.6,1108.5 1494.3,1016.9 1519.3,985.5 1545.5,1000.5 1576.2,1030.6 1610.4,997.6" fill="none" stroke="#000" stroke-width="2.2" stroke-linejoin="round"/>
<path d="M1875.7,801L1946.6,986M1875.7,913.9L1946.6,961M1875.7,940.1L1946.6,1118M1875.7,965.7L1946.6,967M1875.7,968.5L1946.6,975M1875.7,987L1946.6,1033M1875.7,1000.2L1946.6,1088M1875.7,1015.6L1946.6,1055M1875.7,1036.6L1946.6,1014M1875.7,1038.7L1946.6,1041M1875.7,1041.2L1946.6,1117M1875.7,1042.7L1946.6,1064M1875.7,1048.6L1946.6,1121M1875.7,1078.8L1946.6,1049M1875.7,1100.4L1946.6,1020M1875.7,1103.5L1946.6,1090M1875.7,1045L1946.6,1118M1875.7,1030L1946.6,1079" stroke="#858585" stroke-width="2" fill="none"/>
<path d="M1841.8,801a3.6,3.6 0 1,0 7.2,0a3.6,3.6 0 1,0 -7.2,0M1839.1,913.9a3.6,3.6 0 1,0 7.2,0a3.6,3.6 0 1,0 -7.2,0M1842.2,940.1a3.6,3.6 0 1,0 7.2,0a3.6,3.6 0 1,0 -7.2,0M1836.6,965.7a3.6,3.6 0 1,0 7.2,0a3.6,3.6 0 1,0 -7.2,0M1839.7,968.5a3.6,3.6 0 1,0 7.2,0a3.6,3.6 0 1,0 -7.2,0M1829.6,987a3.6,3.6 0 1,0 7.2,0a3.6,3.6 0 1,0 -7.2,0M1832,1000.2a3.6,3.6 0 1,0 7.2,0a3.6,3.6 0 1,0 -7.2,0M1836.6,1015.6a3.6,3.6 0 1,0 7.2,0a3.6,3.6 0 1,0 -7.2,0M1833.6,1036.6a3.6,3.6 0 1,0 7.2,0a3.6,3.6 0 1,0 -7.2,0M1837.3,1038.7a3.6,3.6 0 1,0 7.2,0a3.6,3.6 0 1,0 -7.2,0M1835.7,1041.2a3.6,3.6 0 1,0 7.2,0a3.6,3.6 0 1,0 -7.2,0M1842.8,1042.7a3.6,3.6 0 1,0 7.2,0a3.6,3.6 0 1,0 -7.2,0M1829.6,1048.6a3.6,3.6 0 1,0 7.2,0a3.6,3.6 0 1,0 -7.2,0M1830.5,1078.8a3.6,3.6 0 1,0 7.2,0a3.6,3.6 0 1,0 -7.2,0M1832.6,1100.4a3.6,3.6 0 1,0 7.2,0a3.6,3.6 0 1,0 -7.2,0M1842.2,1103.5a3.6,3.6 0 1,0 7.2,0a3.6,3.6 0 1,0 -7.2,0" fill="#2E89B0"/>
<path d="M1974.7,960.8a3.6,3.6 0 1,0 7.2,0a3.6,3.6 0 1,0 -7.2,0M1975.3,968.5a3.6,3.6 0 1,0 7.2,0a3.6,3.6 0 1,0 -7.2,0M1978.4,975.6a3.6,3.6 0 1,0 7.2,0a3.6,3.6 0 1,0 -7.2,0M1976.9,986.3a3.6,3.6 0 1,0 7.2,0a3.6,3.6 0 1,0 -7.2,0M1984.6,1014.7a3.6,3.6 0 1,0 7.2,0a3.6,3.6 0 1,0 -7.2,0M1981.5,1019.6a3.6,3.6 0 1,0 7.2,0a3.6,3.6 0 1,0 -7.2,0M1972.9,1033.5a3.6,3.6 0 1,0 7.2,0a3.6,3.6 0 1,0 -7.2,0M1979.9,1041.2a3.6,3.6 0 1,0 7.2,0a3.6,3.6 0 1,0 -7.2,0M1978.4,1048.6a3.6,3.6 0 1,0 7.2,0a3.6,3.6 0 1,0 -7.2,0M1982.4,1055.7a3.6,3.6 0 1,0 7.2,0a3.6,3.6 0 1,0 -7.2,0M1979.9,1064.6a3.6,3.6 0 1,0 7.2,0a3.6,3.6 0 1,0 -7.2,0M1983,1079.4a3.6,3.6 0 1,0 7.2,0a3.6,3.6 0 1,0 -7.2,0M1973.8,1088a3.6,3.6 0 1,0 7.2,0a3.6,3.6 0 1,0 -7.2,0M1975.9,1089.6a3.6,3.6 0 1,0 7.2,0a3.6,3.6 0 1,0 -7.2,0M1982.4,1090.5a3.6,3.6 0 1,0 7.2,0a3.6,3.6 0 1,0 -7.2,0M1971.6,1117.3a3.6,3.6 0 1,0 7.2,0a3.6,3.6 0 1,0 -7.2,0M1981.5,1116.7a3.6,3.6 0 1,0 7.2,0a3.6,3.6 0 1,0 -7.2,0M1981.5,1120.4a3.6,3.6 0 1,0 7.2,0a3.6,3.6 0 1,0 -7.2,0" fill="#E5A766"/>
<line x1="1811" y1="993.1" x2="1868.6" y2="993.1" stroke="#000" stroke-width="2.2"/>
<line x1="1811" y1="1009.2" x2="1868.6" y2="1009.2" stroke="#000" stroke-width="5"/>
<line x1="1811" y1="1025.5" x2="1868.6" y2="1025.5" stroke="#000" stroke-width="2.2"/>
<line x1="1953.6" y1="1036.3" x2="2010.4" y2="1036.3" stroke="#000" stroke-width="2.2"/>
<line x1="1953.6" y1="1048" x2="2010.4" y2="1048" stroke="#000" stroke-width="5"/>
<line x1="1953.6" y1="1059.7" x2="2010.4" y2="1059.7" stroke="#000" stroke-width="2.2"/>
<rect x="1769" y="707.7" width="284" height="470.8" fill="none" stroke="#262626" stroke-width="2.2"/>
<line x1="1769" y1="1178.5" x2="1775" y2="1178.5" stroke="#262626" stroke-width="2"/>
<line x1="2047" y1="1178.5" x2="2053" y2="1178.5" stroke="#262626" stroke-width="2"/>
<line x1="1769" y1="1084.4" x2="1775" y2="1084.4" stroke="#262626" stroke-width="2"/>
<line x1="2047" y1="1084.4" x2="2053" y2="1084.4" stroke="#262626" stroke-width="2"/>
<line x1="1769" y1="990.3" x2="1775" y2="990.3" stroke="#262626" stroke-width="2"/>
<line x1="2047" y1="990.3" x2="2053" y2="990.3" stroke="#262626" stroke-width="2"/>
<line x1="1769" y1="896.2" x2="1775" y2="896.2" stroke="#262626" stroke-width="2"/>
<line x1="2047" y1="896.2" x2="2053" y2="896.2" stroke="#262626" stroke-width="2"/>
<line x1="1769" y1="802.1" x2="1775" y2="802.1" stroke="#262626" stroke-width="2"/>
<line x1="2047" y1="802.1" x2="2053" y2="802.1" stroke="#262626" stroke-width="2"/>
<line x1="1769" y1="708" x2="1775" y2="708" stroke="#262626" stroke-width="2"/>
<line x1="2047" y1="708" x2="2053" y2="708" stroke="#262626" stroke-width="2"/>
<line x1="1840" y1="1178.5" x2="1840" y2="1172.5" stroke="#262626" stroke-width="2"/>
<line x1="1840" y1="707.7" x2="1840" y2="713.7" stroke="#262626" stroke-width="2"/>
<line x1="1981.5" y1="1178.5" x2="1981.5" y2="1172.5" stroke="#262626" stroke-width="2"/>
<line x1="1981.5" y1="707.7" x2="1981.5" y2="713.7" stroke="#262626" stroke-width="2"/>
<text transform="translate(1761,1187) scale(1.03,1)" font-size="23" text-anchor="end" fill="#262626">-0.2</text>
<text transform="translate(1761,1092.9) scale(1.03,1)" font-size="23" text-anchor="end" fill="#262626">0</text>
<text transform="translate(1761,998.8) scale(1.03,1)" font-size="23" text-anchor="end" fill="#262626">0.2</text>
<text transform="translate(1761,904.7) scale(1.03,1)" font-size="23" text-anchor="end" fill="#262626">0.4</text>
<text transform="translate(1761,810.6) scale(1.03,1)" font-size="23" text-anchor="end" fill="#262626">0.6</text>
<text transform="translate(1761,716.5) scale(1.03,1)" font-size="23" text-anchor="end" fill="#262626">0.8</text>
<text transform="translate(1840,1207.6) scale(1.03,1)" font-size="23" text-anchor="middle" fill="#262626">Pref</text>
<text transform="translate(1981.5,1207.6) scale(1.03,1)" font-size="23" text-anchor="middle" fill="#262626">NonPref</text>
<text transform="translate(1905.1,1234) scale(1.03,1)" font-size="25" text-anchor="middle" fill="#262626">Trial type</text>
<text transform="translate(1711,939) rotate(-90) scale(1.03,1)" font-size="25.5" text-anchor="middle" fill="#262626">Gamma SFC (z)</text>
<text x="1912" y="692.8" font-size="29.3" text-anchor="middle" fill="#000">patient-level</text>
<text x="1678.5" y="691.5" font-size="29" text-anchor="start" fill="#000" font-weight="bold">g</text>
<path d="M1842.3,760.2V748.7H1979.3V760.2" fill="none" stroke="#000" stroke-width="2.2"/>
<text transform="translate(1912.8,748.2) scale(1.03,1)" font-size="27.5" text-anchor="middle" fill="#000">**</text>
</svg>
</body></html>
